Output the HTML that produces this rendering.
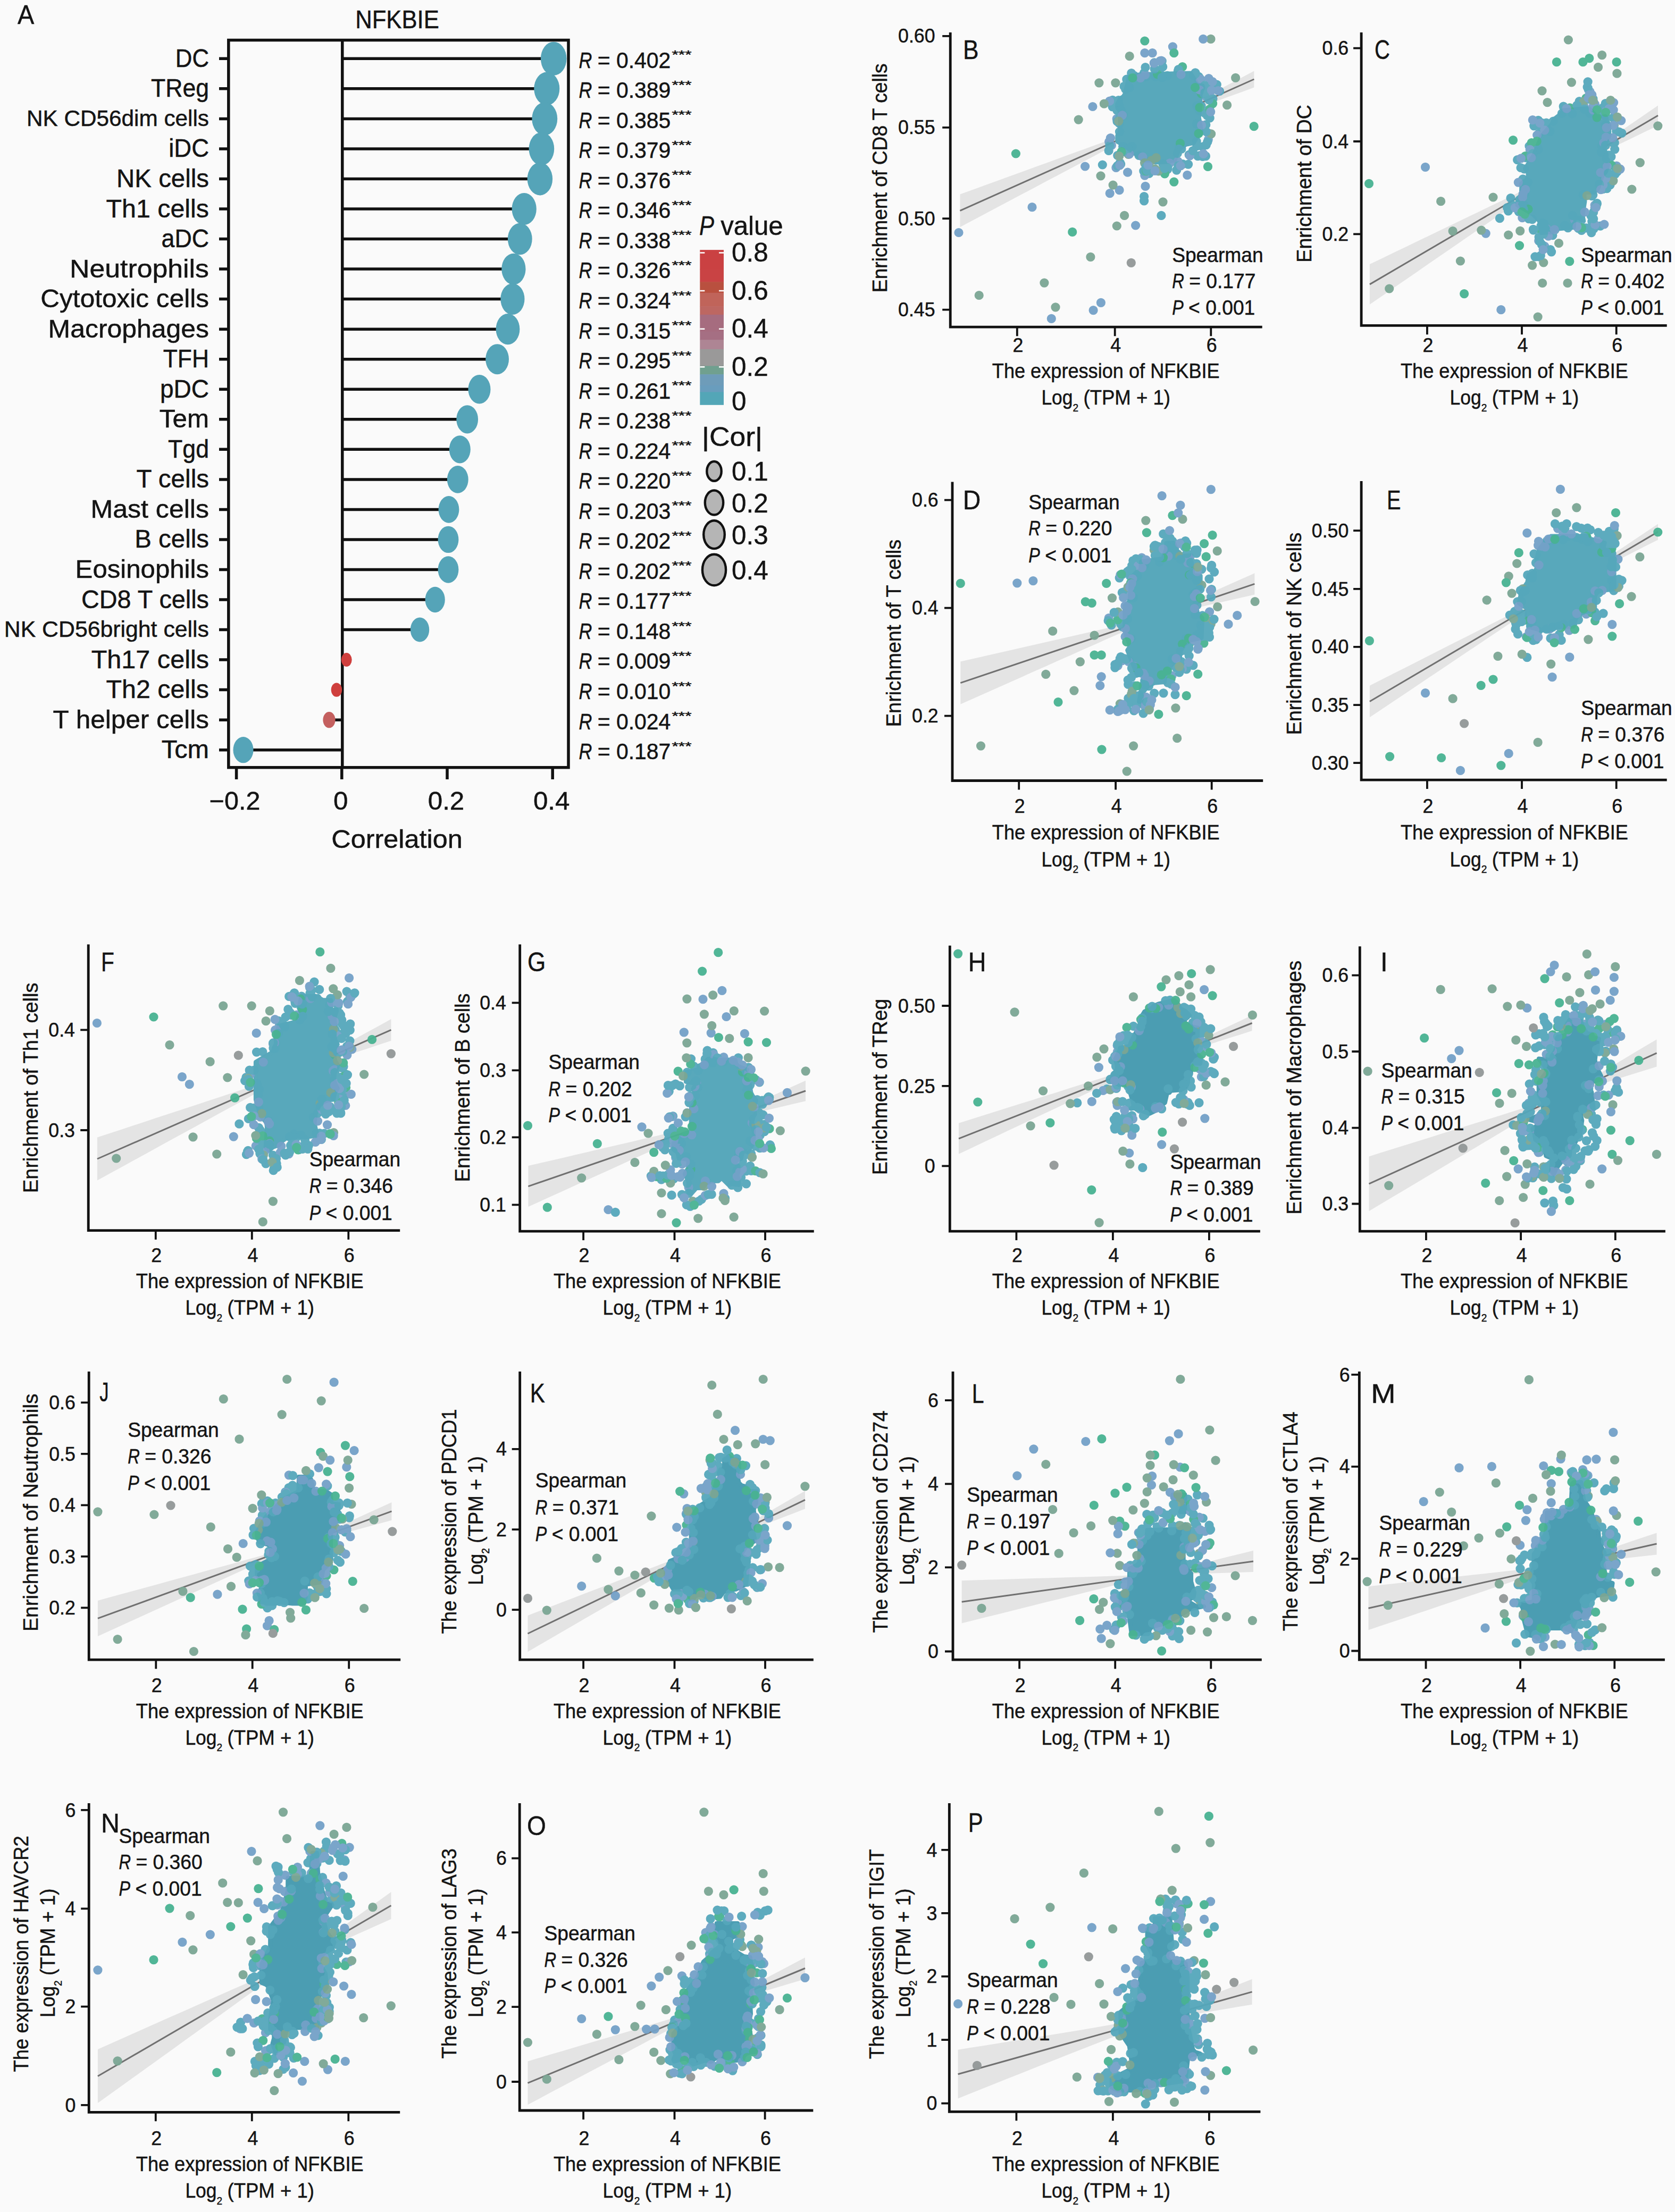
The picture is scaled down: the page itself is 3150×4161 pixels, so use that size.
<!DOCTYPE html>
<html lang="en"><head><meta charset="utf-8"><title>NFKBIE immune infiltration correlation</title>
<style>html,body{margin:0;padding:0;background:#fafafa}svg{display:block}text{font-family:"Liberation Sans",sans-serif;fill:#141414;stroke:#141414;stroke-width:0.5px}</style></head><body>
<svg width="3150" height="4161" viewBox="0 0 3150 4161" role="img" aria-label="NFKBIE correlation with immune infiltration and checkpoint genes">
<rect width="3150" height="4161" fill="#fafafa"/>
<g id="pA"><text x="668.2" y="52.5" font-size="47.6" textLength="157.6" lengthAdjust="spacingAndGlyphs">NFKBIE</text>
<text x="33" y="45" font-size="50.1" textLength="31.3" lengthAdjust="spacingAndGlyphs">A</text>
<g transform="translate(1088.5 127.6)"><text x="0" y="0" font-size="42.4" font-style="italic" textLength="24.9" lengthAdjust="spacingAndGlyphs">R</text><text x="35.2" y="0" font-size="42.4" textLength="137.7" lengthAdjust="spacingAndGlyphs">= 0.402</text><text x="175" y="-17.4" font-size="22.9" stroke="none" textLength="37" lengthAdjust="spacingAndGlyphs">***</text></g>
<g transform="translate(1088.5 184.1)"><text x="0" y="0" font-size="42.4" font-style="italic" textLength="24.9" lengthAdjust="spacingAndGlyphs">R</text><text x="35.2" y="0" font-size="42.4" textLength="137.7" lengthAdjust="spacingAndGlyphs">= 0.389</text><text x="175" y="-17.4" font-size="22.9" stroke="none" textLength="37" lengthAdjust="spacingAndGlyphs">***</text></g>
<g transform="translate(1088.5 240.7)"><text x="0" y="0" font-size="42.4" font-style="italic" textLength="24.9" lengthAdjust="spacingAndGlyphs">R</text><text x="35.2" y="0" font-size="42.4" textLength="137.7" lengthAdjust="spacingAndGlyphs">= 0.385</text><text x="175" y="-17.4" font-size="22.9" stroke="none" textLength="37" lengthAdjust="spacingAndGlyphs">***</text></g>
<g transform="translate(1088.5 297.2)"><text x="0" y="0" font-size="42.4" font-style="italic" textLength="24.9" lengthAdjust="spacingAndGlyphs">R</text><text x="35.2" y="0" font-size="42.4" textLength="137.7" lengthAdjust="spacingAndGlyphs">= 0.379</text><text x="175" y="-17.4" font-size="22.9" stroke="none" textLength="37" lengthAdjust="spacingAndGlyphs">***</text></g>
<g transform="translate(1088.5 353.8)"><text x="0" y="0" font-size="42.4" font-style="italic" textLength="24.9" lengthAdjust="spacingAndGlyphs">R</text><text x="35.2" y="0" font-size="42.4" textLength="137.7" lengthAdjust="spacingAndGlyphs">= 0.376</text><text x="175" y="-17.4" font-size="22.9" stroke="none" textLength="37" lengthAdjust="spacingAndGlyphs">***</text></g>
<g transform="translate(1088.5 410.3)"><text x="0" y="0" font-size="42.4" font-style="italic" textLength="24.9" lengthAdjust="spacingAndGlyphs">R</text><text x="35.2" y="0" font-size="42.4" textLength="137.7" lengthAdjust="spacingAndGlyphs">= 0.346</text><text x="175" y="-17.4" font-size="22.9" stroke="none" textLength="37" lengthAdjust="spacingAndGlyphs">***</text></g>
<g transform="translate(1088.5 466.8)"><text x="0" y="0" font-size="42.4" font-style="italic" textLength="24.9" lengthAdjust="spacingAndGlyphs">R</text><text x="35.2" y="0" font-size="42.4" textLength="137.7" lengthAdjust="spacingAndGlyphs">= 0.338</text><text x="175" y="-17.4" font-size="22.9" stroke="none" textLength="37" lengthAdjust="spacingAndGlyphs">***</text></g>
<g transform="translate(1088.5 523.4)"><text x="0" y="0" font-size="42.4" font-style="italic" textLength="24.9" lengthAdjust="spacingAndGlyphs">R</text><text x="35.2" y="0" font-size="42.4" textLength="137.7" lengthAdjust="spacingAndGlyphs">= 0.326</text><text x="175" y="-17.4" font-size="22.9" stroke="none" textLength="37" lengthAdjust="spacingAndGlyphs">***</text></g>
<g transform="translate(1088.5 579.9)"><text x="0" y="0" font-size="42.4" font-style="italic" textLength="24.9" lengthAdjust="spacingAndGlyphs">R</text><text x="35.2" y="0" font-size="42.4" textLength="137.7" lengthAdjust="spacingAndGlyphs">= 0.324</text><text x="175" y="-17.4" font-size="22.9" stroke="none" textLength="37" lengthAdjust="spacingAndGlyphs">***</text></g>
<g transform="translate(1088.5 636.5)"><text x="0" y="0" font-size="42.4" font-style="italic" textLength="24.9" lengthAdjust="spacingAndGlyphs">R</text><text x="35.2" y="0" font-size="42.4" textLength="137.7" lengthAdjust="spacingAndGlyphs">= 0.315</text><text x="175" y="-17.4" font-size="22.9" stroke="none" textLength="37" lengthAdjust="spacingAndGlyphs">***</text></g>
<g transform="translate(1088.5 693)"><text x="0" y="0" font-size="42.4" font-style="italic" textLength="24.9" lengthAdjust="spacingAndGlyphs">R</text><text x="35.2" y="0" font-size="42.4" textLength="137.7" lengthAdjust="spacingAndGlyphs">= 0.295</text><text x="175" y="-17.4" font-size="22.9" stroke="none" textLength="37" lengthAdjust="spacingAndGlyphs">***</text></g>
<g transform="translate(1088.5 749.5)"><text x="0" y="0" font-size="42.4" font-style="italic" textLength="24.9" lengthAdjust="spacingAndGlyphs">R</text><text x="35.2" y="0" font-size="42.4" textLength="137.7" lengthAdjust="spacingAndGlyphs">= 0.261</text><text x="175" y="-17.4" font-size="22.9" stroke="none" textLength="37" lengthAdjust="spacingAndGlyphs">***</text></g>
<g transform="translate(1088.5 806.1)"><text x="0" y="0" font-size="42.4" font-style="italic" textLength="24.9" lengthAdjust="spacingAndGlyphs">R</text><text x="35.2" y="0" font-size="42.4" textLength="137.7" lengthAdjust="spacingAndGlyphs">= 0.238</text><text x="175" y="-17.4" font-size="22.9" stroke="none" textLength="37" lengthAdjust="spacingAndGlyphs">***</text></g>
<g transform="translate(1088.5 862.6)"><text x="0" y="0" font-size="42.4" font-style="italic" textLength="24.9" lengthAdjust="spacingAndGlyphs">R</text><text x="35.2" y="0" font-size="42.4" textLength="137.7" lengthAdjust="spacingAndGlyphs">= 0.224</text><text x="175" y="-17.4" font-size="22.9" stroke="none" textLength="37" lengthAdjust="spacingAndGlyphs">***</text></g>
<g transform="translate(1088.5 919.2)"><text x="0" y="0" font-size="42.4" font-style="italic" textLength="24.9" lengthAdjust="spacingAndGlyphs">R</text><text x="35.2" y="0" font-size="42.4" textLength="137.7" lengthAdjust="spacingAndGlyphs">= 0.220</text><text x="175" y="-17.4" font-size="22.9" stroke="none" textLength="37" lengthAdjust="spacingAndGlyphs">***</text></g>
<g transform="translate(1088.5 975.7)"><text x="0" y="0" font-size="42.4" font-style="italic" textLength="24.9" lengthAdjust="spacingAndGlyphs">R</text><text x="35.2" y="0" font-size="42.4" textLength="137.7" lengthAdjust="spacingAndGlyphs">= 0.203</text><text x="175" y="-17.4" font-size="22.9" stroke="none" textLength="37" lengthAdjust="spacingAndGlyphs">***</text></g>
<g transform="translate(1088.5 1032.2)"><text x="0" y="0" font-size="42.4" font-style="italic" textLength="24.9" lengthAdjust="spacingAndGlyphs">R</text><text x="35.2" y="0" font-size="42.4" textLength="137.7" lengthAdjust="spacingAndGlyphs">= 0.202</text><text x="175" y="-17.4" font-size="22.9" stroke="none" textLength="37" lengthAdjust="spacingAndGlyphs">***</text></g>
<g transform="translate(1088.5 1088.8)"><text x="0" y="0" font-size="42.4" font-style="italic" textLength="24.9" lengthAdjust="spacingAndGlyphs">R</text><text x="35.2" y="0" font-size="42.4" textLength="137.7" lengthAdjust="spacingAndGlyphs">= 0.202</text><text x="175" y="-17.4" font-size="22.9" stroke="none" textLength="37" lengthAdjust="spacingAndGlyphs">***</text></g>
<g transform="translate(1088.5 1145.3)"><text x="0" y="0" font-size="42.4" font-style="italic" textLength="24.9" lengthAdjust="spacingAndGlyphs">R</text><text x="35.2" y="0" font-size="42.4" textLength="137.7" lengthAdjust="spacingAndGlyphs">= 0.177</text><text x="175" y="-17.4" font-size="22.9" stroke="none" textLength="37" lengthAdjust="spacingAndGlyphs">***</text></g>
<g transform="translate(1088.5 1201.9)"><text x="0" y="0" font-size="42.4" font-style="italic" textLength="24.9" lengthAdjust="spacingAndGlyphs">R</text><text x="35.2" y="0" font-size="42.4" textLength="137.7" lengthAdjust="spacingAndGlyphs">= 0.148</text><text x="175" y="-17.4" font-size="22.9" stroke="none" textLength="37" lengthAdjust="spacingAndGlyphs">***</text></g>
<g transform="translate(1088.5 1258.4)"><text x="0" y="0" font-size="42.4" font-style="italic" textLength="24.9" lengthAdjust="spacingAndGlyphs">R</text><text x="35.2" y="0" font-size="42.4" textLength="137.7" lengthAdjust="spacingAndGlyphs">= 0.009</text><text x="175" y="-17.4" font-size="22.9" stroke="none" textLength="37" lengthAdjust="spacingAndGlyphs">***</text></g>
<g transform="translate(1088.5 1314.9)"><text x="0" y="0" font-size="42.4" font-style="italic" textLength="24.9" lengthAdjust="spacingAndGlyphs">R</text><text x="35.2" y="0" font-size="42.4" textLength="137.7" lengthAdjust="spacingAndGlyphs">= 0.010</text><text x="175" y="-17.4" font-size="22.9" stroke="none" textLength="37" lengthAdjust="spacingAndGlyphs">***</text></g>
<g transform="translate(1088.5 1371.5)"><text x="0" y="0" font-size="42.4" font-style="italic" textLength="24.9" lengthAdjust="spacingAndGlyphs">R</text><text x="35.2" y="0" font-size="42.4" textLength="137.7" lengthAdjust="spacingAndGlyphs">= 0.024</text><text x="175" y="-17.4" font-size="22.9" stroke="none" textLength="37" lengthAdjust="spacingAndGlyphs">***</text></g>
<g transform="translate(1088.5 1428)"><text x="0" y="0" font-size="42.4" font-style="italic" textLength="24.9" lengthAdjust="spacingAndGlyphs">R</text><text x="35.2" y="0" font-size="42.4" textLength="137.7" lengthAdjust="spacingAndGlyphs">= 0.187</text><text x="175" y="-17.4" font-size="22.9" stroke="none" textLength="37" lengthAdjust="spacingAndGlyphs">***</text></g>
<text x="329.8" y="125.8" font-size="47.3" textLength="63.2" lengthAdjust="spacingAndGlyphs">DC</text>
<text x="284" y="182.3" font-size="47.3" textLength="109" lengthAdjust="spacingAndGlyphs">TReg</text>
<text x="49.9" y="236.9" font-size="41.6" textLength="343.1" lengthAdjust="spacingAndGlyphs">NK CD56dim cells</text>
<text x="317.2" y="295.4" font-size="47.3" textLength="75.8" lengthAdjust="spacingAndGlyphs">iDC</text>
<text x="219.1" y="352" font-size="47.3" textLength="173.9" lengthAdjust="spacingAndGlyphs">NK cells</text>
<text x="199.6" y="408.5" font-size="47.3" textLength="193.4" lengthAdjust="spacingAndGlyphs">Th1 cells</text>
<text x="303.5" y="465" font-size="47.3" textLength="89.5" lengthAdjust="spacingAndGlyphs">aDC</text>
<text x="131" y="521.6" font-size="47.3" textLength="262" lengthAdjust="spacingAndGlyphs">Neutrophils</text>
<text x="76.3" y="578.1" font-size="47.3" textLength="316.7" lengthAdjust="spacingAndGlyphs">Cytotoxic cells</text>
<text x="90.6" y="634.7" font-size="47.3" textLength="302.4" lengthAdjust="spacingAndGlyphs">Macrophages</text>
<text x="306.7" y="691.2" font-size="47.3" textLength="86.3" lengthAdjust="spacingAndGlyphs">TFH</text>
<text x="300.9" y="747.7" font-size="47.3" textLength="92.1" lengthAdjust="spacingAndGlyphs">pDC</text>
<text x="299.8" y="804.3" font-size="47.3" textLength="93.2" lengthAdjust="spacingAndGlyphs">Tem</text>
<text x="316" y="860.8" font-size="47.3" textLength="77" lengthAdjust="spacingAndGlyphs">Tgd</text>
<text x="256.4" y="917.4" font-size="47.3" textLength="136.6" lengthAdjust="spacingAndGlyphs">T cells</text>
<text x="170.5" y="973.9" font-size="47.3" textLength="222.5" lengthAdjust="spacingAndGlyphs">Mast cells</text>
<text x="253.3" y="1030.4" font-size="47.3" textLength="139.7" lengthAdjust="spacingAndGlyphs">B cells</text>
<text x="141.6" y="1087" font-size="47.3" textLength="251.4" lengthAdjust="spacingAndGlyphs">Eosinophils</text>
<text x="152.9" y="1143.5" font-size="47.3" textLength="240.1" lengthAdjust="spacingAndGlyphs">CD8 T cells</text>
<text x="7.8" y="1198.1" font-size="41.6" textLength="385.2" lengthAdjust="spacingAndGlyphs">NK CD56bright cells</text>
<text x="171.7" y="1256.6" font-size="47.3" textLength="221.3" lengthAdjust="spacingAndGlyphs">Th17 cells</text>
<text x="199.6" y="1313.1" font-size="47.3" textLength="193.4" lengthAdjust="spacingAndGlyphs">Th2 cells</text>
<text x="99.6" y="1369.7" font-size="47.3" textLength="293.4" lengthAdjust="spacingAndGlyphs">T helper cells</text>
<text x="303.8" y="1426.2" font-size="47.3" textLength="89.2" lengthAdjust="spacingAndGlyphs">Tcm</text>
<path d="M412 110.3H430M412 166.8H430M412 223.4H430M412 279.9H430M412 336.5H430M412 393H430M412 449.5H430M412 506.1H430M412 562.6H430M412 619.2H430M412 675.7H430M412 732.2H430M412 788.8H430M412 845.3H430M412 901.9H430M412 958.4H430M412 1014.9H430M412 1071.5H430M412 1128H430M412 1184.6H430M412 1241.1H430M412 1297.6H430M412 1354.2H430M412 1410.7H430M444.6 1443V1466M642.8 1443V1466M841 1443V1466M1039.2 1443V1466" stroke="#111" stroke-width="5.5" fill="none"/>
<path d="M642.8 110.3H1041.2M642.8 166.8H1028.3M642.8 223.4H1024.3M642.8 279.9H1018.4M642.8 336.5H1015.4M642.8 393H985.7M642.8 449.5H977.8M642.8 506.1H965.9M642.8 562.6H963.9M642.8 619.2H955M642.8 675.7H935.1M642.8 732.2H901.5M642.8 788.8H878.7M642.8 845.3H864.8M642.8 901.9H860.8M642.8 958.4H844M642.8 1014.9H843M642.8 1071.5H843M642.8 1128H818.2M642.8 1184.6H789.5M642.8 1241.1H651.7M642.8 1297.6H632.9M642.8 1354.2H619M642.8 1410.7H457.5" stroke="#111" stroke-width="5.5" fill="none"/>
<path d="M643.8 75.5V1443.7" stroke="#111" stroke-width="5.5" fill="none"/>
<ellipse cx="1041.2" cy="110.3" rx="24.3" ry="31.6" fill="#55a4b8"/><ellipse cx="1028.3" cy="166.8" rx="24" ry="31.2" fill="#55a4b8"/><ellipse cx="1024.3" cy="223.4" rx="23.9" ry="31.1" fill="#55a4b8"/><ellipse cx="1018.4" cy="279.9" rx="23.8" ry="31" fill="#55a4b8"/><ellipse cx="1015.4" cy="336.5" rx="23.7" ry="30.9" fill="#55a4b8"/><ellipse cx="985.7" cy="393" rx="23.1" ry="30" fill="#55a4b8"/><ellipse cx="977.8" cy="449.5" rx="22.9" ry="29.8" fill="#55a4b8"/><ellipse cx="965.9" cy="506.1" rx="22.6" ry="29.4" fill="#55a4b8"/><ellipse cx="963.9" cy="562.6" rx="22.6" ry="29.4" fill="#55a4b8"/><ellipse cx="955" cy="619.2" rx="22.4" ry="29.1" fill="#55a4b8"/><ellipse cx="935.1" cy="675.7" rx="21.9" ry="28.5" fill="#55a4b8"/><ellipse cx="901.5" cy="732.2" rx="21" ry="27.3" fill="#55a4b8"/><ellipse cx="878.7" cy="788.8" rx="20.4" ry="26.6" fill="#55a4b8"/><ellipse cx="864.8" cy="845.3" rx="20" ry="26.1" fill="#55a4b8"/><ellipse cx="860.8" cy="901.9" rx="19.9" ry="25.9" fill="#55a4b8"/><ellipse cx="844" cy="958.4" rx="19.4" ry="25.3" fill="#55a4b8"/><ellipse cx="843" cy="1014.9" rx="19.4" ry="25.2" fill="#55a4b8"/><ellipse cx="843" cy="1071.5" rx="19.4" ry="25.2" fill="#55a4b8"/><ellipse cx="818.2" cy="1128" rx="18.6" ry="24.2" fill="#55a4b8"/><ellipse cx="789.5" cy="1184.6" rx="17.7" ry="23" fill="#55a4b8"/><ellipse cx="651.7" cy="1241.1" rx="10" ry="13" fill="#cf3f3d"/><ellipse cx="632.9" cy="1297.6" rx="10.2" ry="13.2" fill="#cf3f3d"/><ellipse cx="619" cy="1354.2" rx="11.6" ry="15.1" fill="#c4605f"/><ellipse cx="457.5" cy="1410.7" rx="19" ry="24.6" fill="#55a4b8"/>
<rect x="429.8" y="75.5" width="639.2" height="1368.2" fill="none" stroke="#111" stroke-width="5.5"/>
<text x="393.8" y="1522.5" font-size="47.6" textLength="95.6" lengthAdjust="spacingAndGlyphs">−0.2</text>
<text x="627.1" y="1522.5" font-size="47.6" textLength="27.5" lengthAdjust="spacingAndGlyphs">0</text>
<text x="804.7" y="1522.5" font-size="47.6" textLength="68.6" lengthAdjust="spacingAndGlyphs">0.2</text>
<text x="1002.9" y="1522.5" font-size="47.6" textLength="68.6" lengthAdjust="spacingAndGlyphs">0.4</text>
<text x="623.3" y="1595" font-size="48.1" textLength="246.5" lengthAdjust="spacingAndGlyphs">Correlation</text>
<g transform="translate(1315 441.6)"><text x="0" y="0" font-size="50.1" font-style="italic" textLength="28" lengthAdjust="spacingAndGlyphs">P</text><text x="40.2" y="0" font-size="50.1" textLength="117.5" lengthAdjust="spacingAndGlyphs">value</text></g>
<rect x="1316.3" y="470.1" width="44.7" height="37" fill="#ca4142"/>
<rect x="1316.3" y="506.5" width="44.7" height="24.3" fill="#c94344"/>
<rect x="1316.3" y="530.2" width="44.7" height="21.2" fill="#b9503f"/>
<rect x="1316.3" y="550.8" width="44.7" height="25.9" fill="#c0645a"/>
<rect x="1316.3" y="576.1" width="44.7" height="16.4" fill="#bd6762"/>
<rect x="1316.3" y="591.9" width="44.7" height="32.2" fill="#a66c7f"/>
<rect x="1316.3" y="623.5" width="44.7" height="16.4" fill="#a56f83"/>
<rect x="1316.3" y="639.4" width="44.7" height="18" fill="#ae8594"/>
<rect x="1316.3" y="656.8" width="44.7" height="32.2" fill="#9a9999"/>
<rect x="1316.3" y="688.4" width="44.7" height="16.4" fill="#70a08f"/>
<rect x="1316.3" y="704.2" width="44.7" height="21.2" fill="#6e9cb9"/>
<rect x="1316.3" y="724.8" width="44.7" height="13.3" fill="#699dbd"/>
<rect x="1316.3" y="737.5" width="44.7" height="24.3" fill="#53a6b7"/>
<text x="1376" y="492" font-size="50.1" textLength="68.6" lengthAdjust="spacingAndGlyphs">0.8</text>
<text x="1376" y="563.6" font-size="50.1" textLength="68.6" lengthAdjust="spacingAndGlyphs">0.6</text>
<text x="1376" y="635.2" font-size="50.1" textLength="68.6" lengthAdjust="spacingAndGlyphs">0.4</text>
<text x="1376" y="706.8" font-size="50.1" textLength="68.6" lengthAdjust="spacingAndGlyphs">0.2</text>
<text x="1376" y="771.9" font-size="50.1" textLength="27.5" lengthAdjust="spacingAndGlyphs">0</text>
<path d="M1316.3 475.5h9M1361 475.5h-9M1316.3 547.1h9M1361 547.1h-9M1316.3 618.7h9M1361 618.7h-9M1316.3 690.3h9M1361 690.3h-9" stroke="#fff" stroke-width="2.5" fill="none"/>
<text x="1320" y="839" font-size="50.1" textLength="114" lengthAdjust="spacingAndGlyphs">|Cor|</text>
<ellipse cx="1343" cy="886.4" rx="13.7" ry="18.4" fill="#b5b5b5" stroke="#111" stroke-width="4.4"/>
<text x="1376" y="904.4" font-size="50.1" textLength="68.6" lengthAdjust="spacingAndGlyphs">0.1</text>
<ellipse cx="1343" cy="945.5" rx="17.2" ry="23" fill="#b5b5b5" stroke="#111" stroke-width="4.4"/>
<text x="1376" y="963.5" font-size="50.1" textLength="68.6" lengthAdjust="spacingAndGlyphs">0.2</text>
<ellipse cx="1343" cy="1005.7" rx="19.8" ry="26.4" fill="#b5b5b5" stroke="#111" stroke-width="4.4"/>
<text x="1376" y="1023.7" font-size="50.1" textLength="68.6" lengthAdjust="spacingAndGlyphs">0.3</text>
<ellipse cx="1343" cy="1072" rx="22.1" ry="29.3" fill="#b5b5b5" stroke="#111" stroke-width="4.4"/>
<text x="1376" y="1090" font-size="50.1" textLength="68.6" lengthAdjust="spacingAndGlyphs">0.4</text></g>
<g id="pB">
<path d="M1805.4 365.6L1828.4 357.2L1851.5 348.8L1874.5 340.4L1897.6 332.1L1920.6 323.7L1943.6 315.3L1966.7 306.9L1989.7 298.5L2012.8 290.1L2035.8 281.7L2058.9 273.3L2081.9 264.9L2105 256.5L2128 248L2151 239.4L2174.1 230L2197.1 218.8L2220.2 206.8L2243.2 194.6L2266.3 182.4L2289.3 170.2L2312.4 158L2335.4 145.8L2358.4 133.6L2358.4 164.5L2335.4 172.9L2312.4 181.3L2289.3 189.7L2266.3 198.1L2243.2 206.5L2220.2 215L2197.1 223.6L2174.1 232.9L2151 244.2L2128 256.2L2105 268.4L2081.9 280.5L2058.9 292.8L2035.8 305L2012.8 317.2L1989.7 329.4L1966.7 341.6L1943.6 353.9L1920.6 366.1L1897.6 378.3L1874.5 390.5L1851.5 402.8L1828.4 415L1805.4 427.2" fill="#e4e4e4"/>
<path d="M1805.4 396.4L2358.4 149" stroke="#707070" stroke-width="3" fill="none"/>
<path d="M2101.3 195.5L2101.3 202.6L2105.2 207.3L2106.6 213.4L2106.6 245.5L2104.9 250.8L2101.3 255.1L2101.3 266.3L2107.8 270.4L2109 273.8L2112.9 273.7L2119.8 277.8L2150.6 301.7L2169.2 301.8L2172.4 305.5L2199.5 304.2L2202.8 301.9L2209.3 301.7L2214.5 287L2220.1 278.9L2230.5 271.7L2244.7 269.1L2249.8 260L2258.4 251.9L2259.1 244.8L2254.7 220.8L2257.1 200.6L2257.3 179L2262.5 164.7L2261.3 161.2L2250.6 158.7L2249.7 154.9L2238.9 137.5L2143.5 140.1L2123.3 144.4L2115.4 177L2112.4 181.6L2107.2 184.8Z" fill="#58a8bb" stroke="#58a8bb" stroke-width="8" stroke-linejoin="round"/>
<g stroke-width="17.2" stroke-linecap="round" fill="none" opacity="0.95">
<path d="M2153.7 309h0M2254.2 144.2h0M2254.4 151.9h0M2250.4 233.1h0M2250.2 266h0M2103.5 188.7h0M2279.5 163.2h0M2224.4 308.7h0M2275.2 222h0M2100.8 207.6h0M2247.9 136.9h0M2254.9 145.1h0M2151.6 369.6h0M2073.3 310h0M2281 185.5h0M2273.4 219.6h0M2161 326.3h0M2126.6 146.3h0M2124 164.6h0M2261.4 276h0M2267.8 234.7h0M2183.9 405.4h0M2255.1 153.2h0M2105.5 247.9h0M2278.3 159.2h0M2257.9 149h0M2159.7 303.5h0M2185.2 114.9h0M2108.2 207.8h0M2221.9 280.2h0M2151.6 137h0M2268.3 272.6h0M2274.2 176.9h0M2172.9 144.2h0M2128.9 275.6h0M2195.1 142.4h0M2154.7 144.6h0M2251 199.2h0M2265.5 212.6h0M2250.8 274.7h0M2270.2 217.3h0" stroke="#55a7bb"/>
<path d="M2070.4 569.3h0M2272.3 262.5h0M2273.2 147.5h0M2135.6 424h0M2199.8 306.9h0M2167.2 99.7h0M2256.9 148.7h0M1941 389.7h0M2100.2 223.4h0M2268.4 182.1h0M2152.8 330.1h0M2098.9 315.4h0M2153.7 140.6h0M2152.8 99.7h0M2183.9 114h0M2154 350.4h0M2215.1 303.4h0" stroke="#74a1c8"/>
<path d="M2219.5 269.7h0M2160.2 309.3h0M2016.7 436.4h0M2280.6 194.9h0M2274.8 205.4h0M2223.7 125.6h0M2152.8 77h0M2358.2 237.7h0M2259.2 176h0" stroke="#49b392"/>
<path d="M2070 330.9h0M2122 290.4h0M2100.3 425h0" stroke="#7ba694"/>
<path d="M2132.7 142h0M2255.7 207.9h0M2236.2 291.2h0M2116.7 167.7h0M2216.2 130.7h0M2252.5 293.7h0M2085.1 283.3h0M2265.5 160.8h0M2267.5 293.6h0M2217.2 280.3h0M2150.8 321.8h0M2114 162.4h0M2116.2 277.7h0M2154 126.5h0M2293.6 171.5h0M2112.3 216.8h0M2092.3 188.3h0M2094.7 199.9h0M2107.6 308.9h0M2196 315.5h0M2101 228.5h0M2188.9 315.2h0M2215.7 311.8h0M2195.6 318.6h0M2118.8 149.2h0M2104.8 199.5h0M2180.5 132.5h0M2186.7 125.7h0M2170.8 117.8h0M2092.1 200.8h0M2121.4 163.2h0M2272.9 216.8h0M2212.7 320.1h0M2111.6 275.7h0M2234.6 309.1h0M2261.8 294.3h0M2141.9 292.3h0M2264.5 176.9h0M2127.7 137.6h0M2244.3 142h0M2288.3 159h0M2284.1 159.7h0" stroke="#55a7bb"/>
<path d="M2280.2 153.7h0M2205.4 87.8h0M2237.6 292.9h0M2123.9 289.8h0M2272.1 250.4h0M2090.4 273.5h0M2255.9 169h0M2148.9 295h0M2085.6 266.5h0" stroke="#74a1c8"/>
<path d="M2176.6 139.6h0M2155.7 321.9h0M2207.8 342.1h0M2207.8 99.7h0M2190.4 326.8h0" stroke="#49b392"/>
<path d="M2066.9 155.8h0M2124.2 105.7h0M2307.6 197.6h0M2152.5 306.3h0M2323.6 146.3h0M2277.6 251.8h0M2165.4 301.9h0M2050.9 483.3h0M2172.3 317.8h0M2187 379.8h0M2097.9 155.8h0M2174.3 296.6h0M2277 73.4h0M2178.6 322h0" stroke="#7ba694"/>
<path d="M2268.1 247.5h0M2101.4 311.9h0M2156.7 320.8h0M2101.7 292.3h0M2106.4 306.2h0M2270.9 266.9h0M2214.3 288.3h0M2112 285.6h0M2104.9 232h0M2151.6 377.9h0M2190.1 317h0M2273.5 187.6h0M2248 138.9h0M2185.1 145.6h0M2265.8 174.4h0M2259.2 199.4h0M2106.1 220.3h0M2086.8 274.2h0M2215.4 133.7h0M2121.7 279.3h0M2187 308.7h0M2101.8 192.3h0M2155.6 313.9h0M2256.3 292.7h0M2243.3 283.6h0M2171.2 129.6h0" stroke="#55a7bb"/>
<path d="M2120.6 324.2h0M2054.9 200.5h0M2086.7 190.2h0M2181.7 114.6h0M2220.2 311.8h0M2088.4 259.5h0M2144.6 146.7h0M1977.3 599.4h0M2262.7 73.4h0M1803 437.5h0M2232.8 329.4h0M2040.6 313h0M2263.2 289.3h0M2278.4 169.8h0M2276.7 210.3h0M2110.6 216.9h0M2259.5 235.4h0M2291 170.5h0M2105.1 357.6h0M2056.1 583.6h0M2087.2 363.6h0M2159 310.6h0M2170.3 118.9h0M2172 321.4h0M2221 140.2h0M2105.9 310.8h0" stroke="#74a1c8"/>
<path d="M2254.1 251.1h0M2247.5 164.5h0M1910.4 289h0M2271.5 313.4h0M2109 285.4h0M2256 202.2h0M2130 146.4h0" stroke="#49b392"/>
<path d="M1841.2 555.5h0M1985 577.9h0M2028.2 225.1h0M2104.8 293.7h0M1963.9 532.1h0M2076.4 195.2h0M2103.8 227.9h0M2114.6 405.4h0M2093.1 348.1h0" stroke="#7ba694"/>
<path d="M2127.3 494.3h0" stroke="#929898"/>
</g>
<path d="M1787.2 61.1V615.2H2373.7" stroke="#111" stroke-width="4.8" fill="none"/>
<path d="M1787.2 67.8h-15M1787.2 239.8h-15M1787.2 411.2h-15M1787.2 582.7h-15M1912.8 615.2v17M2096.7 615.2v17M2277.3 615.2v17" stroke="#111" stroke-width="3.8" fill="none"/>
<text x="1689.1" y="80.4" font-size="36.3" textLength="69.5" lengthAdjust="spacingAndGlyphs">0.60</text>
<text x="1689.1" y="252.4" font-size="36.3" textLength="69.5" lengthAdjust="spacingAndGlyphs">0.55</text>
<text x="1689.1" y="423.8" font-size="36.3" textLength="69.5" lengthAdjust="spacingAndGlyphs">0.50</text>
<text x="1689.1" y="595.3" font-size="36.3" textLength="69.5" lengthAdjust="spacingAndGlyphs">0.45</text>
<text x="1904.4" y="661.5" font-size="36.3" textLength="19.9" lengthAdjust="spacingAndGlyphs">2</text>
<text x="2088.3" y="661.5" font-size="36.3" textLength="19.9" lengthAdjust="spacingAndGlyphs">4</text>
<text x="2268.8" y="661.5" font-size="36.3" textLength="19.9" lengthAdjust="spacingAndGlyphs">6</text>
<text x="1865.8" y="711.3" font-size="38.5" textLength="427.9" lengthAdjust="spacingAndGlyphs">The expression of NFKBIE</text>
<g transform="translate(2079.7 761.4)"><text x="-121.3" y="0" font-size="38.5" textLength="59.1" lengthAdjust="spacingAndGlyphs">Log</text><text x="-62.2" y="12.5" font-size="19.3" stroke="none" textLength="10.6" lengthAdjust="spacingAndGlyphs">2</text><text x="-42.2" y="0" font-size="38.5" textLength="163.4" lengthAdjust="spacingAndGlyphs">(TPM + 1)</text></g>
<text x="-215.4" y="0" font-size="38.5" transform="translate(1667.7 334.8) rotate(-90)" textLength="430.8" lengthAdjust="spacingAndGlyphs">Enrichment of CD8 T cells</text>
<text x="1811.1" y="110.8" font-size="50.1" textLength="29.5" lengthAdjust="spacingAndGlyphs">B</text>
<text x="2204.2" y="492.9" font-size="38.5" textLength="171.4" lengthAdjust="spacingAndGlyphs">Spearman</text>
<g transform="translate(2204.2 542.1)"><text x="0" y="0" font-size="38.5" font-style="italic" textLength="22.6" lengthAdjust="spacingAndGlyphs">R</text><text x="32" y="0" font-size="38.5" textLength="125.2" lengthAdjust="spacingAndGlyphs">= 0.177</text></g>
<g transform="translate(2204.2 592.2)"><text x="0" y="0" font-size="38.5" font-style="italic" textLength="21.5" lengthAdjust="spacingAndGlyphs">P</text><text x="30.9" y="0" font-size="38.5" textLength="125.2" lengthAdjust="spacingAndGlyphs">&lt; 0.001</text></g>
</g>
<g id="pC">
<path d="M2575.9 497L2598.5 486.2L2621.1 475.3L2643.7 464.4L2666.3 453.5L2688.8 442.7L2711.4 431.8L2734 420.9L2756.6 410L2779.2 399.2L2801.8 388.3L2824.4 377.4L2847 366.5L2869.5 355.6L2892.1 344.7L2914.7 333.6L2937.3 321.8L2959.9 307.2L2982.5 291.8L3005.1 276.3L3027.7 260.7L3050.2 245.1L3072.8 229.5L3095.4 214L3118 198.4L3118 236.3L3095.4 247.1L3072.8 258L3050.2 268.9L3027.7 279.8L3005.1 290.7L2982.5 301.6L2959.9 312.7L2937.3 324.6L2914.7 339.2L2892.1 354.6L2869.5 370.2L2847 385.7L2824.4 401.3L2801.8 416.9L2779.2 432.5L2756.6 448.1L2734 463.7L2711.4 479.3L2688.8 494.8L2666.3 510.4L2643.7 526L2621.1 541.6L2598.5 557.2L2575.9 572.8" fill="#e4e4e4"/>
<path d="M2575.9 534.9L3118 217.3" stroke="#707070" stroke-width="3" fill="none"/>
<path d="M2853.7 373.3L2853.7 386L2883.9 403.8L2894.9 416.1L2898.9 438L2920.3 436.4L2930.2 430.5L2959.6 428.1L2960.6 413.5L2963.2 410.4L2970 411.5L2978.3 415.8L2976.2 404.8L2980.4 379.2L2979.1 364.2L2982.5 361.7L2998.3 361.7L3005.2 354.7L3013.5 330.2L3020 323.2L3023.8 310.6L3023.8 300.9L3020.7 295.9L3021.2 291.1L3017.1 279.5L3019.1 270.1L3026.2 255.4L3026.2 235.9L3019.5 219L3011.8 219.9L3001.6 218.1L2988.4 203.7L2939.7 207.6L2936 213.7L2922.6 224.2L2917.9 234.4L2898.9 255.8L2884.6 291.5L2868.1 317L2873.3 323.8L2873.8 332.6L2870.2 338.6L2861.4 344.7L2860.9 364.8L2858.2 369.7Z" fill="#58a8bb" stroke="#58a8bb" stroke-width="8" stroke-linejoin="round"/>
<g stroke-width="17.2" stroke-linecap="round" fill="none" opacity="0.95">
<path d="M3015.2 202.1h0M2866.6 317.8h0M3028 348h0M3002.2 202.6h0M2993.9 416.8h0M3034.4 328.2h0M2892.9 226.3h0M2886.9 482.8h0M2977.5 366.2h0M3012.3 352.6h0M3036.3 268.4h0M2948.7 428.6h0M2867.6 342.3h0M2895.7 483.1h0M3029.9 294.9h0M2834.5 390.5h0M3014.3 355.6h0M2989.9 213.1h0M3021.9 354.7h0M2857.3 387.9h0M2884.8 236.8h0M2886.6 229.9h0M2892.8 281.4h0M3012.6 327.5h0M2871.6 342.6h0M2881.5 412.6h0M2940.2 200.2h0M3017.6 354.7h0M3049.9 250.3h0M3011.5 286.1h0M3003.1 383.7h0M3014.3 327.1h0M2856.1 398.1h0M3012.4 273.7h0M2866.5 365h0M2942.6 424.1h0M2876 274.9h0M2924 432.5h0M2891.1 278.3h0M2974.2 433.3h0M2887.9 271.5h0M2905.8 232h0M2841 372.6h0M3037.3 327.6h0" stroke="#55a7bb"/>
<path d="M2987.2 168.6h0M2904.7 463h0M2893.7 453h0M2999.2 390.5h0M2909 430.5h0M2999.4 196.1h0M3040.2 312h0M2899.4 459.6h0M2862.8 409.7h0M2993.6 179h0M2996.1 207h0M2999.2 385.9h0M2961.2 413.3h0M3014.1 216.5h0M2878.7 292.3h0M2822.8 582.7h0M3014.8 347.6h0M2989.9 172h0" stroke="#74a1c8"/>
<path d="M2988.8 109.6h0M2927.4 116.7h0M2880.2 268.6h0M2898.4 433.8h0M2857.5 461.8h0M2952.2 202.8h0M2574.5 345.3h0M3030.5 310.6h0M3001.7 388.8h0" stroke="#49b392"/>
<path d="M2612.7 543h0M2732.1 434.6h0M2996.6 191.2h0M2955.4 154.9h0M3005.5 126.3h0M3033.9 340.1h0M3084.3 305.9h0M3035.5 235.6h0M2858.7 434.3h0M2988.8 184.3h0M2900.7 532.5h0M2949.4 75h0M2836.7 442h0M2892.1 596.1h0" stroke="#7ba694"/>
<path d="M3041 323.2h0M2986.1 165.2h0M2997.4 430.1h0M2866.7 386.5h0M2836.5 396.9h0M2957.3 405.4h0M3033.4 221.5h0M2899.2 231h0M3003.3 382.4h0M2862.4 392h0M2906.3 430.2h0M2898.1 424.8h0M2915.7 469.5h0M2875.1 411.6h0M3037.4 325h0M3024.6 197.8h0M2982.9 428.9h0M2899.5 427.4h0M2968.2 429.4h0M2853.6 300.7h0M3039.8 246.9h0M2903.4 420.7h0M2985.1 163.6h0M2895.8 236.6h0M2993.5 368.7h0M2883.4 431.4h0M3018.7 218h0M3008.8 207.5h0M2941.4 204.2h0M3009.5 425.1h0M2894.3 250.8h0M2977.7 428.3h0M2970.1 190.5h0M2820.4 410.7h0M2864 336.8h0M2883.7 433h0M2900.5 419.8h0M2860.2 380.1h0M2970.9 425.5h0M2919.8 442.7h0M3019.4 235.4h0M2869.8 296.7h0M3040.5 316.8h0M2956.8 213.7h0M2873.5 343h0M2998.8 203.4h0M3044.5 248h0M2884.5 284.7h0M2913.7 441.2h0" stroke="#55a7bb"/>
<path d="M3019.7 335.6h0M2863.5 370.6h0M2852.8 388.3h0M2978.8 199.8h0M3048.7 226.9h0M3034.1 235.8h0M2911.8 444.2h0M3010 324.5h0M2794.2 439.1h0M3021.4 206.6h0M3022.4 313.2h0M3020.2 258.2h0M3015.9 268.7h0M2868.8 356.4h0M2999.8 422.9h0M3034.6 193h0M2877.2 281.4h0" stroke="#74a1c8"/>
<path d="M2873.9 393.4h0M2966.9 422.8h0M2974.4 428.4h0M2868.4 293.7h0M2976.9 116.7h0M2982.8 184.6h0M3040.1 116.7h0M2753.6 552.6h0" stroke="#49b392"/>
<path d="M2978.5 191h0M2902.8 494h0M2948 532.5h0M2900 170.9h0M2746.4 491h0M2709.6 378.7h0M2910 192.7h0M2808 371h0M2881.6 499.1h0M3117.8 236.8h0" stroke="#7ba694"/>
<path d="M2899.6 460.5h0M2908 231.1h0M2967.2 414.3h0M3021.5 298.3h0M2882.6 288.8h0M2865.3 393.7h0M2965.7 198.1h0M2843.6 385.6h0M2995.8 366.6h0M2917.6 473.8h0M2937.4 213.4h0M3025.4 291.8h0M2894.1 446.1h0M2860 315.5h0M2992.1 406h0M3024.7 325.9h0M2902.4 440.5h0M2902.9 436.7h0M2990.3 186.8h0M3019.2 194.5h0M2992.8 437.7h0M2907.8 235.4h0M3036.7 281h0M2986.1 153.8h0M3019.3 273.4h0M3031.3 266.9h0M2996.7 399.2h0M2863 386.3h0M2895.8 454.5h0M3032.4 267.8h0M2878.9 292.7h0M2921.1 228h0M2897.3 480.9h0M3007.8 346.5h0M2914.8 247.2h0M2996.7 411.5h0M2979.4 205.1h0M2963.8 423.4h0M2995.9 185.9h0" stroke="#55a7bb"/>
<path d="M2864.1 365.1h0M2946.2 204.2h0M3010.5 356.6h0M2993.8 178.3h0M2989 178.4h0M3047 318.1h0M2995.7 200.5h0M2902.1 469.5h0M2923.3 431.9h0M2904.8 244.9h0M2855.3 343.1h0M3032.7 259.1h0M2879.9 296.6h0M3026 204.4h0M2895.9 231.5h0M2882.3 225.6h0M2860.4 297.9h0M2987.1 184.4h0M2965.7 426.3h0M2890.7 254h0M3016.9 422h0M2980.3 398.9h0M3001.1 390.4h0M3034.2 206.8h0M2849.2 390.8h0M2680.5 314.3h0M3021.1 240.1h0" stroke="#74a1c8"/>
<path d="M3019.7 211.4h0M2867.5 402.8h0M2845.5 263.6h0M3003.2 220.8h0M2890.2 265.7h0M3003.2 206.6h0M2951.8 491.6h0M2862.2 398.6h0" stroke="#49b392"/>
<path d="M2984.4 368h0M3041.5 220.1h0M3028.8 188.5h0M3041.9 317h0M2931.5 457.5h0M3040.9 138.2h0M2785.8 433.1h0M3012.7 103.6h0M3068.8 356h0M2995.3 188.6h0" stroke="#7ba694"/>
</g>
<path d="M2560.1 61.1V612.3H3134.7" stroke="#111" stroke-width="4.8" fill="none"/>
<path d="M2560.1 90.7h-15M2560.1 266h-15M2560.1 440.4h-15M2683.9 612.3v17M2862 612.3v17M3039.7 612.3v17" stroke="#111" stroke-width="3.8" fill="none"/>
<text x="2486.6" y="103.3" font-size="36.3" textLength="49.6" lengthAdjust="spacingAndGlyphs">0.6</text>
<text x="2486.6" y="278.6" font-size="36.3" textLength="49.6" lengthAdjust="spacingAndGlyphs">0.4</text>
<text x="2486.6" y="453" font-size="36.3" textLength="49.6" lengthAdjust="spacingAndGlyphs">0.2</text>
<text x="2675.4" y="661.5" font-size="36.3" textLength="19.9" lengthAdjust="spacingAndGlyphs">2</text>
<text x="2853.6" y="661.5" font-size="36.3" textLength="19.9" lengthAdjust="spacingAndGlyphs">4</text>
<text x="3031.2" y="661.5" font-size="36.3" textLength="19.9" lengthAdjust="spacingAndGlyphs">6</text>
<text x="2634" y="711.3" font-size="38.5" textLength="427.9" lengthAdjust="spacingAndGlyphs">The expression of NFKBIE</text>
<g transform="translate(2847.9 761.4)"><text x="-121.3" y="0" font-size="38.5" textLength="59.1" lengthAdjust="spacingAndGlyphs">Log</text><text x="-62.2" y="12.5" font-size="19.3" stroke="none" textLength="10.6" lengthAdjust="spacingAndGlyphs">2</text><text x="-42.2" y="0" font-size="38.5" textLength="163.4" lengthAdjust="spacingAndGlyphs">(TPM + 1)</text></g>
<text x="-148.4" y="0" font-size="38.5" transform="translate(2465.5 345.3) rotate(-90)" textLength="296.7" lengthAdjust="spacingAndGlyphs">Enrichment of DC</text>
<text x="2585" y="110.8" font-size="50.1" textLength="28.9" lengthAdjust="spacingAndGlyphs">C</text>
<text x="2973.3" y="492.9" font-size="38.5" textLength="171.4" lengthAdjust="spacingAndGlyphs">Spearman</text>
<g transform="translate(2973.3 542.1)"><text x="0" y="0" font-size="38.5" font-style="italic" textLength="22.6" lengthAdjust="spacingAndGlyphs">R</text><text x="32" y="0" font-size="38.5" textLength="125.2" lengthAdjust="spacingAndGlyphs">= 0.402</text></g>
<g transform="translate(2973.3 592.2)"><text x="0" y="0" font-size="38.5" font-style="italic" textLength="21.5" lengthAdjust="spacingAndGlyphs">P</text><text x="30.9" y="0" font-size="38.5" textLength="125.2" lengthAdjust="spacingAndGlyphs">&lt; 0.001</text></g>
</g>
<g id="pD">
<path d="M1806.3 1244.5L1829.4 1239.3L1852.4 1234L1875.5 1228.8L1898.5 1223.5L1921.6 1218.2L1944.6 1213L1967.6 1207.7L1990.7 1202.4L2013.7 1197.2L2036.8 1191.9L2059.8 1186.6L2082.9 1181.4L2105.9 1176.1L2129 1170.7L2152 1165.3L2175 1159L2198.1 1149.8L2221.1 1139.7L2244.2 1129.5L2267.2 1119.3L2290.3 1109.1L2313.3 1098.8L2336.4 1088.6L2359.4 1078.3L2359.4 1118.4L2336.4 1123.7L2313.3 1129L2290.3 1134.2L2267.2 1139.5L2244.2 1144.8L2221.1 1150.1L2198.1 1155.6L2175 1161.9L2152 1171.1L2129 1181.2L2105.9 1191.4L2082.9 1201.6L2059.8 1211.9L2036.8 1222.1L2013.7 1232.4L1990.7 1242.6L1967.6 1252.9L1944.6 1263.1L1921.6 1273.4L1898.5 1283.7L1875.5 1293.9L1852.4 1304.2L1829.4 1314.4L1806.3 1324.7" fill="#e4e4e4"/>
<path d="M1806.3 1284.6L2359.4 1098.4" stroke="#707070" stroke-width="3" fill="none"/>
<path d="M2115.2 1139.6L2115.2 1187.2L2124.3 1212.8L2123.5 1218.1L2120.2 1223.2L2138.7 1269.4L2148.4 1268.8L2151.4 1271.9L2150 1280.8L2145.5 1289.3L2145.7 1298.9L2142.1 1320.1L2145.7 1320.2L2149.2 1302.9L2158.9 1290.5L2170.6 1284.8L2189.8 1283.1L2192 1267L2194.4 1265.2L2199.2 1264.7L2200.9 1253.3L2209.4 1243.6L2218.8 1238.1L2220.1 1224.4L2228 1211.6L2238.6 1204.6L2259.6 1199.8L2261 1162.8L2252.1 1153.3L2246.6 1122.8L2250.3 1115L2257.5 1107.5L2257.7 1083.3L2245.9 1082.2L2243.2 1080.1L2241 1058.3L2238.9 1052.2L2239.8 1044.7L2222.4 1046.2L2213.4 1036.9L2208.6 1023L2206.3 1021L2193.4 1021.6L2193 1033.8L2186.7 1050.8L2146.2 1056.4L2144.9 1073.1L2138.3 1075.5L2126.1 1087.1L2126.9 1094.6L2124.5 1130.6Z" fill="#58a8bb" stroke="#58a8bb" stroke-width="8" stroke-linejoin="round"/>
<g stroke-width="17.2" stroke-linecap="round" fill="none" opacity="0.95">
<path d="M2125.4 1123h0M2135.9 1266.6h0M2120.1 1075.4h0M2172.6 1037.3h0M2248 1156.5h0M2107.1 1160h0M2109.6 1333.9h0M2134.4 1290.1h0M2243.9 1251.6h0M2096.9 1250.1h0M2259.9 1188.1h0M2126.7 1201.3h0M2273.4 1190.5h0M2214.5 1042.1h0M2231.7 1021.9h0M2129.3 1320.4h0M2089 1172.9h0M2129.3 1315.1h0M2271.8 1192.5h0M2175.6 1031.6h0M2204.8 1017.8h0M2173.1 1026h0M2111 1179.1h0M2190.7 1268h0M2251 1194.6h0M2160.5 1290.6h0M2152.2 1327.5h0M2209.9 1240.3h0M2125.7 1084.2h0M2227.7 1028.6h0M2172.2 1036.4h0M2110.3 1114.7h0M2118.8 1164.9h0M2133.7 1086h0M2277.6 1123h0M2233.1 1055.7h0M2243.9 1076.9h0M2211 1044.4h0M2121.7 1287.4h0M2231.2 1259h0M2188 1303.8h0M2234.9 1221h0M2120.5 1164.2h0M2244.3 1117.7h0M2156.9 1317.9h0M2138.9 1083.4h0M2152.7 1280.3h0M2258.4 1197.6h0M2212.4 1244h0M2180.6 1056.8h0" stroke="#55a7bb"/>
<path d="M2116.5 1182.5h0M2248.3 1084.6h0M2155.3 1311.4h0M2109.9 1243h0M2196.9 1046.2h0M2129.9 1088.8h0M2147.1 1049.1h0M2233.9 1058.5h0M2085.2 1162.6h0M2234.6 1043.1h0M1912.8 1096.9h0M2124.2 1201.3h0M2116.1 1197.7h0M2204.1 1271h0M2068.8 1289.6h0M2252.8 1221.2h0M2274.6 1150.8h0M1942.9 1092.6h0M2153.1 1327.4h0M2102.3 1252.1h0M2220.7 1021.5h0M2192.2 1006.4h0M2121.3 1142.7h0M2191.2 1032.5h0M2138.3 1309.3h0M2161.2 1280.8h0M2102.2 1338.5h0M2238 1047.6h0M2229.9 1044.3h0" stroke="#74a1c8"/>
<path d="M2238.2 1208.7h0M2236.6 1081.5h0M2041.3 1131.9h0M1990 1320.6h0M2071.9 1409.8h0M1806.3 1097.4h0M2244.7 1060.1h0M2053.3 1134.3h0M2058.1 1232.2h0M2156.4 1001.9h0M2202.2 1277h0" stroke="#49b392"/>
<path d="M2277.3 1173.7h0M2091.5 1124.8h0M2019.9 1299.1h0M2129.1 1300.4h0M2131.6 1403.1h0M2106.4 1323.9h0M2170.3 1034.5h0M2031.3 1244.9h0M2154.8 979.1h0M2213.7 1388.7h0M2260 1100.7h0" stroke="#7ba694"/>
<path d="M2121.8 1313.5h0M2260.9 1202.5h0M2132 1322.5h0M2277.7 1068.5h0M2156.6 1320.2h0M2258.3 1176.2h0M2248.3 1114.7h0M2102.3 1334.1h0M2283.6 1076h0M2229.8 1217h0M2243.2 1204.9h0M2191.7 1020.6h0M2084.1 1167.5h0M2229.3 1017.7h0M2152.6 1062.4h0M2261.3 1157.9h0M2267.4 1170.6h0M2123.3 1108.4h0M2238.8 1081.8h0M2221.8 1244.5h0M2180.2 1042.7h0M2128.7 1063.8h0M2114.5 1238.9h0M2132.5 1337h0M2161.5 1334.1h0M2202.5 1286.9h0M2170.7 1304.1h0M2230.3 1201.1h0M2128.4 1257.1h0M2113.4 1113.5h0M2274.8 1180h0M2136.2 1051h0M2123.4 1072.8h0M2187.7 1004.3h0M2124.2 1101.7h0M2217.9 1265h0M2246.1 1203h0M2189.4 1034.9h0M2236.2 1233.8h0M2278.4 1108.7h0M2178.3 1028.2h0M2200.3 1012.1h0M2117.7 1326.3h0M2274 1089h0M2142.5 1308.4h0M2170.4 1028.1h0M2118.8 1327.6h0M2124.6 1314.8h0M2210 1306.6h0M2227.2 1223.1h0M2211.9 1256.1h0M2130.8 1054.5h0M2113.9 1116.6h0M2249.5 1089.1h0M2105.2 1087.1h0M2129.8 1259.1h0M2107.5 1173.7h0M2123.3 1242.8h0" stroke="#55a7bb"/>
<path d="M2106.7 1335.8h0M2326.7 1157.7h0M2219.9 950.3h0M2147.7 1067.8h0M2152.1 1270.6h0M2223.4 1257.7h0M2071.2 1272.8h0M2106.9 1081.3h0M2163.3 1325.9h0M2140.6 1063.9h0M2149.9 1266.3h0M2111.4 1325.2h0M2185.1 932.6h0M2132.9 1253.4h0M2122 1244.3h0" stroke="#74a1c8"/>
<path d="M2178.9 1343.6h0M2231.2 1308.7h0M2204.9 969.6h0M2264.6 1022.6h0M2187.5 1048.8h0M2280.1 1006.6h0M2263.9 1210h0M2184.2 1269.4h0M2223.5 1211.6h0M2126.3 1096.6h0M2102.1 1165.9h0M2135.9 1255.8h0M2235.3 1200.5h0M2252.7 1268.1h0M2195.1 1262.4h0" stroke="#49b392"/>
<path d="M2280.7 1166.5h0M2121.2 1104.4h0M2119.2 1450.8h0M2224 976.7h0M1979.7 1187.2h0M2102.4 1151.2h0M1966.8 1268.4h0M2218.9 1046h0M2289.7 1141.5h0M2127.7 1305.8h0M2360.1 1131.5h0M2058.1 1195.2h0M2266.8 1161.7h0" stroke="#7ba694"/>
<path d="M2204.6 1239.7h0M2250.3 1060.4h0M2274.5 1198.3h0M2127.4 1274.4h0M2215.1 1238.7h0M2172.3 1045.1h0M2247.5 1083.8h0M2232.2 1041.2h0M2251.2 1034.5h0M2196.1 1284.1h0M2111.2 1080.2h0M2096.9 1256h0M2250.1 1040.8h0M2219.5 1260.5h0M2265.4 1196h0M2150.1 1342h0M2256.7 1108.5h0M2250.9 1138.4h0M2144.8 1052.6h0M2220.4 1052.2h0M2107.7 1235.5h0M2220.6 1224.8h0M2118.4 1240.1h0M2278.6 1063.4h0M2132.6 1313.8h0M2106.3 1238.9h0M2239.4 1058.2h0M2250.5 1091.6h0M2260.6 1197h0M2196.7 1029.3h0M2208.8 1032.6h0M2219.4 1260h0M2152.7 1288h0M2090.1 1176h0M2141.7 1265.4h0M2246.8 1118.5h0M2130.4 1253.9h0M2283 1164.8h0M2095.2 1152.2h0M2247.2 1034.8h0M2102 1247.7h0M2121.2 1279.1h0M2260.2 1182.5h0M2137.8 1326.5h0M2131.2 1124.3h0M2128.4 1071.2h0M2219.8 1246.4h0M2137.1 1320.2h0M2244.9 1075.5h0M2180.7 1048.1h0M2172 1025.8h0M2235.8 1219.2h0M2259.8 1070.9h0" stroke="#55a7bb"/>
<path d="M2135.9 1334.3h0M2249.8 1117h0M2310 1174.2h0M2124.8 1105h0M2112.1 1157.2h0M2115.9 1139.7h0M2119 1149.5h0M2211.9 1238.7h0M2253.2 1219.4h0M2218.5 1022.4h0M2250 1206.8h0M2128.1 1097.8h0M2199.5 998h0M2155.4 1053.2h0M2276.5 1110.6h0M2116.1 1334.8h0M2160.5 1333.9h0M2277.3 920.7h0M2243.8 1202.9h0M2246.3 1144.6h0M2112.7 1124.2h0M2235.3 1245.8h0M2251.5 1075.2h0M2087.2 1335.7h0M2187.2 1032.9h0M2165.9 1316.6h0M2126.6 1119.9h0M2210.1 1292.7h0M2246.1 1122h0M2104.3 1337.4h0M2215.7 964.8h0" stroke="#74a1c8"/>
<path d="M2264.9 1160.9h0M2268.2 1047.2h0M2118.8 1207.4h0M2071.2 1232.2h0M2138.5 1290.1h0M2109 1080h0M2080.7 1097.3h0M2088 1172.1h0M2257.3 1124.8h0M2231.1 1029h0" stroke="#49b392"/>
<path d="M1844.5 1403.1h0M2161 1335.3h0M2210.9 1331.8h0M2217.8 1253.8h0M2289.2 1036.4h0M2252.5 1066.6h0" stroke="#7ba694"/>
</g>
<path d="M1791 906.4V1468.5H2375.2" stroke="#111" stroke-width="4.8" fill="none"/>
<path d="M1791 940.7h-15M1791 1143.7h-15M1791 1346.7h-15M1916.2 1468.5v17M2098.1 1468.5v17M2278.7 1468.5v17" stroke="#111" stroke-width="3.8" fill="none"/>
<text x="1715.1" y="953.3" font-size="36.3" textLength="49.6" lengthAdjust="spacingAndGlyphs">0.6</text>
<text x="1715.1" y="1156.3" font-size="36.3" textLength="49.6" lengthAdjust="spacingAndGlyphs">0.4</text>
<text x="1715.1" y="1359.3" font-size="36.3" textLength="49.6" lengthAdjust="spacingAndGlyphs">0.2</text>
<text x="1907.7" y="1529.2" font-size="36.3" textLength="19.9" lengthAdjust="spacingAndGlyphs">2</text>
<text x="2089.7" y="1529.2" font-size="36.3" textLength="19.9" lengthAdjust="spacingAndGlyphs">4</text>
<text x="2270.3" y="1529.2" font-size="36.3" textLength="19.9" lengthAdjust="spacingAndGlyphs">6</text>
<text x="1865.8" y="1578.9" font-size="38.5" textLength="427.9" lengthAdjust="spacingAndGlyphs">The expression of NFKBIE</text>
<g transform="translate(2079.7 1629.6)"><text x="-121.3" y="0" font-size="38.5" textLength="59.1" lengthAdjust="spacingAndGlyphs">Log</text><text x="-62.2" y="12.5" font-size="19.3" stroke="none" textLength="10.6" lengthAdjust="spacingAndGlyphs">2</text><text x="-42.2" y="0" font-size="38.5" textLength="163.4" lengthAdjust="spacingAndGlyphs">(TPM + 1)</text></g>
<text x="-176.2" y="0" font-size="38.5" transform="translate(1693.5 1191) rotate(-90)" textLength="352.4" lengthAdjust="spacingAndGlyphs">Enrichment of T cells</text>
<text x="1811.1" y="957.5" font-size="50.1" textLength="33.3" lengthAdjust="spacingAndGlyphs">D</text>
<text x="1934.3" y="957.5" font-size="38.5" textLength="171.4" lengthAdjust="spacingAndGlyphs">Spearman</text>
<g transform="translate(1934.3 1006.7)"><text x="0" y="0" font-size="38.5" font-style="italic" textLength="22.6" lengthAdjust="spacingAndGlyphs">R</text><text x="32" y="0" font-size="38.5" textLength="125.2" lengthAdjust="spacingAndGlyphs">= 0.220</text></g>
<g transform="translate(1934.3 1057.8)"><text x="0" y="0" font-size="38.5" font-style="italic" textLength="21.5" lengthAdjust="spacingAndGlyphs">P</text><text x="30.9" y="0" font-size="38.5" textLength="125.2" lengthAdjust="spacingAndGlyphs">&lt; 0.001</text></g>
</g>
<g id="pE">
<path d="M2575.9 1289.7L2598.5 1278.2L2621.1 1266.8L2643.7 1255.4L2666.3 1243.9L2688.8 1232.5L2711.4 1221L2734 1209.6L2756.6 1198.2L2779.2 1186.7L2801.8 1175.3L2824.4 1163.8L2847 1152.4L2869.5 1140.9L2892.1 1129.4L2914.7 1117.7L2937.3 1105.4L2959.9 1091.2L2982.5 1076.2L3005.1 1061.2L3027.7 1046.1L3050.2 1030.9L3072.8 1015.8L3095.4 1000.7L3118 985.5L3118 1015.4L3095.4 1026.8L3072.8 1038.3L3050.2 1049.7L3027.7 1061.2L3005.1 1072.7L2982.5 1084.2L2959.9 1095.8L2937.3 1108.2L2914.7 1122.5L2892.1 1137.4L2869.5 1152.5L2847 1167.6L2824.4 1182.7L2801.8 1197.8L2779.2 1213L2756.6 1228.1L2734 1243.3L2711.4 1258.4L2688.8 1273.6L2666.3 1288.7L2643.7 1303.9L2621.1 1319L2598.5 1334.2L2575.9 1349.3" fill="#e4e4e4"/>
<path d="M2575.9 1319.5L3118 1000.4" stroke="#707070" stroke-width="3" fill="none"/>
<path d="M2871.1 1156.9L2874.4 1167.2L2874 1178.8L2897.6 1185.7L2918.6 1185.7L2923.9 1179.8L2959.4 1178.4L2963.8 1163.2L2970.4 1154.1L2986.1 1149.5L2997.5 1150L2999.2 1144.6L2999.4 1121.9L3003.1 1114.9L3010 1111.1L3035.6 1108.6L3035.6 1041L3033.6 1034.7L3017.4 1034.2L3015.3 1030.6L3017.6 1021.4L2990.6 1013.5L2988 1008.5L2916.6 1008.5L2909.4 1013.2L2894.2 1034.2L2890.1 1050.8L2890 1066.8L2888.5 1072L2884.7 1076.4L2874.8 1081.7L2872.1 1095.9L2860.8 1112.1L2856.8 1135.2L2870.5 1143.6L2872.9 1149.2Z" fill="#58a8bb" stroke="#58a8bb" stroke-width="8" stroke-linejoin="round"/>
<g stroke-width="17.2" stroke-linecap="round" fill="none" opacity="0.95">
<path d="M3022.1 1017.8h0M2964.7 990.7h0M2861.2 1131.5h0M2883.3 1204.6h0M2889 1043.5h0M3050 1091.9h0M3015.1 1153.8h0M2858.1 1153.7h0M2979.8 1008.3h0M3034.7 1110.9h0M2941.5 998h0M2979.9 1011.4h0M2936.2 1204.4h0M2888.6 1203.1h0M2865 1165h0M2851.7 1164.7h0M3011.6 1008.2h0M3031.3 1093h0M2857.1 1136.9h0M3035.8 1105.1h0M2990.6 996.6h0M2975 1014.5h0M2872.9 1198.2h0M2862.4 1113.8h0M2948.1 1008.7h0M3029.6 1023.2h0M3037.2 1010.6h0M2985.5 993.3h0M3026 1013.5h0M2850 1183.4h0M2885 1041.8h0M2881.6 1078.7h0M2973.7 993.5h0M2999.4 1151.3h0M3028.4 1032.8h0M3035.9 1003.6h0M2916 1200.7h0" stroke="#55a7bb"/>
<path d="M2983 1155.2h0M2870.3 1197.9h0M3013.1 1110.7h0M2913.7 1183.3h0M2939.5 1004.7h0M2951.8 1236.2h0M2951.2 1185.8h0M2871.8 1002.7h0M3005.6 1013.6h0M3030.7 1075.3h0M3031.8 1174.6h0" stroke="#74a1c8"/>
<path d="M3031.1 1031.5h0M2866.4 1166.6h0M3117.8 1001h0M2993.7 1152.7h0M2822.8 1439.9h0M2983.5 1008.8h0M2999.6 1167.6h0M3045.6 1135.7h0M3031.8 1196.8h0M2808 1278h0" stroke="#49b392"/>
<path d="M2916.7 1249.1h0M2852.7 1060h0M3083.9 1047.6h0M2986.9 1202.8h0M2863.7 1107.5h0" stroke="#7ba694"/>
<path d="M3026.3 999.7h0M2853.8 1131.9h0M2940.4 1174.5h0M2927.2 1200.2h0M2932.3 1193.6h0M3033.9 1105h0M2888.4 1058.6h0M2909.3 1017.4h0M2939.3 1015.2h0M2871.8 1236.7h0M3044.2 1089.5h0M3044.4 1102.7h0M2998.4 1117.5h0M2850.3 1171.6h0M2942.9 994.1h0M2859.3 1110.7h0M3037.2 1022.3h0M2854.5 1192.7h0M2845.8 1162.4h0M2851.3 1175.1h0M3040.5 1092.4h0M2891.9 1187.1h0M2880.8 1170.4h0M2857.2 1158.5h0M2938.8 991.8h0M2847.6 1161.6h0M3035.4 994.7h0M3002.9 1160h0M2979.3 1010.6h0M3032.3 1023h0M3035 1065.5h0M2946.2 985.4h0M2920.2 1179.4h0M2966.8 1159h0M2921.6 1015.9h0M2848.6 1150.2h0M2964.4 1010.9h0" stroke="#55a7bb"/>
<path d="M2880.1 1165.3h0M2837.2 1417.4h0M3042.9 1051.9h0M2905.7 1029h0M2898.7 1027.2h0M2992.3 1132.7h0M2999.6 1111.5h0M2934.4 920.3h0M2893.5 1018.4h0M2892.6 1025.8h0M2929.5 994.1h0" stroke="#74a1c8"/>
<path d="M2710.6 1425.5h0M2785.1 1289.3h0M2871.7 1199.2h0M2575.4 1205.3h0M3012.3 1038.6h0M2936 1180.7h0" stroke="#49b392"/>
<path d="M2843.1 1116.1h0M2892.1 1396.4h0M2862.2 1230.7h0M2732.1 1314.2h0M3042.9 1105.1h0M2796.1 1128.8h0M2837.2 1083.9h0M3041.1 1007.7h0" stroke="#7ba694"/>
<path d="M2753.6 1361h0" stroke="#929898"/>
<path d="M3006.7 1115.2h0M2839.3 1157.2h0M2968.4 1166h0M3016.5 1027.2h0M2863.1 1155.2h0M2882.4 1192.3h0M2861.4 1169.5h0M2931.8 1178h0M3005.7 1001.7h0M3035.2 1099.9h0M2987 1147.1h0M2855.6 1132.5h0M2976 1148.5h0M2918.5 1200.4h0M2881.6 1087h0M2924.4 985.3h0M2872.7 1081.7h0M3021.3 1039.2h0M3038.6 1066.5h0M3032.6 1053.1h0M3027.8 1022.8h0M3027.7 1016.8h0M3030.2 1066h0M2986.2 1019h0M3002.1 1129.4h0M3030.6 1008.9h0M2908.5 1183.4h0M2958.1 1172.4h0M3032.6 1058.5h0M2868.4 1111h0M3016.2 1006.8h0M2937.7 989.9h0M3033.9 1017h0M2892.6 1187h0M2986.2 1146.1h0" stroke="#55a7bb"/>
<path d="M2876.2 1188.2h0M2965.1 1154.1h0M2856.2 1140.5h0M2680.5 1303.7h0M2919.1 1273.7h0M2892.8 1198.3h0M2923.5 1199.5h0M3036.3 988.6h0M2955.1 1004.4h0M2746.4 1449.4h0M2894.1 1062.8h0M2912 1014h0M2886.5 1185.3h0" stroke="#74a1c8"/>
<path d="M2832.4 1095.8h0M2613.6 1423.1h0M2856.3 1039.7h0M3038.5 964.5h0M2961.5 1184h0M2978.3 1145.2h0M2924 1014.4h0M2923.1 1209h0" stroke="#49b392"/>
<path d="M2964.9 954.9h0M2926.7 964.5h0M2816.9 1234.3h0M2846.2 1164h0M2992.9 1142.5h0M3068.1 1122.1h0" stroke="#7ba694"/>
</g>
<path d="M2560.1 904.9V1467.1H3134.7" stroke="#111" stroke-width="4.8" fill="none"/>
<path d="M2560.1 998.1h-15M2560.1 1107.9h-15M2560.1 1216.8h-15M2560.1 1326.2h-15M2560.1 1435.1h-15M2683.9 1467.1v17M2862 1467.1v17M3039.7 1467.1v17" stroke="#111" stroke-width="3.8" fill="none"/>
<text x="2466.8" y="1010.7" font-size="36.3" textLength="69.5" lengthAdjust="spacingAndGlyphs">0.50</text>
<text x="2466.8" y="1120.5" font-size="36.3" textLength="69.5" lengthAdjust="spacingAndGlyphs">0.45</text>
<text x="2466.8" y="1229.4" font-size="36.3" textLength="69.5" lengthAdjust="spacingAndGlyphs">0.40</text>
<text x="2466.8" y="1338.8" font-size="36.3" textLength="69.5" lengthAdjust="spacingAndGlyphs">0.35</text>
<text x="2466.8" y="1447.7" font-size="36.3" textLength="69.5" lengthAdjust="spacingAndGlyphs">0.30</text>
<text x="2675.4" y="1529.2" font-size="36.3" textLength="19.9" lengthAdjust="spacingAndGlyphs">2</text>
<text x="2853.6" y="1529.2" font-size="36.3" textLength="19.9" lengthAdjust="spacingAndGlyphs">4</text>
<text x="3031.2" y="1529.2" font-size="36.3" textLength="19.9" lengthAdjust="spacingAndGlyphs">6</text>
<text x="2634" y="1578.9" font-size="38.5" textLength="427.9" lengthAdjust="spacingAndGlyphs">The expression of NFKBIE</text>
<g transform="translate(2847.9 1629.6)"><text x="-121.3" y="0" font-size="38.5" textLength="59.1" lengthAdjust="spacingAndGlyphs">Log</text><text x="-62.2" y="12.5" font-size="19.3" stroke="none" textLength="10.6" lengthAdjust="spacingAndGlyphs">2</text><text x="-42.2" y="0" font-size="38.5" textLength="163.4" lengthAdjust="spacingAndGlyphs">(TPM + 1)</text></g>
<text x="-190.3" y="0" font-size="38.5" transform="translate(2447.3 1192) rotate(-90)" textLength="380.6" lengthAdjust="spacingAndGlyphs">Enrichment of NK cells</text>
<text x="2607.9" y="957.5" font-size="50.1" textLength="26.5" lengthAdjust="spacingAndGlyphs">E</text>
<text x="2973.3" y="1345.3" font-size="38.5" textLength="171.4" lengthAdjust="spacingAndGlyphs">Spearman</text>
<g transform="translate(2973.3 1394.5)"><text x="0" y="0" font-size="38.5" font-style="italic" textLength="22.6" lengthAdjust="spacingAndGlyphs">R</text><text x="32" y="0" font-size="38.5" textLength="125.2" lengthAdjust="spacingAndGlyphs">= 0.376</text></g>
<g transform="translate(2973.3 1444.6)"><text x="0" y="0" font-size="38.5" font-style="italic" textLength="21.5" lengthAdjust="spacingAndGlyphs">P</text><text x="30.9" y="0" font-size="38.5" textLength="125.2" lengthAdjust="spacingAndGlyphs">&lt; 0.001</text></g>
</g>
<g id="pF">
<path d="M182.9 2139.6L206 2132L229 2124.4L252 2116.8L275 2109.2L298 2101.6L321.1 2094.1L344.1 2086.5L367.1 2078.9L390.1 2071.3L413.2 2063.7L436.2 2056.1L459.2 2048.5L482.2 2040.9L505.3 2033.3L528.3 2025.5L551.3 2016.8L574.3 2005.2L597.4 1992.7L620.4 1980.1L643.4 1967.5L666.4 1954.9L689.5 1942.3L712.5 1929.7L735.5 1917L735.5 1957.7L712.5 1965.3L689.5 1972.9L666.4 1980.5L643.4 1988.1L620.4 1995.7L597.4 2003.3L574.3 2011.1L551.3 2019.7L528.3 2031.2L505.3 2043.7L482.2 2056.2L459.2 2068.9L436.2 2081.5L413.2 2094.1L390.1 2106.7L367.1 2119.4L344.1 2132L321.1 2144.6L298 2157.3L275 2169.9L252 2182.5L229 2195.2L206 2207.8L182.9 2220.4" fill="#e4e4e4"/>
<path d="M182.9 2180L735.5 1937.4" stroke="#707070" stroke-width="3" fill="none"/>
<path d="M480.9 1997.7L480.9 2068.7L490.3 2099.3L501.2 2112.2L502 2121.1L499.7 2158.8L505.9 2164.3L513.5 2158L525.3 2153.6L530.5 2146.8L537.3 2141.8L555.7 2139.5L558.6 2137.9L574.6 2139.4L595.2 2136.2L595.9 2134.4L591.3 2112.1L593.7 2094.8L596.4 2086.4L601.8 2078.4L609 2072.7L617.6 2069.2L627.1 2068.4L629.3 2056.4L634.9 2047.3L629.8 2037.6L628.2 2028.2L629.3 2019.2L635.6 2004.6L630.5 1995.7L628.2 1983.7L629.8 1973.9L634.8 1964.4L630.2 1955.8L628.4 1946.3L631.7 1931.1L629.5 1924.2L628.9 1914.6L633.3 1901.3L632.8 1899.1L625.5 1900L622.6 1898L622.1 1881.7L606.9 1881L602.3 1878.4L598.9 1874L566.6 1874L562.1 1896.5L565 1901.9L558.7 1921.3L524.3 1929.9L522.8 1935.8L517.8 1942.8L519.3 1963.2L514.9 1971.9L513.8 1978.4Z" fill="#58a8bb" stroke="#58a8bb" stroke-width="8" stroke-linejoin="round"/>
<g stroke-width="17.2" stroke-linecap="round" fill="none" opacity="0.95">
<path d="M537.1 1913h0M630.8 1938h0M462.9 2026.6h0M609.7 2132.1h0M658.3 1937.6h0M628.4 2032h0M490.1 2096.6h0M466.5 2164.3h0M517 1972h0M486.3 2083h0M589.3 2101.6h0M482.5 1979.1h0M616 2088.3h0M518.5 1963h0M548.6 1909.7h0M545.5 1904.9h0M560.5 1881.8h0M513.4 2173h0M493.9 1978.5h0M494.4 2141.5h0M561.9 2162.7h0M566 2135.7h0M658.7 1926.2h0M634.9 1889.8h0M636.6 1980.6h0M483.4 2038.7h0M487.5 2049.4h0M620.5 2081.7h0M656.6 1975.4h0M664.6 1870h0M505 2158h0M563.6 1918.5h0M597.7 2132.8h0M486.6 2121.4h0M465.6 2165.9h0M591 1847.1h0M650.4 1943.7h0M463.4 2171.6h0M485 2050.8h0M619.6 1890h0M640.8 2094.2h0M626.7 2057h0M640.9 2054.8h0M604.4 2143.3h0M582.7 1858.1h0M639.2 2092.9h0M567 1874.1h0M640.7 2026.4h0" stroke="#55a7bb"/>
<path d="M543.3 2170.6h0M608.8 2079.4h0M342.4 2025.7h0M661.8 1974h0M593.2 2148.3h0M516.6 1961.3h0M583.8 1878.3h0M481.2 2155.5h0M557.6 1873.8h0M517.5 1937.7h0M658.2 1876.2h0M624.7 1911.9h0M471.2 2020.4h0M629 2012h0M527.3 2167.8h0M498.4 2164.5h0M647.2 2054h0M489.7 2101.1h0M482.2 1943.4h0M528.8 2156.1h0M644.2 2048.6h0M649.8 2079.5h0M626.4 2014.4h0M634.4 2038h0M513.5 1963.5h0M632.9 1918.1h0M597.5 2108.8h0M525 1930.4h0" stroke="#74a1c8"/>
<path d="M650.6 2045.7h0M506.6 2146.1h0M649.8 2020.6h0M699.6 1955.4h0M564.7 1878.9h0M560.5 2162.8h0" stroke="#49b392"/>
<path d="M621.9 2055.3h0M500.1 1920.7h0M513.4 2259.8h0M407.7 2171h0M495.5 2172.8h0M627.6 2130.6h0M492.3 2094.6h0M658.4 1970.1h0M563.4 1844.3h0M515.5 2197h0M626.7 1859.9h0M218.7 2179h0" stroke="#7ba694"/>
<path d="M448.3 1985.2h0" stroke="#929898"/>
<path d="M467.3 2104.5h0M523.7 1920.3h0M504.9 2108.5h0M642.6 2030.3h0M537 2172.8h0M552.8 2151.8h0M597.5 2093.9h0M649.8 2037.7h0M600.7 1861.3h0M643.7 2049.5h0M635.8 1892h0M617.4 1902.6h0M652.1 1865.1h0M641.5 2065.1h0M541.8 1898.7h0M568.6 2156.7h0M646 2006.3h0M535 2169.3h0M582.9 1868.6h0M640.6 1909.2h0M580.4 2154.7h0M469.2 2013.2h0M647.1 2064.7h0M517.8 2192.8h0M649.2 1979.1h0M493 2132.7h0M552.9 2133.5h0M449.9 2114.2h0M644.9 1944.4h0M586.1 1862.8h0M653.5 2021.8h0M488.9 2170.1h0M520.1 2188.6h0M657.9 1957.9h0M653.5 1883.9h0M637.1 1919.6h0M514 1971.9h0M485.6 2059.1h0M548.8 2151.9h0M477.1 2096.4h0M555.3 1887.5h0M500 2189h0M612.5 2095.6h0M519.6 2179.7h0M652.5 1968h0M568.8 2161.4h0M642.8 1918.5h0M477.2 2084.4h0M587.1 1875.1h0M460.6 2033h0M553.5 1867.8h0" stroke="#55a7bb"/>
<path d="M477.7 2099.4h0M477.2 2115.7h0M495.2 1998h0M634.4 1948.2h0M623.6 1885.7h0M637.1 1886.6h0M506.7 2151.3h0M659.8 1876h0M660.3 2058.3h0M615.5 2115.8h0M638.5 2047.6h0M605.2 2087.2h0M627.9 1878h0M468.3 2030.6h0M642.6 1974.8h0M517.1 1917.6h0M652.8 1984.7h0M492.7 2180.2h0M492.4 2134.7h0M493.1 2137.7h0M638.8 2067.8h0M654.6 1888.7h0M182.4 1924.5h0M439.3 2138.1h0M582.1 1855.4h0M557.9 1909.2h0M627.2 2136.3h0" stroke="#74a1c8"/>
<path d="M629.2 1983.6h0M472.8 2100.4h0M643.7 1977.2h0M601.8 1790.7h0M621.2 2133.3h0M568.8 1899.1h0M441.6 2065.2h0M636.7 2073.7h0" stroke="#49b392"/>
<path d="M684.7 2021h0M627.1 1936.3h0M602.1 2075.8h0M511.7 2185.9h0M466.7 2028.4h0M473.2 1892.1h0M634.6 1871.3h0M627 1980.5h0" stroke="#7ba694"/>
<path d="M578.9 2161.3h0M605.5 2067.8h0M623.9 1969.2h0M647.2 2070.2h0M618.4 2091.1h0M488.4 2127.3h0M554.7 1884h0M651.1 2037.9h0M483.8 2142.2h0M629.5 1972.5h0M643.5 1926.5h0M594.9 2131.8h0M544.7 2138.4h0M621.6 1878.1h0M629.8 2062.8h0M535.3 1931.7h0M466.4 2030.6h0M610.7 2090h0M601.1 2131.5h0M514.2 2201.7h0M666.9 1867.8h0M642.3 1953.3h0M623.6 2085.7h0M641.4 2081.5h0M644.6 1977.3h0M634.5 1979h0M642.3 2008.5h0M641.8 2082.3h0M556.7 2140.5h0M573.5 2144.1h0M486.6 2161.8h0M569.1 1911.8h0M506.8 2152.5h0M494.5 2181.2h0M546.6 2154.9h0M629.9 1957.6h0M629.7 2017.5h0M477.9 2013.1h0M638.3 1905.7h0M602.5 2081h0M646.8 1930.6h0M494.2 2151.1h0M513.8 1961.9h0M568.3 1888.8h0M523.5 1944.1h0M470.6 2083.3h0M468.4 2043.5h0M625 1945.4h0M633.5 2094.1h0M640.6 2092.5h0M544.7 2166.8h0M489.7 2126.4h0M543.7 1874.4h0M521.2 2195.7h0M630.5 1904.4h0M532.5 1926.9h0" stroke="#55a7bb"/>
<path d="M549.4 1875.7h0M636.8 2078.4h0M629.5 2041.5h0M656.6 1968.1h0M604.2 2137.4h0M557.1 2153.2h0M656.6 1839.6h0M616.5 2079.2h0M641.5 1975.7h0M548.8 1875h0M468.6 2169.1h0M560.3 1882.8h0M486.4 2073.1h0M628.7 1921.6h0M504.5 2110.6h0M506.7 2114.1h0M603.3 2143.3h0M356.3 2039.6h0" stroke="#74a1c8"/>
<path d="M494.1 2136.7h0M645.7 1999.4h0M289 1913h0M557.6 2158.4h0M620.5 2132.6h0M519.4 1945.8h0M482.4 2141.2h0M553.8 1911.1h0M470.9 2036.1h0" stroke="#49b392"/>
<path d="M395.1 1997.2h0M427.8 2027h0M419.7 1892.1h0M507.3 1901.6h0M480.8 2136h0M363 2138.9h0M621.9 1821.3h0M494.3 2298.4h0M319 1965.6h0M634.7 1995.2h0" stroke="#7ba694"/>
<path d="M735.4 1982.1h0" stroke="#929898"/>
</g>
<path d="M166.2 1776.4V2314.7H752.2" stroke="#111" stroke-width="4.8" fill="none"/>
<path d="M166.2 1937.4h-15M166.2 2126h-15M292.8 2314.7v17M473.8 2314.7v17M655.3 2314.7v17" stroke="#111" stroke-width="3.8" fill="none"/>
<text x="91.3" y="1950" font-size="36.3" textLength="49.6" lengthAdjust="spacingAndGlyphs">0.4</text>
<text x="91.3" y="2138.6" font-size="36.3" textLength="49.6" lengthAdjust="spacingAndGlyphs">0.3</text>
<text x="284.3" y="2374.4" font-size="36.3" textLength="19.9" lengthAdjust="spacingAndGlyphs">2</text>
<text x="465.4" y="2374.4" font-size="36.3" textLength="19.9" lengthAdjust="spacingAndGlyphs">4</text>
<text x="646.8" y="2374.4" font-size="36.3" textLength="19.9" lengthAdjust="spacingAndGlyphs">6</text>
<text x="255.8" y="2423.2" font-size="38.5" textLength="427.9" lengthAdjust="spacingAndGlyphs">The expression of NFKBIE</text>
<g transform="translate(469.7 2473.3)"><text x="-121.3" y="0" font-size="38.5" textLength="59.1" lengthAdjust="spacingAndGlyphs">Log</text><text x="-62.2" y="12.5" font-size="19.3" stroke="none" textLength="10.6" lengthAdjust="spacingAndGlyphs">2</text><text x="-42.2" y="0" font-size="38.5" textLength="163.4" lengthAdjust="spacingAndGlyphs">(TPM + 1)</text></g>
<text x="-197.7" y="0" font-size="38.5" transform="translate(71.1 2046.3) rotate(-90)" textLength="395.4" lengthAdjust="spacingAndGlyphs">Enrichment of Th1 cells</text>
<text x="190.1" y="1826.6" font-size="50.1" textLength="24.9" lengthAdjust="spacingAndGlyphs">F</text>
<text x="581.7" y="2194.3" font-size="38.5" textLength="171.4" lengthAdjust="spacingAndGlyphs">Spearman</text>
<g transform="translate(581.7 2243.5)"><text x="0" y="0" font-size="38.5" font-style="italic" textLength="22.6" lengthAdjust="spacingAndGlyphs">R</text><text x="32" y="0" font-size="38.5" textLength="125.2" lengthAdjust="spacingAndGlyphs">= 0.346</text></g>
<g transform="translate(581.7 2294.6)"><text x="0" y="0" font-size="38.5" font-style="italic" textLength="21.5" lengthAdjust="spacingAndGlyphs">P</text><text x="30.9" y="0" font-size="38.5" textLength="125.2" lengthAdjust="spacingAndGlyphs">&lt; 0.001</text></g>
</g>
<g id="pG">
<path d="M993.4 2193.1L1015.2 2188L1036.9 2183L1058.6 2177.9L1080.4 2172.8L1102.1 2167.7L1123.8 2162.6L1145.6 2157.5L1167.3 2152.4L1189 2147.4L1210.7 2142.3L1232.5 2137.2L1254.2 2132.1L1275.9 2127L1297.7 2121.8L1319.4 2116.5L1341.1 2110.4L1362.9 2101.6L1384.6 2091.9L1406.3 2082.1L1428.1 2072.2L1449.8 2062.4L1471.5 2052.5L1493.3 2042.6L1515 2032.7L1515 2071.3L1493.3 2076.3L1471.5 2081.4L1449.8 2086.5L1428.1 2091.6L1406.3 2096.8L1384.6 2101.9L1362.9 2107.2L1341.1 2113.3L1319.4 2122.1L1297.7 2131.8L1275.9 2141.7L1254.2 2151.5L1232.5 2161.4L1210.7 2171.2L1189 2181.1L1167.3 2191L1145.6 2200.9L1123.8 2210.8L1102.1 2220.6L1080.4 2230.5L1058.6 2240.4L1036.9 2250.3L1015.2 2260.2L993.4 2270" fill="#e4e4e4"/>
<path d="M993.4 2231.6L1515 2052" stroke="#707070" stroke-width="3" fill="none"/>
<path d="M1266.5 2150.5L1266.5 2162.2L1274.5 2168.1L1276.6 2178.9L1292 2181.1L1294.9 2183.9L1293.8 2197L1287.9 2208.2L1294.4 2222.3L1294.4 2243.1L1300.3 2245.3L1309.4 2235.1L1322.2 2234.7L1327.1 2226.5L1338.7 2222.1L1350.9 2221.8L1355.9 2217.3L1359.2 2218.2L1370.1 2229L1376.1 2227.3L1388.7 2228.9L1388.7 2218.3L1386.6 2210.8L1388.7 2203.7L1388.7 2193.3L1382.4 2189.8L1381.7 2185.7L1385.8 2182.4L1393.7 2179.7L1395.1 2171.4L1398 2165.6L1401.3 2164.9L1406.1 2167.5L1417.4 2149.4L1417.4 2121.2L1414.1 2111.4L1416.3 2102.1L1419.8 2095.8L1418.1 2083.1L1422 2070.1L1412.8 2057.7L1410.4 2042L1405.4 2030.9L1399.5 2029.5L1397.4 2026.9L1404.8 2012L1387.9 2005.4L1384.4 2000.8L1382.7 1993.6L1347.7 1993.6L1341.3 1991.3L1331.5 1992L1321.4 2001.9L1314.3 2004.8L1314.1 2009.8L1312.1 2012.2L1290.9 2016.8L1289.9 2034.9L1303.9 2037.3L1306.3 2039.1L1306.7 2042.5L1303.4 2048.2L1311 2067.6L1300 2083.2L1299.5 2128L1294.9 2131.1L1287.2 2133.3L1278.4 2142.8L1276.2 2147.5Z" fill="#58a8bb" stroke="#58a8bb" stroke-width="8" stroke-linejoin="round"/>
<g stroke-width="17.2" stroke-linecap="round" fill="none" opacity="0.95">
<path d="M1271.8 2177.3h0M1326.2 1992.4h0M1410.7 2193.3h0M1265.6 2122.4h0M1290.4 2176h0M1404.9 2050.3h0M1246.7 2159h0M1247.5 2152.5h0M1338.2 2246.7h0M1427 2092.7h0M1265.7 2218h0M1330.1 1976.1h0M1428.9 2159.6h0M1262 2150.4h0M1267 2217.5h0M1393.6 2215.1h0M1295 2209.9h0M1435.6 2125.9h0M1422.6 2131.7h0M1307.7 2061.4h0M1363.6 2254.1h0M1422 2106.5h0M1282.5 2247.1h0M1417 2148.6h0M1258.2 2053.1h0M1429.1 2076.8h0M1412 2012.7h0M1313.1 2013.4h0M1267.1 2137h0M1224.4 2212h0M1296.7 2045.3h0M1448.8 2155.1h0M1297.5 2069.3h0M1412.9 2202.3h0M1281.5 2150.9h0M1265.6 2099.7h0M1243.7 2218.8h0M1413.5 2176.2h0M1331.5 1994.5h0M1408.6 2016.8h0M1360.8 1996.8h0M1399.3 2199.4h0M1293.6 2206.8h0M1406.5 2020h0M1429.3 2135.4h0M1270.4 2039.2h0M1385.9 2201.8h0M1421 2155.8h0M1387.6 2234h0M1250.4 2163h0M1412.7 2170.6h0M1304.7 2005.7h0M1280.4 2152.6h0" stroke="#55a7bb"/>
<path d="M1418.3 2082.1h0M1271.1 2150h0M1414.2 2112h0M1326.4 2221.5h0M1309.9 2036.9h0M1300.8 2134.8h0M1277.3 2163.8h0M1264.2 2100.3h0M1305 2085.6h0M1296.2 2189.9h0M1366 1912.5h0M1292.1 2093.3h0M1425.9 2143.1h0M1306 2038.5h0M1270.7 2177.9h0M1390 2175.9h0M1143.9 2275.5h0M1260.1 2149.9h0" stroke="#74a1c8"/>
<path d="M1299 2199.8h0M1389 2176.6h0M1234.8 2213.3h0M1420.8 2202.6h0M1229.7 2167.6h0M1447 2123.2h0M1350.7 1791.7h0M1441.5 1961h0M1123.3 2151.3h0M1396.4 2016.3h0M1301.5 2074.3h0" stroke="#49b392"/>
<path d="M1260.9 2225.4h0M1515.1 2014.8h0M1302.8 2259.6h0M1229.7 2203.4h0M1340.7 1871.9h0M1407.1 1989.7h0M1371.8 1953.4h0M1390.4 2170.6h0M1380.1 2289.4h0M1437.6 1902h0" stroke="#7ba694"/>
<path d="M1421.2 2121.3h0M1312.5 2045.6h0M1420 2150.4h0M1307 2035.3h0M1437.4 2115.1h0M1403.7 2016h0M1278.3 2143.1h0M1283.3 2208.2h0M1417.3 2114.2h0M1296.9 2211.9h0M1280.8 2186.8h0M1395.3 2193.2h0M1427.7 2117.1h0M1428.2 2035.8h0M1435 2097.2h0M1263.1 2248.2h0M1319.5 2255.8h0M1289.2 2100.8h0M1398.6 2174.3h0M1297.9 2269.3h0M1265.4 2125.9h0M1278.4 2042.7h0M1424 2068.6h0M1299.5 1991.8h0M1376.3 2229.3h0M1387.5 2227.3h0M1435.1 2116.9h0M1415.2 2149h0M1421.5 2031.2h0M1341.1 1980.4h0M1425.9 2108h0M1259.2 2100.8h0M1250.9 2154h0M1399.2 2008.8h0M1389.4 2170.2h0M1270.8 2174.2h0M1246.9 2212.1h0M1256.3 2131.8h0M1397.8 2168.7h0M1437.6 2128.6h0M1157.3 2280.3h0M1403.4 2226.9h0M1266 2166.7h0M1403.2 2202.9h0M1448.1 2153.7h0M1388.4 1989.8h0M1297.3 2205.7h0" stroke="#55a7bb"/>
<path d="M1342.2 1983.6h0M1286.6 2132.4h0M1407.7 2018.5h0M1207 2119.9h0M1282.8 2189.6h0M1337.2 1943.1h0M1427.7 2035h0M1386.3 2212.9h0M1286.2 2132.2h0M1239.3 2153.3h0M1295.1 2233.4h0M1396.1 2199.2h0M1286.3 1941.9h0M1225.4 2214.8h0M1254.7 2056.4h0M1391.4 2166.2h0M1326.3 2248.9h0M1360.9 1988.5h0M1306.8 2043.8h0M1279 2214.3h0M1391.2 2204.3h0M1275.5 2112.5h0" stroke="#74a1c8"/>
<path d="M1417.4 2027.7h0M1443.2 2066.2h0M1275.2 2015.2h0M1287.5 2129h0M1298.7 2001.5h0M1253.3 2216.5h0M1351.5 1951.5h0M1450.4 2160.5h0M1029.3 2271.2h0" stroke="#49b392"/>
<path d="M1421.8 2115.6h0M1393.1 2005.5h0M1312.8 2291.8h0M1193.9 2186.7h0M1290.9 1989.9h0M1324.1 2231.3h0M1093.7 2215.8h0M1415.1 2081.1h0M1292.2 2093.7h0M1437.1 2121.6h0M1414.5 2176.8h0M1291.9 1879.1h0M1291.8 1961.8h0M1219 2131.8h0" stroke="#7ba694"/>
<path d="M1295.1 2244.8h0M1332.1 2246.8h0M1446.5 2068.1h0M1445.3 2063.4h0M1404.8 2037.6h0M1264 2042.2h0M1391 2189h0M1446.8 2064.4h0M1410.1 2060.7h0M1299.7 2064.2h0M1349.2 1990h0M1301.1 2042.5h0M1441.6 2120.4h0M1340.3 1999.1h0M1255.3 2210.3h0M1298.4 2061.5h0M1314.5 2259.3h0M1271.6 2188.5h0M1433.2 2070.2h0M1410.8 2040.2h0M1309.1 2033.7h0M1240.7 2211.6h0M1416.9 2105.6h0M1398.4 2172.9h0M1295.9 2074.1h0M1421.7 2125.1h0M1391 2003.1h0M1407.6 2007.9h0M1299 2189.8h0M1422.7 2101.3h0M1257.2 2143.4h0M1434.1 2077.1h0M1396.3 2184.9h0M1256.4 2041.7h0M1292.2 2017.1h0M1292.6 2225.8h0M1428.9 2205.9h0M1291.3 2266.5h0M1275.9 2186.1h0M1410.1 2041.8h0M1329.7 1982.2h0M1410.3 2146.3h0" stroke="#55a7bb"/>
<path d="M1404 2033.1h0M1275.4 2213.4h0M1267.2 2145.2h0M1388.4 1998.2h0M1412.4 2011.6h0M1426.2 2129h0M1357.9 1863.3h0M1383.1 2182.2h0M1361 2245.2h0M1322 1879.6h0M1262.9 2211.1h0M1260.9 2200.5h0M1446.4 2103.3h0M1435.9 2159.5h0M1400.4 1944.3h0M1283.3 2207h0M1288.9 2185.6h0M1379 1994.5h0M1419.9 2145.2h0M1257.2 2103.1h0M1324.5 2003h0M1356.8 1996.2h0M1480.4 2055.4h0M1286.5 2253.2h0M1445.4 2070.1h0M1338.6 2231.8h0M1396 2003.4h0M1295.3 2063.4h0" stroke="#74a1c8"/>
<path d="M1407.1 1959.9h0M1301.5 2118.9h0M1268.8 2137h0M1272 2300.1h0M1407.2 2026.5h0M1407.6 2060h0M1281 2127.7h0M1320.6 1827h0M992.5 2117.4h0M1305.4 2266.8h0M1428.6 2151.2h0" stroke="#49b392"/>
<path d="M1435.1 2208.2h0M1363.4 2258.4h0M1284.6 2024.2h0M1251.3 2191.9h0M1380.3 1901.6h0M1244 2283h0M1244 2244h0M1359.9 2253.7h0M1467.3 2127h0M1338.7 1929.3h0M1324.4 1907.8h0" stroke="#7ba694"/>
</g>
<path d="M977.7 1776.4V2316.1H1530.7" stroke="#111" stroke-width="4.8" fill="none"/>
<path d="M977.7 1886.3h-15M977.7 2013.3h-15M977.7 2139.4h-15M977.7 2266.4h-15M1097.1 2316.1v17M1268.5 2316.1v17M1439 2316.1v17" stroke="#111" stroke-width="3.8" fill="none"/>
<text x="902.2" y="1898.9" font-size="36.3" textLength="49.6" lengthAdjust="spacingAndGlyphs">0.4</text>
<text x="902.2" y="2025.9" font-size="36.3" textLength="49.6" lengthAdjust="spacingAndGlyphs">0.3</text>
<text x="902.2" y="2152" font-size="36.3" textLength="49.6" lengthAdjust="spacingAndGlyphs">0.2</text>
<text x="902.2" y="2279" font-size="36.3" textLength="49.6" lengthAdjust="spacingAndGlyphs">0.1</text>
<text x="1088.6" y="2374.4" font-size="36.3" textLength="19.9" lengthAdjust="spacingAndGlyphs">2</text>
<text x="1260.1" y="2374.4" font-size="36.3" textLength="19.9" lengthAdjust="spacingAndGlyphs">4</text>
<text x="1430.6" y="2374.4" font-size="36.3" textLength="19.9" lengthAdjust="spacingAndGlyphs">6</text>
<text x="1041" y="2423.2" font-size="38.5" textLength="427.9" lengthAdjust="spacingAndGlyphs">The expression of NFKBIE</text>
<g transform="translate(1254.9 2473.3)"><text x="-121.3" y="0" font-size="38.5" textLength="59.1" lengthAdjust="spacingAndGlyphs">Log</text><text x="-62.2" y="12.5" font-size="19.3" stroke="none" textLength="10.6" lengthAdjust="spacingAndGlyphs">2</text><text x="-42.2" y="0" font-size="38.5" textLength="163.4" lengthAdjust="spacingAndGlyphs">(TPM + 1)</text></g>
<text x="-177.4" y="0" font-size="38.5" transform="translate(883 2045.8) rotate(-90)" textLength="354.7" lengthAdjust="spacingAndGlyphs">Enrichment of B cells</text>
<text x="992" y="1826.6" font-size="50.1" textLength="34.2" lengthAdjust="spacingAndGlyphs">G</text>
<text x="1031.6" y="2011.4" font-size="38.5" textLength="171.4" lengthAdjust="spacingAndGlyphs">Spearman</text>
<g transform="translate(1031.6 2061.6)"><text x="0" y="0" font-size="38.5" font-style="italic" textLength="22.6" lengthAdjust="spacingAndGlyphs">R</text><text x="32" y="0" font-size="38.5" textLength="125.2" lengthAdjust="spacingAndGlyphs">= 0.202</text></g>
<g transform="translate(1031.6 2110.7)"><text x="0" y="0" font-size="38.5" font-style="italic" textLength="21.5" lengthAdjust="spacingAndGlyphs">P</text><text x="30.9" y="0" font-size="38.5" textLength="125.2" lengthAdjust="spacingAndGlyphs">&lt; 0.001</text></g>
</g>
<g id="pH">
<path d="M1803 2112.8L1826 2105.6L1849 2098.3L1871.9 2091.1L1894.9 2083.8L1917.9 2076.6L1940.9 2069.4L1963.9 2062.1L1986.9 2054.9L2009.9 2047.6L2032.8 2040.3L2055.8 2033.1L2078.8 2025.8L2101.8 2018.5L2124.8 2011.2L2147.8 2003.7L2170.7 1995.5L2193.7 1985.5L2216.7 1974.8L2239.7 1964.1L2262.7 1953.2L2285.7 1942.4L2308.7 1931.6L2331.6 1920.7L2354.6 1909.8L2354.6 1939.1L2331.6 1946.4L2308.7 1953.6L2285.7 1960.9L2262.7 1968.1L2239.7 1975.4L2216.7 1982.8L2193.7 1990.2L2170.7 1998.3L2147.8 2008.2L2124.8 2018.9L2101.8 2029.6L2078.8 2040.5L2055.8 2051.3L2032.8 2062.1L2009.9 2073L1986.9 2083.9L1963.9 2094.7L1940.9 2105.6L1917.9 2116.4L1894.9 2127.3L1871.9 2138.2L1849 2149L1826 2159.9L1803 2170.8" fill="#e4e4e4"/>
<path d="M1803 2141.8L2354.6 1924.5" stroke="#707070" stroke-width="3" fill="none"/>
<path d="M2104.8 2040.6L2109.9 2039.3L2115.1 2040L2119.6 2042.6L2122.9 2046.8L2132.1 2079.1L2131.3 2081.8L2127 2085.6L2131.5 2084L2161.9 2095L2182.1 2084.9L2185.1 2078.4L2190.8 2074.5L2195 2056.1L2199.3 2055.5L2202.2 2051.7L2220.6 2050.3L2230.4 2044.9L2234 2036.9L2234 2027.3L2239.7 2020.4L2240.2 2002.3L2243.5 2000.2L2257 2000.8L2258.6 1989.1L2251.1 1982.4L2246.7 1974.5L2251.7 1966.8L2252.5 1933.4L2238.4 1930.3L2228.1 1923.7L2227.9 1919L2236.9 1909.9L2228.9 1901.8L2220.7 1897.8L2215 1887.9L2208.5 1881.4L2178.6 1888.5L2169.9 1892.1L2164.2 1898.2L2152.6 1902.4L2148.4 1909.4L2143.6 1927.7L2126.1 1961.5L2124.9 1966.8L2122.7 1968.3L2106.4 1971.1L2105.3 1976.1L2097.4 1992.1L2100.9 2004.9L2100.6 2011L2091.4 2024.1L2090.3 2034.6Z" fill="#4b9db2" stroke="#4b9db2" stroke-width="8" stroke-linejoin="round"/>
<g stroke-width="17.2" stroke-linecap="round" fill="none" opacity="0.95">
<path d="M2128.7 2098.5h0M2233.8 2031.6h0M2269.9 1935.9h0M2260.2 2008h0M2147.7 1922.9h0M2265.1 2002.8h0M2234.4 2021.4h0M2264.9 1961.2h0M2238.6 2033.4h0M2243.2 1923.7h0M2237.3 2079.3h0M2106.2 1958.4h0M2217 2076.7h0M2125.6 1962.3h0M2249.1 1954.1h0M2025.8 2074.6h0M2088 2031.1h0M2108 2109.6h0M2259.7 1999.8h0M2109 2126.9h0M2081.7 2048.3h0M2248.2 1933h0M2117.5 2116.4h0M2255.9 1955.7h0M2166.7 1897.2h0M2247.4 2003.9h0M2267 1934.6h0M2173.1 2081.5h0M2096.8 2022.2h0M2139.2 2083h0M2098.1 2110.7h0M2121.5 2043.6h0M2128.7 2127.9h0M2123.4 2117.5h0M2258.2 1945.5h0M2252.6 1997h0M2246.6 1910h0" stroke="#55a7bb"/>
<path d="M2074.5 2051.3h0M2124.1 2080.4h0M2130.4 2104.9h0M2127.6 2044.8h0M2107.3 2006.5h0M2262 1969.8h0M2256.1 2010.7h0M2123.7 2169h0M2101.3 1978.7h0M2128.7 2135.3h0M2223.5 1897.3h0M2268.1 1964h0M2143.9 2086.3h0M2101.1 1966.6h0M2258.8 1958.5h0M2197.8 1890.7h0M2259.4 2025.7h0M2179 1894.9h0" stroke="#74a1c8"/>
<path d="M2161.7 1896.2h0M1974.9 2112.2h0M2114.3 2037.1h0" stroke="#49b392"/>
<path d="M2113.8 1974.3h0M2099.8 1988.2h0M2076 1973.1h0M2258.4 1929.8h0M2062.8 1988.7h0M2193 1843h0M2215 1895.1h0M2126.5 2040.6h0M2252.6 1961.5h0M2087.9 2049.8h0M1938.1 2117.9h0" stroke="#7ba694"/>
<path d="M1982.1 2191.9h0M2208.5 2161.1h0" stroke="#929898"/>
<path d="M2256.2 1943.3h0M2232.7 2077h0M2096 2121.3h0M2098.5 2005.9h0M2099.4 2100.2h0M2148.1 1914.9h0M2230.6 1910.7h0M2277.1 2015.5h0M2263.6 1932.2h0M2253.2 1975.1h0M2095.3 2105.8h0M2096.6 2124h0M2255 1913.2h0M2112.8 1948.1h0M2116.1 2098.7h0M2125 2050.5h0M2200.3 1881.4h0M2131.5 1930.4h0M2229.9 1896.9h0M2281.8 1992.2h0M2225.7 2039.4h0M2263.7 2025.2h0M2062.5 2056.5h0M2128.9 2080.7h0M2122.7 2104.4h0M2283.6 2019.6h0M2239.6 1898.1h0M2211.4 2073.9h0M2228.4 2074.7h0M2153.9 2096.1h0M2234.1 2073.8h0M2096.7 1986.9h0M2191.9 1882.3h0M2238.1 1932.4h0M2219.7 2064.6h0M2102.1 1982.6h0M2148.8 2196.4h0M2099.3 2047.5h0" stroke="#55a7bb"/>
<path d="M2066.4 2007.8h0M2265.8 2103.8h0M2226.3 2068.5h0M2114 1951.5h0M2226 1896.3h0M2262.1 2013.4h0M2100.1 2073.5h0M2098.5 2045.3h0M2053.3 2072.2h0M2142.3 1938.9h0M2268.6 2018.8h0M2101.1 2079.3h0M2264.6 1861.6h0M2120.1 2109.6h0" stroke="#74a1c8"/>
<path d="M2247 2008h0M2119 1932.5h0M2230 1929.9h0M2259.7 1983.2h0M2129.9 1966h0M2145.5 1917.9h0M2280.1 1872.8h0M1838.8 2073h0M1801.6 1794.1h0M2173.7 1897h0" stroke="#49b392"/>
<path d="M2273.1 1947.5h0M2304 2035.2h0M2220.4 1906.5h0M2236 1852.5h0M2124.9 2189.7h0M2268.2 2041.2h0M2101.6 2072.3h0M2216.9 1835.3h0M2239.6 1875.2h0" stroke="#7ba694"/>
<path d="M2281.5 2017.6h0M2123.5 2075.2h0M2128.6 1951.4h0M2166.6 1893.1h0M2224.9 2052h0M2103 1966.8h0M2268.9 1964.4h0M2121.6 1961.3h0M2147.9 1920.8h0M2184.6 2085.9h0M2228.3 1905.6h0M2104.9 2014h0M2150.3 2099h0M2276.8 1935h0M2240.1 2044.9h0M2120.2 1947h0M2100.9 2041.1h0M2145.3 1931.5h0M2196.8 2048h0M2254 1972.6h0M2134.8 2122.5h0M2106.3 1959.6h0M2141.6 2084.4h0M2099.7 2121.8h0M2262 2009.3h0M2226.6 1894.9h0M2283.5 1988.9h0M2258.2 1922.2h0M2234.4 1906.8h0M2108.6 1958.2h0M2111.1 2072.2h0M2092.6 1994.2h0M2128.1 2078.4h0M2088.2 2030.1h0M2255 2074.3h0M2105.6 1971.5h0M2101.7 1964.3h0M2252 1998.3h0M2222.6 2065h0M2172.6 2084.4h0" stroke="#55a7bb"/>
<path d="M2106 1950.4h0M2277.8 1980.7h0M2180.6 2082.1h0M2096.1 2033.1h0M2251.1 1925h0M2184.6 2153h0M2114.8 2088.4h0M2173 2085h0M2111.3 2033h0M2098.5 1987.7h0" stroke="#74a1c8"/>
<path d="M2185.8 2129.6h0M2183.9 1856.1h0M2235.5 1935.7h0M2210.8 1881.6h0M2240.7 1831.5h0M2274.8 1979.5h0M2052.8 2238.3h0" stroke="#49b392"/>
<path d="M1908.1 1903.9h0M2276.1 1823.9h0M2116 2122.2h0M2355.4 1909.4h0M2067.1 2299.9h0M2131.4 1875.2h0M2111.8 2165.4h0M2046.6 2042.9h0M1961.6 2052h0M2227 2075.6h0M2219.3 1865.7h0M2012.7 2075.8h0" stroke="#7ba694"/>
<path d="M2223.6 2110.9h0M2319.6 1968.4h0" stroke="#929898"/>
</g>
<path d="M1786.3 1778.8V2316.1H2369.9" stroke="#111" stroke-width="4.8" fill="none"/>
<path d="M1786.3 1892h-15M1786.3 2042.9h-15M1786.3 2193.4h-15M1911.4 2316.1v17M2092.9 2316.1v17M2273.9 2316.1v17" stroke="#111" stroke-width="3.8" fill="none"/>
<text x="1689.1" y="1904.6" font-size="36.3" textLength="69.5" lengthAdjust="spacingAndGlyphs">0.50</text>
<text x="1689.1" y="2055.5" font-size="36.3" textLength="69.5" lengthAdjust="spacingAndGlyphs">0.25</text>
<text x="1738.7" y="2206" font-size="36.3" textLength="19.9" lengthAdjust="spacingAndGlyphs">0</text>
<text x="1903" y="2374.4" font-size="36.3" textLength="19.9" lengthAdjust="spacingAndGlyphs">2</text>
<text x="2084.5" y="2374.4" font-size="36.3" textLength="19.9" lengthAdjust="spacingAndGlyphs">4</text>
<text x="2265.5" y="2374.4" font-size="36.3" textLength="19.9" lengthAdjust="spacingAndGlyphs">6</text>
<text x="1865.8" y="2423.2" font-size="38.5" textLength="427.9" lengthAdjust="spacingAndGlyphs">The expression of NFKBIE</text>
<g transform="translate(2079.7 2473.3)"><text x="-121.3" y="0" font-size="38.5" textLength="59.1" lengthAdjust="spacingAndGlyphs">Log</text><text x="-62.2" y="12.5" font-size="19.3" stroke="none" textLength="10.6" lengthAdjust="spacingAndGlyphs">2</text><text x="-42.2" y="0" font-size="38.5" textLength="163.4" lengthAdjust="spacingAndGlyphs">(TPM + 1)</text></g>
<text x="-165.7" y="0" font-size="38.5" transform="translate(1667.7 2044.4) rotate(-90)" textLength="331.4" lengthAdjust="spacingAndGlyphs">Enrichment of TReg</text>
<text x="1820.7" y="1826.6" font-size="50.1" textLength="33.8" lengthAdjust="spacingAndGlyphs">H</text>
<text x="2200.4" y="2199.1" font-size="38.5" textLength="171.4" lengthAdjust="spacingAndGlyphs">Spearman</text>
<g transform="translate(2200.4 2248.3)"><text x="0" y="0" font-size="38.5" font-style="italic" textLength="22.6" lengthAdjust="spacingAndGlyphs">R</text><text x="32" y="0" font-size="38.5" textLength="125.2" lengthAdjust="spacingAndGlyphs">= 0.389</text></g>
<g transform="translate(2200.4 2298.4)"><text x="0" y="0" font-size="38.5" font-style="italic" textLength="21.5" lengthAdjust="spacingAndGlyphs">P</text><text x="30.9" y="0" font-size="38.5" textLength="125.2" lengthAdjust="spacingAndGlyphs">&lt; 0.001</text></g>
</g>
<g id="pI">
<path d="M2574.5 2175.4L2597 2168.3L2619.6 2161.3L2642.1 2154.2L2664.7 2147.2L2687.2 2140.2L2709.8 2133.1L2732.3 2126.1L2754.9 2119L2777.4 2112L2800 2104.9L2822.5 2097.9L2845 2090.8L2867.6 2083.8L2890.1 2076.7L2912.7 2069.5L2935.2 2061.4L2957.8 2049.1L2980.3 2035.8L3002.9 2022.4L3025.4 2009L3048 1995.5L3070.5 1982.1L3093.1 1968.6L3115.6 1955.2L3115.6 2006.5L3093.1 2013.5L3070.5 2020.6L3048 2027.6L3025.4 2034.7L3002.9 2041.8L2980.3 2048.8L2957.8 2056L2935.2 2064.3L2912.7 2076.7L2890.1 2090L2867.6 2103.4L2845 2116.8L2822.5 2130.3L2800 2143.7L2777.4 2157.2L2754.9 2170.6L2732.3 2184.1L2709.8 2197.5L2687.2 2211L2664.7 2224.4L2642.1 2237.9L2619.6 2251.3L2597 2264.8L2574.5 2278.3" fill="#e4e4e4"/>
<path d="M2574.5 2226.8L3115.6 1980.8" stroke="#707070" stroke-width="3" fill="none"/>
<path d="M2874.7 2106.2L2887.2 2109.4L2891.3 2112.6L2890.6 2116.9L2882 2123.6L2885.7 2132.2L2887.3 2143.8L2904.6 2156.7L2907.3 2174.3L2917.6 2178.8L2918.6 2188.3L2916.8 2202.4L2922 2208.6L2926.3 2198.8L2937.1 2184.5L2951.7 2173.9L2953 2160.4L2958.1 2157.8L2963.7 2146.7L2963.7 2142L2970.9 2136.4L2975.3 2108L2973 2098L2973.4 2091.1L2975.9 2089.4L2996.9 2086.4L2993.4 2054.8L2987.6 2041.1L2990.6 2037.7L2997.5 2034L3009.3 2031.1L3011.1 2024L3001.9 2005.9L2999.6 1994L3001 1982L3004.8 1972.8L3004.6 1964L3006.8 1954.1L2996.6 1951.2L2994.1 1945.7L2986 1944.1L2983.2 1942L2976.5 1932.4L2972.7 1920.8L2968.7 1921.5L2966.3 1918.7L2951.5 1918.7L2942.9 1933L2947.2 1941.7L2947.1 1944.8L2940.1 1948.7L2929.5 1950.3L2928.2 1952.7L2928.6 1962.5L2927.1 1970.6L2924.1 1978L2917.9 1986.7L2916.9 1992.6L2914.1 1993.7L2893.9 1991.5L2906.5 2008.4L2908 2013L2906.5 2019.1L2893.7 2036.2L2893.7 2058.7L2902.2 2073.2L2901.9 2092.5L2899.9 2095.4Z" fill="#4b9db2" stroke="#4b9db2" stroke-width="8" stroke-linejoin="round"/>
<g stroke-width="17.2" stroke-linecap="round" fill="none" opacity="0.95">
<path d="M2913.7 2168.4h0M3015.8 1959.5h0M3003.2 2145.3h0M2845.8 2116.2h0M2903 2154.4h0M3020 1978.9h0M2975.8 2124.6h0M2885.9 2195.2h0M2998.4 1947.6h0M2999.7 2156.3h0M2907.7 1952.7h0M3032.6 2007.8h0M2951.2 2161.2h0M2902.1 2003.2h0M2859.4 2132.2h0M2909.9 2194.4h0M2894.2 1944.6h0M2963.7 2194h0M2920.5 2259.4h0M2949.4 1923.1h0M2990.3 1935.4h0M2894.9 2167.3h0M2905 1965.2h0M2918.3 1957.2h0M2898.2 2150.2h0M2861.9 2107.9h0M2907.4 1925.7h0M2894.7 1967.3h0M2918.6 1991.8h0M2888 1946.9h0M2996.2 2010.7h0M2921.9 2178h0M2946.4 2236.7h0M3028.5 2014.6h0M2860.4 2131h0M2983.4 1939.5h0M2985.1 1925.2h0M2904.9 2262.8h0M2945.9 2217.8h0M2989.3 1914h0M2896.3 2073.3h0M3003.5 1920.4h0M2911.4 2164.3h0M2905.1 2016.8h0M3043.7 2054.5h0M2886.4 2021.3h0M2882.7 2215.6h0M2903.9 2017.6h0M3005.1 1918.8h0M2925.5 1958.4h0M2889.1 2033.9h0M2980.8 2164.8h0M2862.5 2113.7h0M2884.8 2060h0M2948.5 2186.2h0M2916.6 2190.1h0M2999.8 1939.9h0M2939.4 2234h0M2992.7 2096.2h0M3037.5 2052h0M2905.6 2205.2h0M2888.4 2012.6h0M3007 2031.6h0" stroke="#55a7bb"/>
<path d="M2989.5 2040.3h0M2980.3 1926.9h0M2892.5 2166.3h0M2909.1 2198.9h0M2744 1976.1h0M2901.3 2041.9h0M3024.1 1944h0M2908.1 1983.2h0M2946.8 1929.4h0M2952.6 2186.1h0M2862.9 2145.2h0M2902.3 2033h0M2874.9 2075h0M2893.1 2167.8h0M3007.3 2044.3h0M2881.1 2155h0M2871.8 1896.2h0M3035.4 1864.8h0M2944.7 2200.8h0M2876.5 2128.9h0M3028.2 1881.5h0M3007.3 2004.9h0M2947.5 1940.9h0" stroke="#74a1c8"/>
<path d="M2890.4 2000.1h0M2937.6 1946.2h0M2928.9 1931.6h0M3029.4 2126h0M3033.4 1942.1h0M2919.8 1946.6h0M2949.3 1936.8h0M2975.8 2125.2h0M2892.9 2158.7h0" stroke="#49b392"/>
<path d="M2864.6 2252.5h0M3037.8 1818.4h0M2935.9 1930.1h0M2901.7 2213.1h0M3009.1 1888.7h0M2819.7 2258.5h0M2852.4 2117.2h0M2902.8 2194.9h0M3115.4 2171.3h0M2868.2 2227.8h0M2843.1 2056.7h0M2976.4 1892.3h0M2987.6 1833.7h0" stroke="#7ba694"/>
<path d="M2782.2 2017.3h0" stroke="#929898"/>
<path d="M2909.5 1931.2h0M2905.3 2151h0M2975.6 1930h0M2907.1 2020.1h0M2986.8 2165.3h0M3016.3 1959.2h0M2900.3 2065.6h0M2887.6 1970.8h0M2983.5 2145.9h0M2904.5 1921.5h0M3019.1 1949.8h0M2929.7 1919.7h0M2875.9 2154.6h0M3037.6 1943.7h0M3001.1 2078.5h0M2990.1 1922.7h0M2987.3 1904.5h0M2905.1 2098.5h0M2970 2116h0M2882.2 2076.9h0M2966.8 2101.6h0M2871.8 2154.8h0M2864.3 2157.7h0M3022.5 1935h0M3002.3 1974.1h0M2928.8 1973h0M2921.9 2267.4h0M2948.9 2176.7h0M2902.4 2145.3h0M2965.9 1910.3h0M2969.9 1916.6h0M2881.9 2064.6h0M2988.1 2162.5h0M3019.8 1977.3h0M2972 2183.4h0M2901.7 1944.1h0M2959.3 2199.8h0M2878.1 2091.3h0M2947.2 2176.6h0M2870.4 2079.4h0M3001.4 2115h0M3040.7 1937.7h0M2911.3 1929.8h0M2946.8 2202.8h0M2981.4 2041.9h0M3015.7 2059.9h0M2893.2 2208h0M2931.6 1929.9h0M2913.3 2197.5h0M2967 2099.9h0M3023.6 1959.5h0M2987.7 2047.9h0M2917.5 2216.8h0" stroke="#55a7bb"/>
<path d="M2918.7 1997.9h0M2855.1 2198.8h0M2897.2 2098.4h0M3000.5 1862.4h0M2928.6 1961.7h0M2918 1949.8h0M2864.8 2128.5h0M2906.6 1959.5h0M2911.3 1963.1h0M2971.8 2180h0M3047.9 1949.3h0M2932.3 2208.5h0M2977.5 1891.4h0M2917.4 2278.9h0M2992.5 2084h0M2893.8 2103.7h0M3024.8 1960.6h0M2729.7 1991.3h0M2916 1828h0M3035.4 1838.5h0M3019.1 1926.9h0M2896.2 2030.3h0M2944.4 2182.5h0M3005.1 2061.1h0M2956.8 2156.2h0M2918.6 2203.4h0M2919.6 1977.4h0" stroke="#74a1c8"/>
<path d="M2856.3 2000.6h0M3065.2 2145.6h0M2793.7 2225.6h0M2865.2 2111.1h0M3027.3 1921.7h0M3007 1935.2h0M2986.7 2096h0M3031.8 2171.3h0M2814.5 2055.5h0" stroke="#49b392"/>
<path d="M2820 2075.3h0M3018.3 1980.7h0M2859.9 1890.7h0M3033 2078.2h0M3019.9 1931.3h0M2881.4 2213.2h0M2903.1 2214.4h0M3034.8 1973h0M2572.1 2015.2h0M2990 2227.5h0M2985.3 2096.1h0M2951.8 1881.5h0M2834.8 1893.1h0M2906.3 2089.9h0M2867.9 2104.2h0M2970.9 1867.2h0M2873.6 2144.7h0" stroke="#7ba694"/>
<path d="M2883.7 1933.7h0M2849.1 2300.4h0M2751.2 2159.9h0" stroke="#929898"/>
<path d="M2905.1 1950.5h0M2903 1913.7h0M2976.3 1906.5h0M3029.3 2001.7h0M3040.1 2046.3h0M2905.9 2197.1h0M2944.3 1908.7h0M2879.6 2139.2h0M3003.2 2104.6h0M2863.8 2156.1h0M2885.5 2067.9h0M2997.7 2080.5h0M2994.4 2130.8h0M2914.8 1987.1h0M2972.8 2175.3h0M2987.9 1932.8h0M2929.6 1949.9h0M3038.3 1954h0M2962.6 1894.1h0M2968.9 2138.8h0M2871.6 2094.8h0M2963.5 2160.1h0M2907.1 2072.7h0M2886.2 2145.1h0M2887.7 2159.7h0M3001.7 1944.1h0M3007.4 1971.5h0M2907.5 2200h0M2915.7 1972.5h0M3006.9 1920.1h0M2873.9 2215.8h0M2906.9 2162.3h0M2976.4 2086.6h0M2875 2077.4h0M2877.6 2122.2h0M2937.5 2174.5h0M3007.6 1949.8h0M2947.3 1914h0M2899.4 2062.1h0M2961.8 2178.4h0M2995.7 2106.3h0M2974.2 2126.6h0M2876.2 2039h0M3017.6 1996.1h0M2955.7 2144.7h0M3001.2 2111.8h0M2939.2 1919.4h0M2899.9 2094.8h0M2862.3 2143.7h0M2996.9 2137.3h0M2977.2 1935.1h0M2881.7 2065.2h0M3007.6 1978.2h0M2956.2 2170.5h0M2861 2102h0" stroke="#55a7bb"/>
<path d="M3029.4 2091.3h0M2870.6 2213.9h0M2965 1921.8h0M3012.7 2198.8h0M2926.6 2204.7h0M3025.2 2060h0M3037.2 1956.3h0M2863 2120.6h0M2901.1 2056.5h0M2884.5 2206.6h0M2959.3 1910.4h0M2999.6 1828h0M2923.1 1815.6h0M3013.5 2033.7h0M2895.1 2102.3h0M2878.4 2052.9h0M3040.8 2033.1h0M2976.8 1897.4h0M2885.9 2201.5h0M3036 1978.1h0M2892.1 2108.6h0M2988 2041h0M2994.8 1922.6h0" stroke="#74a1c8"/>
<path d="M2951.8 2258.5h0M2901.8 2239.5h0M3081.9 1994.6h0M3018.8 2062.2h0M3035.4 1915.8h0M2905 1840.9h0M2678.6 1952.7h0M3006.8 2034.6h0M2903.6 2018.9h0M2893.3 2032.5h0M2996.1 1950.7h0M2875.4 2003h0M2846.7 2183.3h0M2973.6 1935.2h0M3029.2 2007.8h0M2932.7 1886.3h0" stroke="#49b392"/>
<path d="M2830 2164.2h0M2709.2 1861.4h0M2850.8 1956.4h0M2984.3 1794.6h0M2871.8 2189.3h0M2806.1 1860h0M2990.2 1901h0M2946.1 1837.6h0M2611.7 2230.1h0M3042.5 2182.8h0M2932.7 2216.6h0M2833.6 2213.1h0M2870.6 1968.4h0M2898.9 2020.2h0M2994.3 1897.6h0" stroke="#7ba694"/>
</g>
<path d="M2557.3 1780.2V2316.1H3131.9" stroke="#111" stroke-width="4.8" fill="none"/>
<path d="M2557.3 1834.7h-15M2557.3 1978h-15M2557.3 2121.7h-15M2557.3 2264.5h-15M2681.9 2316.1v17M2860.1 2316.1v17M3037.8 2316.1v17" stroke="#111" stroke-width="3.8" fill="none"/>
<text x="2486.6" y="1847.3" font-size="36.3" textLength="49.6" lengthAdjust="spacingAndGlyphs">0.6</text>
<text x="2486.6" y="1990.6" font-size="36.3" textLength="49.6" lengthAdjust="spacingAndGlyphs">0.5</text>
<text x="2486.6" y="2134.3" font-size="36.3" textLength="49.6" lengthAdjust="spacingAndGlyphs">0.4</text>
<text x="2486.6" y="2277.1" font-size="36.3" textLength="49.6" lengthAdjust="spacingAndGlyphs">0.3</text>
<text x="2673.5" y="2374.4" font-size="36.3" textLength="19.9" lengthAdjust="spacingAndGlyphs">2</text>
<text x="2851.7" y="2374.4" font-size="36.3" textLength="19.9" lengthAdjust="spacingAndGlyphs">4</text>
<text x="3029.3" y="2374.4" font-size="36.3" textLength="19.9" lengthAdjust="spacingAndGlyphs">6</text>
<text x="2634" y="2423.2" font-size="38.5" textLength="427.9" lengthAdjust="spacingAndGlyphs">The expression of NFKBIE</text>
<g transform="translate(2847.9 2473.3)"><text x="-121.3" y="0" font-size="38.5" textLength="59.1" lengthAdjust="spacingAndGlyphs">Log</text><text x="-62.2" y="12.5" font-size="19.3" stroke="none" textLength="10.6" lengthAdjust="spacingAndGlyphs">2</text><text x="-42.2" y="0" font-size="38.5" textLength="163.4" lengthAdjust="spacingAndGlyphs">(TPM + 1)</text></g>
<text x="-239" y="0" font-size="38.5" transform="translate(2447.3 2045.8) rotate(-90)" textLength="477.9" lengthAdjust="spacingAndGlyphs">Enrichment of Macrophages</text>
<text x="2596" y="1826.6" font-size="50.1" textLength="13.6" lengthAdjust="spacingAndGlyphs">I</text>
<text x="2597.4" y="2027.2" font-size="38.5" textLength="171.4" lengthAdjust="spacingAndGlyphs">Spearman</text>
<g transform="translate(2597.4 2076.4)"><text x="0" y="0" font-size="38.5" font-style="italic" textLength="22.6" lengthAdjust="spacingAndGlyphs">R</text><text x="32" y="0" font-size="38.5" textLength="125.2" lengthAdjust="spacingAndGlyphs">= 0.315</text></g>
<g transform="translate(2597.4 2126)"><text x="0" y="0" font-size="38.5" font-style="italic" textLength="21.5" lengthAdjust="spacingAndGlyphs">P</text><text x="30.9" y="0" font-size="38.5" textLength="125.2" lengthAdjust="spacingAndGlyphs">&lt; 0.001</text></g>
</g>
<g id="pJ">
<path d="M183.9 3010.9L206.9 3004.6L229.9 2998.3L253 2992L276 2985.7L299 2979.4L322 2973L345.1 2966.7L368.1 2960.4L391.1 2954.1L414.1 2947.8L437.2 2941.5L460.2 2935.1L483.2 2928.8L506.2 2922.4L529.3 2915.9L552.3 2908.6L575.3 2899.1L598.3 2888.8L621.4 2878.3L644.4 2867.9L667.4 2857.4L690.4 2846.9L713.5 2836.5L736.5 2826L736.5 2859.7L713.5 2866L690.4 2872.3L667.4 2878.6L644.4 2885L621.4 2891.3L598.3 2897.7L575.3 2904.2L552.3 2911.5L529.3 2920.9L506.2 2931.2L483.2 2941.6L460.2 2952.1L437.2 2962.5L414.1 2973L391.1 2983.5L368.1 2994L345.1 3004.5L322 3015L299 3025.4L276 3035.9L253 3046.4L229.9 3056.9L206.9 3067.4L183.9 3077.9" fill="#e4e4e4"/>
<path d="M183.9 3044.4L736.5 2842.8" stroke="#707070" stroke-width="3" fill="none"/>
<path d="M483.2 2881.8L483.2 2890.8L488 2900.8L504.6 2906L508.5 2910.5L510.1 2916.7L509.8 2927.8L506.7 2934.3L483.2 2946.4L483.2 2962.2L491.1 2969.2L494.7 2982.5L485.7 2996.4L490.1 3004.4L489.4 3013L496.9 3014.2L501.5 3016.6L517.3 3016.6L525.3 3014L549.9 3016.6L567.8 3016.6L572.6 3014.6L574.4 3005.1L575.1 2982.1L577.7 2980.4L603.2 2976.1L608 2952.7L622.1 2938.4L622.2 2883.7L627.9 2876.3L629.8 2865.5L634.9 2856.4L636.9 2829.8L623.3 2828.6L622.1 2811L614.5 2806.1L589.7 2805.1L584.9 2782.6L580.3 2778L562 2778.1L561.3 2805.5L533 2820.2L499.8 2853.5Z" fill="#4b9db2" stroke="#4b9db2" stroke-width="8" stroke-linejoin="round"/>
<g stroke-width="17.2" stroke-linecap="round" fill="none" opacity="0.95">
<path d="M499.9 3020h0M656.7 2855h0M596.9 2994.6h0M573.8 2783.6h0M639.5 2938.6h0M545.5 2804h0M602.1 2993.7h0M540.6 2820.3h0M641.8 2918.1h0M613.8 2988.5h0M649.2 2881.9h0M618 2891.6h0M615.8 2795.2h0M657.4 2851.6h0M496.2 2823.4h0M544.4 2810.9h0M475.4 2961.2h0M511.7 2835.7h0M494.4 3006.3h0M494.2 2864.9h0M495.3 2853.9h0M630.2 2891.6h0M596 2983h0M508.4 3018h0M530.3 2816.1h0M534.8 2818.2h0M489 2861.1h0M559.8 2797.8h0M495.2 3017.2h0M480.1 2974.7h0M628 2885.4h0M613.9 2998h0M480.8 2943.1h0M522 3011h0" stroke="#55a7bb"/>
<path d="M631.3 2913.9h0M497.7 2843.9h0M543.4 2774.9h0M491.7 2974.7h0M599.3 2760.9h0M639.3 2857.9h0M651.8 2759.7h0M502.5 3058.2h0M512.4 2913.3h0M481.2 2972.8h0M609.2 2961.3h0M608.6 2966.8h0M613.6 2791.9h0M570.7 2783.9h0M457.2 2903.5h0M510.9 2840.8h0M637.8 2829.6h0M586.1 2790.4h0M488.6 2977.1h0M506.1 3048.7h0" stroke="#74a1c8"/>
<path d="M649.4 2719.1h0M532.8 2823.5h0M602.8 2732.2h0M614 2964h0M657.8 2777.6h0M616.4 2894.2h0M515.7 3065.4h0M463.6 3064.2h0M456 3027.2h0" stroke="#49b392"/>
<path d="M450 2707.2h0M631.3 2873.5h0M396.3 2872.4h0M600.6 2981.8h0M607.6 2739.4h0M656.6 2799.1h0M420.3 2631.7h0M539.7 2594.5h0M434.5 2984.2h0" stroke="#7ba694"/>
<path d="M321 2831.9h0" stroke="#929898"/>
<path d="M537.7 2817h0M536.6 2806.5h0M476 2887.3h0M550.6 2775.6h0M514 2844.2h0M506.5 3020.2h0M502.9 3024.7h0M628.1 2920.6h0M477.3 2954.3h0M614.5 2952.8h0M489.7 2996.6h0M624.6 2889.8h0M582.3 2996.3h0M578.7 3008h0M526.5 3012.6h0M467.8 2973.8h0M560.8 2799h0M623 2825.7h0M493.3 2850.4h0M494.8 3013.8h0M635.5 2935.2h0M573.2 2974.2h0M492.2 2828.5h0M534.2 3014.6h0M635 2848.5h0M629.1 2900.2h0M471.3 2977.3h0M543.1 2798.7h0M470.4 2946h0M637.5 2827.2h0M598 2966h0M505.9 2918h0M518.1 2827.4h0M626.9 2906.9h0" stroke="#55a7bb"/>
<path d="M571.9 2997h0M488.3 2861.1h0M537.7 2807.1h0M638.6 2907.3h0M408.9 2999.2h0M612.3 2959.1h0M650 2923.4h0M666.1 2728.7h0M510.8 2921.4h0M612.7 2978.9h0M625.4 2883.1h0M520.6 2831.8h0M552.8 2817.8h0M500.4 2863.2h0M502.2 2898.6h0M566.6 2783.6h0M623.9 2833.7h0M520.3 2841.4h0M620.7 2746.6h0M483.4 2996.8h0M493.7 2836.7h0" stroke="#74a1c8"/>
<path d="M575.4 3028.4h0M567.9 3014.1h0M492 3017.3h0M616 2768.1h0M627.9 2953h0M663.3 2974.6h0" stroke="#49b392"/>
<path d="M635.6 2915.2h0M529.7 2826h0M591.6 2978h0M661 2829.5h0M485.7 2878.1h0M684.7 3025.5h0M289.9 2849h0M461.9 3075.4h0M545.5 3033.1h0M643.9 2857.3h0M183.9 2843.8h0M221.1 3083.6h0" stroke="#7ba694"/>
<path d="M625.9 2821h0M636.4 2857.5h0M504.9 2924.5h0M481.7 2951h0M497.5 3014.3h0M582.5 2772.5h0M626.5 2896h0M477.5 2875h0M550.1 2794.1h0M622.7 2903.6h0M637.4 2832.1h0M489.8 2903.8h0M483.6 3004.2h0M618.7 2932.5h0M653.3 2827.3h0M538 2809.6h0M510.6 2930.1h0M494.9 2825.6h0M553.1 2800.5h0M651.9 2879.2h0M491.7 2979.3h0M502.8 2823.4h0M628.3 2844.3h0M516.6 2927.8h0M511.8 3012.9h0M618.5 2946.7h0M511.6 3020.2h0" stroke="#55a7bb"/>
<path d="M607.8 2960.7h0M539.7 2822.5h0M658.9 2890.7h0M492.5 2972.7h0M594 2805.2h0M642.1 2877.7h0M521 2839.6h0M628.1 2600.2h0M469.2 2979.4h0M509.1 2901.1h0M626.9 2862.2h0M497.1 2971h0M613.2 2949.8h0M503.2 2826.9h0M497.7 2973h0M508.1 2920.5h0M652 2875.5h0" stroke="#74a1c8"/>
<path d="M482.3 2888.1h0M626.9 2903.4h0M475.3 2977.4h0M642 2855.3h0M507.5 2827.1h0M487.5 2945.8h0M605.5 2805h0M358.2 3005.2h0M487.6 2977h0M630.4 2814.2h0" stroke="#49b392"/>
<path d="M639 2914h0M654.2 2746.6h0M703.1 2858.8h0M546.7 3043.9h0M530.1 2660.9h0M445.2 2929.3h0M428.5 2913.7h0M592.2 3005.2h0M601.2 2988.4h0M617.8 2938.3h0M604.2 2635.1h0M343.9 2993.3h0M575.5 2766.4h0M364.4 3106.5h0M487.2 2865.6h0M491.8 2812.2h0M475.1 2837.3h0" stroke="#7ba694"/>
<path d="M513.3 3072.5h0M737.8 2880.8h0" stroke="#929898"/>
</g>
<path d="M167.2 2580.1V3122.2H753.2" stroke="#111" stroke-width="4.8" fill="none"/>
<path d="M167.2 2638.4h-15M167.2 2734.9h-15M167.2 2831.4h-15M167.2 2927.9h-15M167.2 3024.3h-15M293.3 3122.2v17M474.7 3122.2v17M656.2 3122.2v17" stroke="#111" stroke-width="3.8" fill="none"/>
<text x="92.2" y="2651" font-size="36.3" textLength="49.6" lengthAdjust="spacingAndGlyphs">0.6</text>
<text x="92.2" y="2747.5" font-size="36.3" textLength="49.6" lengthAdjust="spacingAndGlyphs">0.5</text>
<text x="92.2" y="2844" font-size="36.3" textLength="49.6" lengthAdjust="spacingAndGlyphs">0.4</text>
<text x="92.2" y="2940.5" font-size="36.3" textLength="49.6" lengthAdjust="spacingAndGlyphs">0.3</text>
<text x="92.2" y="3036.9" font-size="36.3" textLength="49.6" lengthAdjust="spacingAndGlyphs">0.2</text>
<text x="284.8" y="3182.9" font-size="36.3" textLength="19.9" lengthAdjust="spacingAndGlyphs">2</text>
<text x="466.3" y="3182.9" font-size="36.3" textLength="19.9" lengthAdjust="spacingAndGlyphs">4</text>
<text x="647.8" y="3182.9" font-size="36.3" textLength="19.9" lengthAdjust="spacingAndGlyphs">6</text>
<text x="255.8" y="3231.7" font-size="38.5" textLength="427.9" lengthAdjust="spacingAndGlyphs">The expression of NFKBIE</text>
<g transform="translate(469.7 3281.9)"><text x="-121.3" y="0" font-size="38.5" textLength="59.1" lengthAdjust="spacingAndGlyphs">Log</text><text x="-62.2" y="12.5" font-size="19.3" stroke="none" textLength="10.6" lengthAdjust="spacingAndGlyphs">2</text><text x="-42.2" y="0" font-size="38.5" textLength="163.4" lengthAdjust="spacingAndGlyphs">(TPM + 1)</text></g>
<text x="-223.7" y="0" font-size="38.5" transform="translate(71.1 2845.2) rotate(-90)" textLength="447.4" lengthAdjust="spacingAndGlyphs">Enrichment of Neutrophils</text>
<text x="187.2" y="2636" font-size="50.1" textLength="17.3" lengthAdjust="spacingAndGlyphs">J</text>
<text x="240.2" y="2702.9" font-size="38.5" textLength="171.4" lengthAdjust="spacingAndGlyphs">Spearman</text>
<g transform="translate(240.2 2753)"><text x="0" y="0" font-size="38.5" font-style="italic" textLength="22.6" lengthAdjust="spacingAndGlyphs">R</text><text x="32" y="0" font-size="38.5" textLength="125.2" lengthAdjust="spacingAndGlyphs">= 0.326</text></g>
<g transform="translate(240.2 2803.2)"><text x="0" y="0" font-size="38.5" font-style="italic" textLength="21.5" lengthAdjust="spacingAndGlyphs">P</text><text x="30.9" y="0" font-size="38.5" textLength="125.2" lengthAdjust="spacingAndGlyphs">&lt; 0.001</text></g>
</g>
<g id="pK">
<path d="M992.5 3038.9L1014.2 3030.6L1035.9 3022.2L1057.7 3013.8L1079.4 3005.5L1101.1 2997.1L1122.9 2988.7L1144.6 2980.4L1166.3 2972L1188.1 2963.6L1209.8 2955.2L1231.5 2946.9L1253.3 2938.5L1275 2930.1L1296.7 2921.6L1318.4 2913.1L1340.2 2903.8L1361.9 2892.3L1383.6 2879.9L1405.4 2867.3L1427.1 2854.8L1448.8 2842.2L1470.6 2829.6L1492.3 2817L1514 2804.4L1514 2838.3L1492.3 2846.7L1470.6 2855L1448.8 2863.4L1427.1 2871.8L1405.4 2880.2L1383.6 2888.7L1361.9 2897.2L1340.2 2906.7L1318.4 2918.4L1296.7 2930.8L1275 2943.3L1253.3 2955.9L1231.5 2968.5L1209.8 2981.1L1188.1 2993.7L1166.3 3006.3L1144.6 3018.9L1122.9 3031.5L1101.1 3044.1L1079.4 3056.7L1057.7 3069.3L1035.9 3081.9L1014.2 3094.5L992.5 3107.2" fill="#e4e4e4"/>
<path d="M992.5 3073L1514 2821.3" stroke="#707070" stroke-width="3" fill="none"/>
<path d="M1252.2 2950.4L1252.2 2966.3L1266.1 2989.4L1284.9 2990.1L1288.3 2994.4L1293.2 2995.9L1299.6 3008.6L1303.2 3008.6L1307.9 3002.5L1314.4 3000.1L1320.5 3000.8L1329.8 3005.4L1354.3 3003.5L1361 2994.4L1384.6 2989.5L1403.1 2980.2L1407.7 2933.7L1396.2 2926.7L1394.6 2923.2L1402.2 2910.2L1418.4 2899.5L1419.1 2893.2L1415.7 2878L1417.2 2868.9L1422.7 2858.7L1418.9 2850.5L1417.6 2841.6L1418.5 2832L1422.1 2827.6L1422.1 2805.2L1408.3 2804.7L1400.9 2795.9L1394.6 2794.2L1389.8 2789.5L1386.1 2772.9L1386.8 2767.6L1389.7 2762.9L1390.2 2755.1L1387.5 2746L1377.1 2745L1370.3 2739L1367.1 2742.8L1362 2745.4L1361.9 2761.4L1359.5 2763.9L1355.2 2764.1L1351.9 2771L1353.5 2780.7L1347.6 2785.7L1338 2818.7L1314 2833.6L1300 2852.3L1299.5 2910L1285.1 2928.9L1271.5 2930.3L1267.5 2933.6L1259.9 2936.4L1258.3 2944.5Z" fill="#4b9db2" stroke="#4b9db2" stroke-width="8" stroke-linejoin="round"/>
<g stroke-width="17.2" stroke-linecap="round" fill="none" opacity="0.95">
<path d="M1327.7 2796.7h0M1402.5 2757.1h0M1295 2873h0M1352.6 2741.9h0M1426.6 2890.2h0M1369.1 3004.8h0M1416.5 2824h0M1327.8 2815.7h0M1424.7 2885.8h0M1435.3 2911.1h0M1377.5 3002.5h0M1423.8 2986.2h0M1342.6 2818h0M1305.8 2852.8h0M1437.8 2875.2h0M1270.9 2920.7h0M1393.3 3001.5h0M1281.8 2912.8h0M1400.9 2921.8h0M1404.1 2929.5h0M1430.5 2906.5h0M1408.6 2953.4h0M1384.3 2755.4h0M1277.9 3006.4h0M1385.4 2743.6h0M1297.6 2912.8h0M1332.9 3004.9h0M1341.6 2762.4h0M1403.9 2913.9h0M1333.3 2773.4h0" stroke="#55a7bb"/>
<path d="M1438.4 2907.5h0M1339.3 3003.1h0M1290.3 2847.5h0M1093.7 2983.7h0M1302.2 3008.6h0M1296.1 2916.1h0M1445.6 2855.3h0M1285.8 2810.1h0M1292 2837.7h0M1289 2929.6h0M1347.6 2793.3h0M1322.1 2998.9h0M1411.6 2799.9h0M1272.7 2873h0M1427.9 2985.5h0M1397.9 2994.7h0M1275.2 2931.9h0M1281.4 2997.6h0M1430.9 2952.7h0M1435.1 2707.5h0M1380.6 2751.6h0" stroke="#74a1c8"/>
<path d="M1435 2836.2h0M1293.2 3008.6h0M1230.3 2968.6h0M1371.7 2739h0M1291 2868.8h0M1331.4 2999.5h0" stroke="#49b392"/>
<path d="M1205.3 2996.4h0M1163.9 2955.1h0M1276.3 3028.7h0M1303.7 2899.5h0M1444.6 2947.5h0M1420.7 2715.8h0M1390.3 2756.4h0M1239.7 2972.3h0M1338.7 2605.5h0M1402.7 2974.3h0M1349.3 2660.4h0M1439.1 2826h0M1327.1 2807h0M1335.2 2746.8h0M1028.3 3029.1h0M1193.9 2963h0" stroke="#7ba694"/>
<path d="M1375.4 3026.3h0M992.5 3006.7h0" stroke="#929898"/>
<path d="M1327.8 2817.9h0M1296.6 3016.5h0M1435.2 2841.7h0M1245.1 2967.5h0M1340.2 2753.3h0M1302.6 2859h0M1290.4 2901.1h0M1355 2769.5h0M1302.7 2839h0M1332.6 2773.6h0M1400.4 2908.5h0M1303.4 2898.4h0M1410.7 2920.4h0M1415.6 2948.8h0M1336.8 2797.6h0M1349.9 2756.9h0M1429.5 2952.9h0M1304.9 2914.5h0M1406.5 2959.3h0M1350.9 2795.3h0M1445.6 2847.5h0M1406.7 2966.9h0M1291.5 2849.4h0M1400.9 2932.4h0M1341.2 2771.5h0M1305.2 3011.9h0M1268.6 2998.4h0M1400.1 2996.6h0M1367.2 2727.7h0M1418.5 2981h0M1339.3 2783.3h0M1410.5 2792.4h0M1276.5 3014.7h0M1404.4 2929.8h0M1443 2897h0M1424.1 2915h0M1296.3 2924.8h0M1335.5 3005.2h0M1422.1 2923.6h0M1414.6 2798.1h0" stroke="#55a7bb"/>
<path d="M1392.5 2773.5h0M1426.3 2887h0M1419.9 2806.9h0M1303.4 2899h0M1433.4 2978.8h0M1438.2 2913h0M1294 2858.8h0M1280.9 2926.6h0M1255.5 2953h0M1448.2 2709.9h0M1419.7 2853.6h0M1412.1 2958.4h0M1272.4 3001.6h0M1325.8 2998.9h0M1339.6 2762.3h0M1249.2 2968.3h0M1421 2870.3h0M1283.8 3002.3h0M1157.3 3001.9h0M1427.5 2897.2h0M1290.7 2919.9h0M1246.2 2974h0M1331.1 2790.9h0M1404.2 2920.4h0M1318.5 2799.8h0M1330.3 2802.4h0" stroke="#74a1c8"/>
<path d="M1317.1 2995h0" stroke="#49b392"/>
<path d="M1122.4 2931.2h0M1435.2 2594.5h0M1224.9 2851.9h0M1250.2 2980.4h0M1305.9 3006.8h0M1387.3 2717.7h0M1229.7 3019.1h0M1438.7 2755.2h0" stroke="#7ba694"/>
<path d="M1364.6 2742.6h0M1433.1 2880.5h0M1291.8 2991.4h0M1403.6 2938.1h0M1295.5 2994.1h0M1272.9 2999.7h0M1404.6 2976.3h0M1408.7 2969.8h0M1261.1 2944.3h0M1378.1 2750.4h0M1414.5 2974h0M1334.4 2830.1h0M1283 2935.2h0M1391.6 2913.5h0M1355.8 2741.4h0M1422 2888h0M1239.4 2975.4h0M1274.9 2919.1h0M1439.1 2837.1h0M1336.7 2827.1h0M1322.8 3005.8h0M1316 2836.3h0M1415.2 2887.1h0M1303.8 2882.9h0M1392.9 2764.6h0M1337.4 2752.8h0M1420.7 2803.8h0M1438.3 2830h0M1372.9 2997.6h0M1299.3 2875.1h0M1236.4 2966.1h0M1275.6 2998h0M1428 2878.9h0M1429.8 2985.5h0" stroke="#55a7bb"/>
<path d="M1289 2882.2h0M1382.5 2690.7h0M1355.4 2783.1h0M1416.3 2856.6h0M1377 3005h0M1439.1 2887.5h0M1294.8 2903.1h0M1256.9 2962.5h0M1389.7 2980.7h0M1480.4 2869.9h0M1302.4 3017.3h0M1272 3007.8h0M1430.2 2817.7h0M1422.8 2829.1h0" stroke="#74a1c8"/>
<path d="M1409.3 2903.2h0M1425.4 2874.9h0M1335.8 2742.8h0M1275.2 3016.3h0M1420 2812.5h0M1345.7 2790.2h0M1396.4 2756h0M1433.6 2838.9h0M1278.7 2805.4h0M1377.4 2984.6h0M1305.4 2842h0M1403.5 2803.8h0" stroke="#49b392"/>
<path d="M1381.8 2750.3h0M1342.9 2810h0M1143.9 2989.9h0M1466.1 2948.7h0M1405.2 3011.5h0M1336.1 3001.8h0M1308.5 3023.9h0M1513.9 2795.8h0M1442.4 2816.6h0M1242.3 2959.2h0M1317.9 3000.2h0M1361 2707.5h0M1258.4 3025.1h0M1293.8 2842.6h0" stroke="#7ba694"/>
<path d="M1214.2 2957h0" stroke="#929898"/>
</g>
<path d="M977.7 2580.1V3122.2H1529.8" stroke="#111" stroke-width="4.8" fill="none"/>
<path d="M977.7 2725.8h-15M977.7 2877.2h-15M977.7 3028.1h-15M1097.1 3122.2v17M1268.5 3122.2v17M1439 3122.2v17" stroke="#111" stroke-width="3.8" fill="none"/>
<text x="933" y="2738.4" font-size="36.3" textLength="19.9" lengthAdjust="spacingAndGlyphs">4</text>
<text x="933" y="2889.8" font-size="36.3" textLength="19.9" lengthAdjust="spacingAndGlyphs">2</text>
<text x="933" y="3040.7" font-size="36.3" textLength="19.9" lengthAdjust="spacingAndGlyphs">0</text>
<text x="1088.6" y="3182.9" font-size="36.3" textLength="19.9" lengthAdjust="spacingAndGlyphs">2</text>
<text x="1260.1" y="3182.9" font-size="36.3" textLength="19.9" lengthAdjust="spacingAndGlyphs">4</text>
<text x="1430.6" y="3182.9" font-size="36.3" textLength="19.9" lengthAdjust="spacingAndGlyphs">6</text>
<text x="1041" y="3231.7" font-size="38.5" textLength="427.9" lengthAdjust="spacingAndGlyphs">The expression of NFKBIE</text>
<g transform="translate(1254.9 3281.9)"><text x="-121.3" y="0" font-size="38.5" textLength="59.1" lengthAdjust="spacingAndGlyphs">Log</text><text x="-62.2" y="12.5" font-size="19.3" stroke="none" textLength="10.6" lengthAdjust="spacingAndGlyphs">2</text><text x="-42.2" y="0" font-size="38.5" textLength="163.4" lengthAdjust="spacingAndGlyphs">(TPM + 1)</text></g>
<text x="-211.4" y="0" font-size="38.5" transform="translate(858.2 2861.9) rotate(-90)" textLength="422.8" lengthAdjust="spacingAndGlyphs">The expression of PDCD1</text>
<g transform="translate(907.9 2860.5) rotate(-90)"><text x="-121.3" y="0" font-size="38.5" textLength="59.1" lengthAdjust="spacingAndGlyphs">Log</text><text x="-62.2" y="12.5" font-size="19.3" stroke="none" textLength="10.6" lengthAdjust="spacingAndGlyphs">2</text><text x="-42.2" y="0" font-size="38.5" textLength="163.4" lengthAdjust="spacingAndGlyphs">(TPM + 1)</text></g>
<text x="996.8" y="2637.5" font-size="50.1" textLength="28.1" lengthAdjust="spacingAndGlyphs">K</text>
<text x="1006.8" y="2798.4" font-size="38.5" textLength="171.4" lengthAdjust="spacingAndGlyphs">Spearman</text>
<g transform="translate(1006.8 2848.6)"><text x="0" y="0" font-size="38.5" font-style="italic" textLength="22.6" lengthAdjust="spacingAndGlyphs">R</text><text x="32" y="0" font-size="38.5" textLength="125.2" lengthAdjust="spacingAndGlyphs">= 0.371</text></g>
<g transform="translate(1006.8 2898.7)"><text x="0" y="0" font-size="38.5" font-style="italic" textLength="21.5" lengthAdjust="spacingAndGlyphs">P</text><text x="30.9" y="0" font-size="38.5" textLength="125.2" lengthAdjust="spacingAndGlyphs">&lt; 0.001</text></g>
</g>
<g id="pL">
<path d="M1808.7 2973.2L1831.6 2972.5L1854.4 2971.8L1877.3 2971.2L1900.1 2970.5L1922.9 2969.8L1945.8 2969.1L1968.6 2968.5L1991.5 2967.8L2014.3 2967.1L2037.2 2966.4L2060 2965.7L2082.9 2965L2105.7 2964.3L2128.6 2963.6L2151.4 2962.7L2174.2 2961L2197.1 2956.3L2219.9 2950.7L2242.8 2945.1L2265.6 2939.5L2288.5 2933.8L2311.3 2928.1L2334.2 2922.4L2357 2916.7L2357 2957.1L2334.2 2957.8L2311.3 2958.5L2288.5 2959.2L2265.6 2959.9L2242.8 2960.6L2219.9 2961.3L2197.1 2962.2L2174.2 2963.8L2151.4 2968.4L2128.6 2973.9L2105.7 2979.6L2082.9 2985.2L2060 2990.9L2037.2 2996.6L2014.3 3002.3L1991.5 3008L1968.6 3013.6L1945.8 3019.3L1922.9 3025L1900.1 3030.7L1877.3 3036.4L1854.4 3042.1L1831.6 3047.8L1808.7 3053.5" fill="#e4e4e4"/>
<path d="M1808.7 3013.3L2357 2936.9" stroke="#707070" stroke-width="3" fill="none"/>
<path d="M2122.8 3035.3L2127.9 3073.4L2159.5 3073.4L2162.7 3064.3L2167 3060.2L2187.1 3054.9L2214.4 3041.2L2239.5 3026.4L2264.2 3021.8L2249.3 3021.2L2237.8 3014.5L2236.3 3012.2L2237.3 3008.5L2244.7 3004L2246.1 2996L2240.1 2975.1L2240.1 2960L2231.1 2949.7L2225.7 2934.9L2225.7 2923L2229.1 2909.3L2233.9 2900.1L2233 2888.6L2236.4 2875.1L2228.8 2867.4L2218 2876.4L2157.6 2878.2L2156.3 2892.5L2143.3 2902.5L2142.6 2939.1L2138.8 2943.7L2124.2 2951.1L2123.5 2986.7L2120.1 2991.2L2107.5 2998.5L2107.5 3017.6ZM2205.4 2817.7L2218 2821L2222.1 2823.8L2224.4 2831.3L2219.7 2844.2L2228.4 2844.2L2228.4 2811.6L2205.4 2811.6Z" fill="#4b9db2" stroke="#4b9db2" stroke-width="8" stroke-linejoin="round"/>
<g stroke-width="17.2" stroke-linecap="round" fill="none" opacity="0.95">
<path d="M2262.3 2856h0M2185.8 3066.7h0M2272.1 2969.6h0M2099.3 3056.9h0M2118.9 3029.6h0M2238.2 2942.6h0M2105.4 3021.1h0M2176.7 3061.8h0M2123.1 2985h0M2146.3 2936.7h0M2155 2877.1h0M2248.1 2995.4h0M2210.3 2835.1h0M2135 2903.1h0M2130.2 2959.8h0M2231.4 2834.4h0M2209.8 3075.4h0M2156.7 2848.5h0M2242.7 2832.9h0M2234.1 2820.2h0M2240 2836.6h0M2116.1 3020.1h0M2256.1 2972.8h0M2178.9 2874.4h0M2265.5 2955.5h0M2186.9 2864.8h0M2205 3077.4h0M2200.5 3064.5h0M2109.3 3042.1h0M2133.7 2953.9h0M2250.4 2868.8h0M2204.4 2846.3h0M2247.7 2940h0M2156.6 3079.1h0M2279.9 3013.6h0M2129.9 2945h0M2232.2 3004.1h0M2218.8 3048.9h0M2279.3 2945.7h0M2157 2888.5h0" stroke="#55a7bb"/>
<path d="M2041.8 2711.5h0M2141.2 2883h0M2200.2 3059.5h0M2255.3 2854.2h0M2199.4 2710.1h0M2223.2 2834.6h0M1943.9 2725.8h0M2116.2 2975.8h0M2238.3 2843.1h0M2257.7 2946.8h0M2278.7 2986.5h0M2217.7 2825.3h0M2266 2880.6h0M2166.7 2776.6h0M2208.9 2815.9h0M2226.8 2910h0" stroke="#74a1c8"/>
<path d="M2105.8 2861.3h0M2242.9 2890.8h0M2248.9 2950h0M2171.5 2737.2h0M2282.1 3019.1h0M2057.3 2831.5h0M2238.5 2829.7h0M2247 2878.8h0M2244.7 2858.1h0M2099.5 3021.2h0M2097 2808.8h0" stroke="#49b392"/>
<path d="M2255.1 2922.2h0M2188.2 2796.9h0M2355.4 3048.3h0M2274.9 2690h0M2105.8 2944.9h0M2220.7 2925.4h0M2237.2 2883.2h0M2268.6 2825.3h0M2101 2921.8h0M2163.1 2737.2h0M2174 3077h0M2323.1 2964h0M1846 3025.3h0M2282.5 3042.8h0M1966.8 2754.5h0M2256.3 3010.7h0M2163.1 2756.3h0M2244.3 2774.9h0M2270.6 3069.8h0" stroke="#7ba694"/>
<path d="M1808.7 2944.1h0" stroke="#929898"/>
<path d="M2207.1 3066.7h0M2274.9 3023.6h0M2264.3 2980.7h0M2193.9 2850.4h0M2176.1 2872h0M2096.4 2997.6h0M2253.4 2991.3h0M2124.3 3037.1h0M2239.3 2920.5h0M2103.4 2980.9h0M2258.5 2950.9h0M2167.4 3053.3h0M2158.7 2865.8h0M2147.5 2876h0M2212 2841.2h0M2227.4 2894.2h0M2226.6 2913.8h0M2204.9 2870.1h0M2204.6 3045.7h0M2260.9 3017.3h0M2246.9 3033.4h0M2220.2 2841.7h0M2272.7 3024.3h0M2135.5 2948.9h0M2248.7 2900.3h0M2228.2 2942.1h0M2224.1 2836.4h0M2163.7 2861.2h0M2145.6 2889.9h0M2251.1 3005.3h0M2171.1 2855.1h0M2217.6 2869.6h0M2148.8 2897.9h0M2152.1 3083.4h0M2162.5 2880.8h0M2274 2869.1h0M2217.4 3082.4h0M2125.6 2944.7h0M2136.2 3075.9h0M2195.7 2856.4h0" stroke="#55a7bb"/>
<path d="M2145 2887.7h0M2131.1 2949.6h0M2252.2 2879.4h0M2219.3 2759.9h0M2143.1 2931.7h0M2112.2 3049.5h0M2165.5 2793.3h0M2269.1 2941.2h0M2261.4 2916.5h0M2140.5 2949.6h0M2268.4 2941.7h0M2178.7 3059.1h0M2275 2878.3h0M1912.8 2776h0M2226.8 2954h0M2102.2 2885.2h0M2271.2 3024.4h0M2187.4 2863.8h0M2142.1 2905.1h0M2199.8 3068.9h0M2267.2 3012.7h0M2095.9 3005.9h0M2101.3 3012.9h0" stroke="#74a1c8"/>
<path d="M2115.4 2870.9h0M2227.6 2761h0M2030.6 3048.3h0M2273 2906.7h0M2200.7 2856.6h0M2108.4 3052.6h0M2056.9 3007.7h0M2119 2797.6h0M2195.3 3055.9h0M2275.4 2902.4h0M2130.8 3074.9h0" stroke="#49b392"/>
<path d="M2130.9 2840.3h0M2131.7 2902.8h0M2207.3 2755.1h0M2229.4 3034.6h0M2306.4 3041.2h0M2067.6 3027.3h0M2220 2869.8h0M2286.1 2747.2h0M2239.6 3066.7h0M2219 2825.2h0M1991.2 2922.2h0M2157.2 2780.1h0" stroke="#7ba694"/>
<path d="M2195 2850.2h0M2097.9 3024h0M2094.3 3065.3h0M2238.8 2892.8h0M2266.5 3001.1h0M2247.7 2865.7h0M2128.5 2905.2h0M2201.8 3052.7h0M2244.1 2848.1h0M2276.6 2877.1h0M2258.6 2994.9h0M2253.5 2887.9h0M2203.6 2879.7h0M2251.7 2812.2h0M2239.4 2880.3h0M2230.3 2883.3h0M2234.1 2906.3h0M2168.2 2850.2h0M2216.7 3069h0M2143 2884.1h0M2097.4 3022.8h0M2221.2 2848.3h0M2203.8 3057.5h0M2239.2 2835.9h0M2138.3 2940.3h0M2108.2 3001.5h0M2244.9 3000.9h0M2185.3 2845.3h0M2146.9 2881.6h0M2195.6 3063.3h0M2242.3 2885.8h0M2114.6 3004.7h0M2206.8 2829.9h0M2254 2926.6h0M2161.5 3078h0M2264.7 2961.3h0" stroke="#55a7bb"/>
<path d="M2200.5 2807.2h0M2244.6 2827.7h0M2120.1 3021.6h0M2178.9 2841.7h0M2122.2 2974.6h0M2119.4 2948.6h0M2216.1 2697.2h0M2237.1 2911.2h0M2265.6 2815h0M2117.2 3023.5h0M2245.7 2833.5h0M2257.1 2877.6h0M2267.7 2905.4h0M2087.9 2921h0M2103.4 2870.9h0M2225.9 2950.8h0M2100.3 3031.5h0M2230 3012.2h0M2068.8 3064.3h0M2205.2 3047h0M2096.3 3066.9h0M2245.8 2902.3h0M2115.9 2983h0M2081.7 3057.3h0M2071.2 3082.2h0M2273.4 3003.8h0" stroke="#74a1c8"/>
<path d="M2222.1 2810.1h0M2214.1 3048.6h0M2249.1 2798.1h0M2198.1 3055.8h0M2161.5 2859h0M2184.6 3105.6h0M2267.2 2982.9h0M2071.9 2706.7h0" stroke="#49b392"/>
<path d="M2215 2811.4h0M2210.6 3044.1h0M2092.7 2860.1h0M2152.4 2827.9h0M2219.9 2594.5h0M2206.1 2783.7h0M2242.3 2893.3h0M2074.8 3014.2h0M2157.2 2806.4h0M2115.6 2997.4h0M2087.9 3091.8h0M1979.7 2839.5h0M2137.9 2925.8h0M2019.1 2883.3h0M2051.6 2870.4h0M2232.2 2871.9h0" stroke="#7ba694"/>
</g>
<path d="M1792 2580.1V3122.2H2372.8" stroke="#111" stroke-width="4.8" fill="none"/>
<path d="M1792 2634.1h-15M1792 2791.3h-15M1792 2948.4h-15M1792 3106.5h-15M1917.1 3122.2v17M2097.2 3122.2v17M2277.3 3122.2v17" stroke="#111" stroke-width="3.8" fill="none"/>
<text x="1744.9" y="2646.7" font-size="36.3" textLength="19.9" lengthAdjust="spacingAndGlyphs">6</text>
<text x="1744.9" y="2803.9" font-size="36.3" textLength="19.9" lengthAdjust="spacingAndGlyphs">4</text>
<text x="1744.9" y="2961" font-size="36.3" textLength="19.9" lengthAdjust="spacingAndGlyphs">2</text>
<text x="1744.9" y="3119.1" font-size="36.3" textLength="19.9" lengthAdjust="spacingAndGlyphs">0</text>
<text x="1908.7" y="3182.9" font-size="36.3" textLength="19.9" lengthAdjust="spacingAndGlyphs">2</text>
<text x="2088.8" y="3182.9" font-size="36.3" textLength="19.9" lengthAdjust="spacingAndGlyphs">4</text>
<text x="2268.8" y="3182.9" font-size="36.3" textLength="19.9" lengthAdjust="spacingAndGlyphs">6</text>
<text x="1865.8" y="3231.7" font-size="38.5" textLength="427.9" lengthAdjust="spacingAndGlyphs">The expression of NFKBIE</text>
<g transform="translate(2079.7 3281.9)"><text x="-121.3" y="0" font-size="38.5" textLength="59.1" lengthAdjust="spacingAndGlyphs">Log</text><text x="-62.2" y="12.5" font-size="19.3" stroke="none" textLength="10.6" lengthAdjust="spacingAndGlyphs">2</text><text x="-42.2" y="0" font-size="38.5" textLength="163.4" lengthAdjust="spacingAndGlyphs">(TPM + 1)</text></g>
<text x="-208.9" y="0" font-size="38.5" transform="translate(1668.7 2862.4) rotate(-90)" textLength="417.9" lengthAdjust="spacingAndGlyphs">The expression of CD274</text>
<g transform="translate(1718.8 2860.5) rotate(-90)"><text x="-121.3" y="0" font-size="38.5" textLength="59.1" lengthAdjust="spacingAndGlyphs">Log</text><text x="-62.2" y="12.5" font-size="19.3" stroke="none" textLength="10.6" lengthAdjust="spacingAndGlyphs">2</text><text x="-42.2" y="0" font-size="38.5" textLength="163.4" lengthAdjust="spacingAndGlyphs">(TPM + 1)</text></g>
<text x="1827.8" y="2638.9" font-size="50.1" textLength="22.8" lengthAdjust="spacingAndGlyphs">L</text>
<text x="1818.3" y="2825.2" font-size="38.5" textLength="171.4" lengthAdjust="spacingAndGlyphs">Spearman</text>
<g transform="translate(1818.3 2874.8)"><text x="0" y="0" font-size="38.5" font-style="italic" textLength="22.6" lengthAdjust="spacingAndGlyphs">R</text><text x="32" y="0" font-size="38.5" textLength="125.2" lengthAdjust="spacingAndGlyphs">= 0.197</text></g>
<g transform="translate(1818.3 2925)"><text x="0" y="0" font-size="38.5" font-style="italic" textLength="21.5" lengthAdjust="spacingAndGlyphs">P</text><text x="30.9" y="0" font-size="38.5" textLength="125.2" lengthAdjust="spacingAndGlyphs">&lt; 0.001</text></g>
</g>
<g id="pM">
<path d="M2573.5 2984.3L2596.1 2981.8L2618.7 2979.3L2641.3 2976.8L2663.9 2974.3L2686.5 2971.8L2709 2969.3L2731.6 2966.8L2754.2 2964.3L2776.8 2961.8L2799.4 2959.3L2822 2956.8L2844.6 2954.3L2867.2 2951.8L2889.7 2949.2L2912.3 2946.6L2934.9 2943L2957.5 2936.4L2980.1 2928.9L3002.7 2921.4L3025.3 2913.8L3047.9 2906.2L3070.4 2898.6L3093 2891L3115.6 2883.4L3115.6 2924.6L3093 2927.1L3070.4 2929.6L3047.9 2932.1L3025.3 2934.6L3002.7 2937.1L2980.1 2939.7L2957.5 2942.3L2934.9 2945.8L2912.3 2952.4L2889.7 2959.8L2867.2 2967.3L2844.6 2974.9L2822 2982.5L2799.4 2990.1L2776.8 2997.7L2754.2 3005.3L2731.6 3013L2709 3020.6L2686.5 3028.2L2663.9 3035.8L2641.3 3043.4L2618.7 3051L2596.1 3058.6L2573.5 3066.2" fill="#e4e4e4"/>
<path d="M2573.5 3025.3L3115.6 2904" stroke="#707070" stroke-width="3" fill="none"/>
<path d="M2858.7 3017.4L2863.7 3025.2L2866 3048.1L2873.3 3075.9L2884 3077.6L2892.6 3082.4L2897.4 3069.2L2903.7 3068.1L2911.6 3063.1L2941.9 3062.9L2954.7 3068.1L2964.3 3045.1L2982.7 3041L2989.7 3035.9L2989.1 3029.7L2985.6 3024.7L2984.5 3019.5L2985.6 3014.2L2988.9 3009.5L3003.3 3001.3L3029.9 2997.4L3032.6 2978.1L3018.2 2973.3L3015.9 2970.3L3018.8 2960.8L3014.5 2935.5L3017.3 2921.1L3011.6 2909.6L3010.8 2897.4L3007.1 2894.3L3005.8 2876L3000 2869.5L2997.2 2857.4L2989.2 2837.2L2978.3 2820.9L2973.6 2788.3L2959.8 2788.3L2956.4 2790.9L2954.4 2829.6L2950 2838.3L2943 2841.6L2909.2 2845.3L2909.1 2865L2906.6 2884.5L2903.9 2890L2899.7 2893.5L2898.7 2902.5L2890.4 2911L2889 2917.7L2884.7 2923L2883.9 2949.7L2878.1 2963.4L2878.5 2970L2884.7 2978L2884.6 3010.5L2881.8 3013.1Z" fill="#4b9db2" stroke="#4b9db2" stroke-width="8" stroke-linejoin="round"/>
<g stroke-width="17.2" stroke-linecap="round" fill="none" opacity="0.95">
<path d="M3023.6 2966.9h0M3019.7 2894.2h0M2983.9 3023h0M3038 2895h0M2863.1 2975.4h0M2901 3080.7h0M2875.5 2988.9h0M2959.9 3056h0M2969.3 3093.6h0M2969.6 3096.3h0M2867.8 3074.1h0M2859 2950.9h0M2906 2860h0M2854.9 2981h0M3035.2 2789.3h0M2981.3 3023.4h0M3032.7 2913.7h0M2875.4 3005.3h0M2860.7 2981.4h0M2960.7 3040.6h0M2952.1 3056.7h0M2875.7 2957.1h0M2858.1 2935.8h0M2985.1 3026.9h0M2866.7 3006.9h0M3031.4 2945.7h0M2960.4 3052.3h0M2989.1 3089.7h0M2942.5 3061.9h0M2983.7 2804.2h0M2899.3 2901.5h0M2999.5 3066.2h0M2890.4 2998h0M2879.2 2982.2h0M2997.7 2789.3h0M3010.4 2995.4h0M2879.4 2927.3h0M2980.9 3095.6h0M2996.1 2859.2h0" stroke="#55a7bb"/>
<path d="M3001.5 2858.1h0M2677.2 2824.7h0M2864.3 3039.7h0M2954.9 2769.8h0M3033.9 2694.3h0M2946.4 3066.1h0M2966.1 3038.4h0M2898.6 3064.7h0M2988 3025.1h0M2805.4 2758.7h0M2976.6 2764.6h0M2983.6 3025h0M2887.3 2907.3h0M2905.6 3079.4h0M2986.2 2775.5h0M2940.3 2839.3h0M2916.7 2851.5h0M3031.7 2914h0M2981.8 2804.9h0M2884.5 2997.4h0M2933.4 2848.7h0" stroke="#74a1c8"/>
<path d="M3064.7 2976.4h0M3080.7 2861.3h0M2931.5 2768.2h0M2996 3095.4h0M2917.2 2765.8h0M2955.1 2831.4h0M2991.8 2840.9h0M2956.8 2772.8h0M2867.1 3042h0" stroke="#49b392"/>
<path d="M2707.3 2807h0M3022.1 2920.1h0M2882.5 2818.4h0M2729.7 2844.3h0M2986.7 2814.2h0M2924.3 3093h0M3003.6 2861.5h0M3040.1 2850.6h0M3012.7 3061.9h0M2752.4 2907.9h0M2907.6 2774.2h0M2841.9 2932.5h0" stroke="#7ba694"/>
<path d="M2961 2831.2h0M2862 2931.7h0M2889.2 3006.8h0M2985.5 2816.5h0M2851.5 3090.6h0M2882 2925.2h0M3013.7 2961.3h0M2889 2919.5h0M3034.4 2881h0M2907.9 2871.7h0M2975 2785.4h0M2959.2 3065.3h0M2903.4 2886.4h0M3039.4 2939.5h0M2864.2 2972.3h0M3034.2 2934.9h0M2900 3078.6h0M2999.7 2868.8h0M2859.7 2935.3h0M3030.8 2877.8h0M3020.9 2800.5h0M2887.8 3074.7h0M2927.2 2846.5h0M2867 2925h0M3033.2 3004.5h0M3022.1 2933.8h0M2990.7 3015.2h0M3036.1 2961.4h0M2969.1 2779.2h0M3034.7 2957.6h0M2900.2 2909.6h0M3034.5 2800.4h0M2983.1 2776h0M2993.3 3004.6h0M2853 3015.1h0M2971.8 3055.6h0M2884.4 2945.2h0M2896.3 3082.7h0M3023.2 2928.3h0M2869.5 2980.5h0M3029.4 2925.7h0M3017.7 2942.4h0" stroke="#55a7bb"/>
<path d="M2935.1 2744.3h0M2984 2746.2h0M2918.9 2844.6h0M2917.2 2790.9h0M2983.9 3035.6h0M2982 2802.5h0M2888.3 3008h0M2953.3 3063.3h0M2936.3 3093.5h0M2744 2761.2h0M2904.2 2857.9h0M2963.3 3075.9h0M2988.8 3095.4h0M2869.4 2860.1h0M2902.8 2757.5h0M2981 2772.2h0M2952 2834.8h0M2846.9 3015h0M2905.5 2854h0M2876.9 3009.4h0M2900.9 2897.1h0M3026.3 2926.7h0M2874.4 3050.7h0" stroke="#74a1c8"/>
<path d="M2976.8 2770.9h0M3000.7 3032.5h0M2832.4 3050h0M2987.1 3075.3h0" stroke="#49b392"/>
<path d="M2610.3 3019.6h0M2819.3 2979.6h0M2877.8 3106.1h0M3037.8 2785.5h0M2856.4 2976.9h0M2813.3 2789.7h0M2781 2893.1h0M2916 2805.2h0M2936.3 2737.2h0M3033.2 2928.9h0M2820.4 2884h0M3036.6 2746.2h0" stroke="#7ba694"/>
<path d="M2981.5 3017h0M2905.4 2873h0M2875 2968.5h0M2881 2921.5h0M2993.4 2858.5h0M3020.8 2884.5h0M3033 2944.7h0M2975 3093.3h0M3017.7 2804.3h0M2908.1 3065.1h0M2959.9 2800.6h0M3012.5 2872.5h0M3029.8 2999.6h0M3026.1 2897.3h0M2982.7 3006.9h0M3022.5 2919.4h0M2983.5 3090.5h0M2993.9 3070.6h0M3029.1 2896.1h0M2895.4 3077.1h0M2961.8 2814.5h0M2951.2 2832.2h0M3032.6 2904.7h0M2905.9 2891.9h0M2963 3055.3h0M2957.7 2768.1h0M2881 2969.9h0M3019.1 2899.5h0M2952.8 2830.6h0M2887.8 2923.2h0M2984.4 3054.9h0M2986 3014.6h0M2980.6 2792.7h0M2967.2 2782.1h0M2978.9 3011.4h0M2963.2 3055.7h0M2904.8 2886.1h0M3039.4 2890.2h0" stroke="#55a7bb"/>
<path d="M2888.1 2897.6h0M3024.3 2944.1h0M2889.3 3083.1h0M3027.5 2885.4h0M2871.8 2839.9h0M3048.8 2923.8h0M2858.7 2906.7h0M2981.4 3040.7h0M2969 3081.3h0M3010.1 2965.9h0M3024.6 2905.2h0M2793 3062.4h0M2909.4 2845.5h0M2964.5 2776.5h0M2917.2 2826.7h0M3038 2942.8h0M3043.8 2962.2h0M3034.2 2842.2h0M2969.7 3097.8h0M2902.6 3097.4h0M3001.9 2744.8h0" stroke="#74a1c8"/>
<path d="M2905.4 3064.7h0M2833.6 2872.1h0M3030.2 2903.4h0M3014 2960.2h0M2955.9 2787.7h0M2897.6 3062.3h0M2901.8 2873.2h0M2866.2 2969.1h0M2857.5 2831.5h0M2986.7 2791.7h0M2950.9 2826h0" stroke="#49b392"/>
<path d="M2875.4 2595.4h0M2828.8 3035.7h0M3030.8 2994.2h0M2873.1 2962.8h0M2864.5 3036.3h0M3114.2 2956.9h0M3017 3005.3h0M2571.1 2975.1h0" stroke="#7ba694"/>
<path d="M2851.5 2898.4h0M2827.6 3007h0" stroke="#929898"/>
</g>
<path d="M2556.3 2580.1V3122.2H3130.9" stroke="#111" stroke-width="4.8" fill="none"/>
<path d="M2556.3 2585.9h-15M2556.3 2758.8h-15M2556.3 2932.1h-15M2556.3 3105.5h-15M2681.5 3122.2v17M2859.1 3122.2v17M3036.3 3122.2v17" stroke="#111" stroke-width="3.8" fill="none"/>
<text x="2518.8" y="2598.5" font-size="36.3" textLength="19.9" lengthAdjust="spacingAndGlyphs">6</text>
<text x="2518.8" y="2771.4" font-size="36.3" textLength="19.9" lengthAdjust="spacingAndGlyphs">4</text>
<text x="2518.8" y="2944.7" font-size="36.3" textLength="19.9" lengthAdjust="spacingAndGlyphs">2</text>
<text x="2518.8" y="3118.1" font-size="36.3" textLength="19.9" lengthAdjust="spacingAndGlyphs">0</text>
<text x="2673" y="3182.9" font-size="36.3" textLength="19.9" lengthAdjust="spacingAndGlyphs">2</text>
<text x="2850.7" y="3182.9" font-size="36.3" textLength="19.9" lengthAdjust="spacingAndGlyphs">4</text>
<text x="3027.9" y="3182.9" font-size="36.3" textLength="19.9" lengthAdjust="spacingAndGlyphs">6</text>
<text x="2634" y="3231.7" font-size="38.5" textLength="427.9" lengthAdjust="spacingAndGlyphs">The expression of NFKBIE</text>
<g transform="translate(2847.9 3281.9)"><text x="-121.3" y="0" font-size="38.5" textLength="59.1" lengthAdjust="spacingAndGlyphs">Log</text><text x="-62.2" y="12.5" font-size="19.3" stroke="none" textLength="10.6" lengthAdjust="spacingAndGlyphs">2</text><text x="-42.2" y="0" font-size="38.5" textLength="163.4" lengthAdjust="spacingAndGlyphs">(TPM + 1)</text></g>
<text x="-206.1" y="0" font-size="38.5" transform="translate(2440.2 2861.9) rotate(-90)" textLength="412.1" lengthAdjust="spacingAndGlyphs">The expression of CTLA4</text>
<g transform="translate(2490.3 2860.5) rotate(-90)"><text x="-121.3" y="0" font-size="38.5" textLength="59.1" lengthAdjust="spacingAndGlyphs">Log</text><text x="-62.2" y="12.5" font-size="19.3" stroke="none" textLength="10.6" lengthAdjust="spacingAndGlyphs">2</text><text x="-42.2" y="0" font-size="38.5" textLength="163.4" lengthAdjust="spacingAndGlyphs">(TPM + 1)</text></g>
<text x="2578.3" y="2638.9" font-size="50.1" textLength="46.3" lengthAdjust="spacingAndGlyphs">M</text>
<text x="2593.6" y="2877.7" font-size="38.5" textLength="171.4" lengthAdjust="spacingAndGlyphs">Spearman</text>
<g transform="translate(2593.6 2927.9)"><text x="0" y="0" font-size="38.5" font-style="italic" textLength="22.6" lengthAdjust="spacingAndGlyphs">R</text><text x="32" y="0" font-size="38.5" textLength="125.2" lengthAdjust="spacingAndGlyphs">= 0.229</text></g>
<g transform="translate(2593.6 2978)"><text x="0" y="0" font-size="38.5" font-style="italic" textLength="21.5" lengthAdjust="spacingAndGlyphs">P</text><text x="30.9" y="0" font-size="38.5" textLength="125.2" lengthAdjust="spacingAndGlyphs">&lt; 0.001</text></g>
</g>
<g id="pN">
<path d="M183.9 3854.9L206.9 3844.7L229.9 3834.5L252.8 3824.2L275.8 3814L298.8 3803.8L321.8 3793.6L344.8 3783.4L367.8 3773.2L390.7 3763L413.7 3752.8L436.7 3742.6L459.7 3732.4L482.7 3722.1L505.7 3711.9L528.7 3701.5L551.6 3690.1L574.6 3674.6L597.6 3658.2L620.6 3641.7L643.6 3625.1L666.6 3608.6L689.6 3592.1L712.5 3575.6L735.5 3559L735.5 3610L712.5 3620.2L689.6 3630.5L666.6 3640.7L643.6 3650.9L620.6 3661.1L597.6 3671.4L574.6 3681.7L551.6 3692.9L528.7 3708.3L505.7 3724.6L482.7 3741.1L459.7 3757.6L436.7 3774.2L413.7 3790.7L390.7 3807.2L367.8 3823.8L344.8 3840.3L321.8 3856.9L298.8 3873.4L275.8 3889.9L252.8 3906.5L229.9 3923L206.9 3939.6L183.9 3956.1" fill="#e4e4e4"/>
<path d="M183.9 3905.5L735.5 3584.5" stroke="#707070" stroke-width="3" fill="none"/>
<path d="M512.5 3844.3L518.9 3862.5L517.2 3844.1L520.4 3842L534 3841.9L538.2 3821.4L542.3 3816.1L547.5 3814.5L596.4 3814.5L597.4 3808.6L595.7 3761.9L597.8 3757.6L614.3 3738.7L612.1 3712.4L599 3689.9L604.7 3679.9L610 3674L624.1 3665.7L628.6 3653.5L614.1 3633.8L610.1 3618.7L613.4 3600.3L624.6 3583.6L623.5 3581.3L615.7 3580.7L613.2 3578.9L606.8 3558.2L598.2 3523.7L596 3485.7L587.4 3485.7L585.1 3523.8L581.8 3529.9L576 3532.4L541.3 3532.4L541.1 3557L529.9 3596.5L508.3 3624.8L508.1 3661.7L491.8 3695L491.8 3729.8L500.4 3733.3L503.9 3736.5L513.7 3762.8L508.3 3797.8L508.3 3817.7L514 3820.5L515.4 3825.7L515.2 3834.2Z" fill="#4b9db2" stroke="#4b9db2" stroke-width="8" stroke-linejoin="round"/>
<g stroke-width="17.2" stroke-linecap="round" fill="none" opacity="0.95">
<path d="M595.9 3505.4h0M619.2 3499.4h0M518.1 3774.5h0M608.5 3773.5h0M534.8 3837.7h0M551.5 3521.6h0M624.5 3686.7h0M552.3 3871.4h0M607 3692.1h0M619.3 3775.9h0M584.5 3503.9h0M537.7 3557.6h0M593.2 3504.5h0M606.7 3495.1h0M476.5 3692.4h0M519 3510.4h0M505.9 3855.6h0M479.4 3877.7h0M579 3503.8h0M608.4 3573.4h0M624.1 3572h0M613.4 3465.1h0M650.9 3690.9h0M452.1 3816.1h0M609.8 3481.9h0M654.2 3603.5h0M513.5 3820.1h0M499 3667.2h0M471.3 3725h0M592.2 3493.7h0M515.9 3872h0M648.3 3629.9h0M481.3 3886h0M641 3560.9h0M473.9 3721.1h0M518.1 3857.1h0M514.9 3777h0M584.2 3496.7h0M501.1 3632.7h0M615.8 3782.2h0M649.6 3589.2h0M594.7 3781.3h0M606.2 3746.3h0M585.7 3523.1h0M490.2 3880.5h0M567.3 3523.2h0M550.2 3821.1h0M614.2 3473.4h0M629.9 3633.1h0" stroke="#55a7bb"/>
<path d="M533.7 3577.9h0M183.9 3705.8h0M521.4 3826.6h0M594.5 3796.7h0M597.7 3778.4h0M647.9 3498.7h0M559.5 3512.3h0M582.8 3482.5h0M574.8 3809h0M608.4 3614.5h0M660.9 3751.7h0M450.9 3816h0M499.4 3823.7h0M596.7 3486.6h0M602.3 3566.5h0M619.8 3560h0M559.4 3525.7h0M480.6 3761.3h0M573.7 3821.3h0M535.4 3558.5h0M491.5 3891.7h0M521.9 3583.5h0M656.8 3690.4h0M585.3 3524.7h0M604.2 3683.4h0M572.8 3877.7h0M547.7 3557.1h0M616.4 3893.1h0M473 3482.6h0M657.2 3475.1h0M536.3 3527.4h0" stroke="#74a1c8"/>
<path d="M630.1 3873.4h0M601.6 3535.6h0M493.1 3797.6h0M648.7 3697.5h0M609.3 3732.8h0M633.4 3695.3h0M516.2 3786.9h0M433.8 3624h0M589 3523.8h0M505.5 3807.1h0M289 3686.7h0" stroke="#49b392"/>
<path d="M619.1 3723.6h0M221.1 3876.8h0M433.8 3860.2h0M539.5 3458.7h0M629.9 3569.1h0M515.8 3932.7h0M604 3485.5h0M477.6 3676.2h0M556.5 3531.4h0M604.4 3805.5h0M595.9 3814h0M661.6 3688.1h0" stroke="#7ba694"/>
<path d="M607.2 3611.9h0M643.2 3650.5h0M546.4 3851.5h0M506.8 3816.8h0M505.6 3882.8h0M654.1 3599.2h0M488.6 3676.7h0M621.6 3668.5h0M507.9 3743.7h0M608.2 3610.1h0M652.9 3668.2h0M619.2 3783.5h0M632.5 3547.5h0M595.9 3484.2h0M501.3 3624.6h0M659.5 3654.2h0M616.1 3797.6h0M613.4 3753.8h0M488 3894.8h0M618.6 3676.5h0M537.1 3859h0M618.1 3716.2h0M513.3 3630.3h0M604.5 3802.6h0M455.8 3816.2h0M508.1 3814.7h0M535.4 3842.4h0M532.8 3892.5h0M628.9 3560.6h0M483.8 3843h0M508.3 3639h0M614.7 3767h0M659.2 3580.3h0M612.8 3692.4h0M633.7 3612.5h0M529.5 3599.8h0M635 3487.4h0M611.7 3736.6h0M491.2 3891.1h0M503.7 3786.6h0M476.6 3701.5h0M549.2 3827.3h0M606.6 3531.6h0M629.8 3650.4h0M536.8 3888.9h0M532.7 3869.8h0M649.5 3479.7h0M499.1 3801.1h0M545.4 3850.6h0M452.6 3804.1h0M495.1 3811h0M586 3815.5h0" stroke="#55a7bb"/>
<path d="M395.3 3639.1h0M488.8 3697.6h0M489.5 3675.1h0M609.7 3801.4h0M525.5 3553h0M501.2 3765.2h0M477.6 3805.4h0M528.2 3607.3h0M611.7 3749h0M611.3 3608.3h0M647.9 3627.2h0M647.4 3582.3h0M514.7 3798.6h0M610.7 3491.5h0M496.7 3590.3h0M499.5 3857.5h0M605.1 3702.9h0M608 3634.9h0M609.7 3682.4h0M646.6 3736h0M527.9 3866.3h0M599.8 3497.2h0M645.2 3529.3h0M342.9 3653.3h0M626.8 3475.5h0M625.4 3480.9h0M527 3576h0M613.1 3542.1h0" stroke="#74a1c8"/>
<path d="M642.9 3467.7h0M407.7 3898.6h0M543.8 3572.4h0M494.7 3838.3h0M616.2 3794.8h0M590.6 3784.9h0M550.4 3516.4h0M607.5 3582.5h0M503.8 3686.1h0M319 3589.8h0" stroke="#49b392"/>
<path d="M448.3 3579.2h0M427.7 3578.7h0M496.3 3894h0M471.7 3650.9h0M362.9 3667.9h0M488.4 3869h0M523 3900.7h0M735.3 3773.1h0M457.1 3714.6h0M536.3 3825.8h0M651.9 3437.4h0M357.7 3603.4h0M628.1 3450.3h0" stroke="#7ba694"/>
<path d="M521.2 3516.3h0M545.1 3861.7h0M547.9 3553.3h0M445.9 3813.3h0M633 3583.6h0M639.1 3487.3h0M540.3 3812.6h0M649.6 3593.6h0M608.4 3635.8h0M636.5 3674.4h0M491.5 3691.7h0M515.2 3782.2h0M478.3 3718.5h0M623.7 3614.2h0M505 3819.6h0M523.5 3522.1h0M491 3715.5h0M485.4 3850.1h0M628.3 3621.5h0M508.7 3853.5h0M485.5 3801.8h0M607.8 3781.1h0M641.3 3575.5h0M553.1 3824.6h0M601.5 3554.2h0M629.5 3684.9h0M641.4 3654.2h0M619.1 3549.8h0M649 3501.2h0M654.4 3578.5h0M528.1 3604.9h0M633.7 3658h0M523 3512.2h0M522 3852.6h0M579.6 3533.9h0M479.1 3736.7h0M520.8 3761.6h0M640.2 3499.9h0M598.1 3829h0M593.8 3487.7h0M620.4 3710h0M579.9 3475.3h0M616.9 3704.5h0M608.9 3724.5h0M512.3 3584.8h0M490.1 3697h0M641.8 3663.9h0M620.5 3695.7h0M627.9 3633.8h0M475.8 3695.8h0M601.5 3547.1h0M613.1 3624.8h0M521.3 3580.3h0" stroke="#55a7bb"/>
<path d="M537.2 3856.8h0M592.1 3506.7h0M644.5 3476.2h0M521.5 3550.6h0M568.4 3915h0M490.2 3694h0M485.1 3578.7h0M601.8 3434.1h0M523.2 3536.2h0M626.7 3728.2h0M465.1 3796.9h0M649.3 3877.5h0M615.5 3780.2h0M520.9 3572.2h0M601.9 3793.5h0M536.3 3881.9h0M629.7 3553.7h0M593.6 3821.6h0M494.7 3695.8h0M591.1 3830.9h0M551.6 3899.3h0M661 3657.7h0M630.5 3470.2h0M523.3 3612.4h0M522.7 3604.3h0" stroke="#74a1c8"/>
<path d="M641.9 3641.7h0M558.6 3869.9h0M502.1 3870.7h0M465.3 3608.1h0M526 3850h0M530.6 3601.2h0M485.9 3552.6h0M481.5 3683h0M653.7 3568.7h0" stroke="#49b392"/>
<path d="M479 3899.3h0M701 3587.7h0M585.2 3478.9h0M624.4 3636.2h0M598.8 3762.9h0M484 3500.4h0M615.5 3741.9h0M608.1 3882.1h0M532.5 3408.8h0M610.4 3766.5h0M618.5 3796.3h0M683.7 3795.6h0M418.7 3542.2h0M611.1 3688.6h0M619.1 3788h0" stroke="#7ba694"/>
</g>
<path d="M167.2 3392V3973.3H752.2" stroke="#111" stroke-width="4.8" fill="none"/>
<path d="M167.2 3404.9h-15M167.2 3590.3h-15M167.2 3774.6h-15M167.2 3959.9h-15M292.8 3973.3v17M473.8 3973.3v17M655.3 3973.3v17" stroke="#111" stroke-width="3.8" fill="none"/>
<text x="122.5" y="3417.5" font-size="36.3" textLength="19.9" lengthAdjust="spacingAndGlyphs">6</text>
<text x="122.5" y="3602.9" font-size="36.3" textLength="19.9" lengthAdjust="spacingAndGlyphs">4</text>
<text x="122.5" y="3787.2" font-size="36.3" textLength="19.9" lengthAdjust="spacingAndGlyphs">2</text>
<text x="122.5" y="3972.5" font-size="36.3" textLength="19.9" lengthAdjust="spacingAndGlyphs">0</text>
<text x="284.3" y="4035.4" font-size="36.3" textLength="19.9" lengthAdjust="spacingAndGlyphs">2</text>
<text x="465.4" y="4035.4" font-size="36.3" textLength="19.9" lengthAdjust="spacingAndGlyphs">4</text>
<text x="646.8" y="4035.4" font-size="36.3" textLength="19.9" lengthAdjust="spacingAndGlyphs">6</text>
<text x="255.8" y="4084.2" font-size="38.5" textLength="427.9" lengthAdjust="spacingAndGlyphs">The expression of NFKBIE</text>
<g transform="translate(469.7 4134.3)"><text x="-121.3" y="0" font-size="38.5" textLength="59.1" lengthAdjust="spacingAndGlyphs">Log</text><text x="-62.2" y="12.5" font-size="19.3" stroke="none" textLength="10.6" lengthAdjust="spacingAndGlyphs">2</text><text x="-42.2" y="0" font-size="38.5" textLength="163.4" lengthAdjust="spacingAndGlyphs">(TPM + 1)</text></g>
<text x="-222.1" y="0" font-size="38.5" transform="translate(53.4 3675.3) rotate(-90)" textLength="444.2" lengthAdjust="spacingAndGlyphs">The expression of HAVCR2</text>
<g transform="translate(103.1 3673.8) rotate(-90)"><text x="-121.3" y="0" font-size="38.5" textLength="59.1" lengthAdjust="spacingAndGlyphs">Log</text><text x="-62.2" y="12.5" font-size="19.3" stroke="none" textLength="10.6" lengthAdjust="spacingAndGlyphs">2</text><text x="-42.2" y="0" font-size="38.5" textLength="163.4" lengthAdjust="spacingAndGlyphs">(TPM + 1)</text></g>
<text x="190.1" y="3447" font-size="50.1" textLength="35" lengthAdjust="spacingAndGlyphs">N</text>
<text x="223.5" y="3467" font-size="38.5" textLength="171.4" lengthAdjust="spacingAndGlyphs">Spearman</text>
<g transform="translate(223.5 3516.2)"><text x="0" y="0" font-size="38.5" font-style="italic" textLength="22.6" lengthAdjust="spacingAndGlyphs">R</text><text x="32" y="0" font-size="38.5" textLength="125.2" lengthAdjust="spacingAndGlyphs">= 0.360</text></g>
<g transform="translate(223.5 3566.4)"><text x="0" y="0" font-size="38.5" font-style="italic" textLength="21.5" lengthAdjust="spacingAndGlyphs">P</text><text x="30.9" y="0" font-size="38.5" textLength="125.2" lengthAdjust="spacingAndGlyphs">&lt; 0.001</text></g>
</g>
<g id="pO">
<path d="M992.5 3877.6L1014.2 3871.1L1035.9 3864.6L1057.7 3858.2L1079.4 3851.7L1101.1 3845.3L1122.9 3838.8L1144.6 3832.4L1166.3 3825.9L1188.1 3819.5L1209.8 3813L1231.5 3806.5L1253.3 3800.1L1275 3793.6L1296.7 3787.1L1318.4 3780.4L1340.2 3773L1361.9 3762.6L1383.6 3751.3L1405.4 3739.8L1427.1 3728.3L1448.8 3716.8L1470.6 3705.3L1492.3 3693.7L1514 3682.2L1514 3722.8L1492.3 3729.2L1470.6 3735.7L1448.8 3742.2L1427.1 3748.6L1405.4 3755.1L1383.6 3761.6L1361.9 3768.3L1340.2 3775.9L1318.4 3786.5L1296.7 3797.8L1275 3809.3L1253.3 3820.8L1231.5 3832.3L1209.8 3843.9L1188.1 3855.4L1166.3 3866.9L1144.6 3878.4L1122.9 3890L1101.1 3901.5L1079.4 3913L1057.7 3924.6L1035.9 3936.1L1014.2 3947.7L992.5 3959.2" fill="#e4e4e4"/>
<path d="M992.5 3918.4L1514 3702.5" stroke="#707070" stroke-width="3" fill="none"/>
<path d="M1267.7 3877.9L1283.9 3873L1290.8 3872.9L1304 3883.3L1325.7 3875.9L1337 3878.4L1352.2 3867L1382.5 3876.3L1397.1 3874.2L1399 3868.1L1403.3 3863.4L1408.1 3861.3L1421.2 3859.7L1422.1 3858.1L1422.1 3856.3L1406.6 3850L1404.8 3846.8L1407.4 3842.9L1411.6 3827.9L1408.1 3806L1412 3788.1L1411.2 3771.7L1414.9 3761.8L1411.5 3748.8L1412.5 3739.8L1415.4 3732.3L1413.2 3716L1417.3 3702.5L1412.4 3693.5L1410.6 3681.6L1398.4 3680L1375.9 3666.1L1374.4 3663.4L1374.8 3645.8L1384.4 3641.5L1388.7 3633.5L1387.3 3617.9L1347.7 3617.9L1347.7 3635.2L1352.5 3637L1354.2 3640.1L1349.5 3648.4L1354.7 3656.2L1355 3660.2L1338.9 3673.1L1335.7 3679L1322.8 3690.2L1316.1 3706.1L1313.8 3718.1L1283.2 3755.7L1283.2 3807.4L1266.5 3825L1266.5 3855.3L1270.3 3864.8L1266.5 3874.1Z" fill="#4b9db2" stroke="#4b9db2" stroke-width="8" stroke-linejoin="round"/>
<g stroke-width="17.2" stroke-linecap="round" fill="none" opacity="0.95">
<path d="M1349 3669.1h0M1425 3833.4h0M1369.1 3877.3h0M1274.6 3881.8h0M1428.5 3748h0M1401.6 3685.6h0M1426.8 3851.4h0M1402.7 3819.6h0M1442.2 3765.1h0M1343.9 3887h0M1417 3738h0M1272 3868h0M1274.9 3862.7h0M1260 3855.8h0M1301.8 3879.7h0M1419.6 3692.2h0M1302 3725.6h0M1391.5 3648.5h0M1298.7 3747.8h0M1433 3738.6h0M1287.7 3883.3h0M1328 3879.5h0M1406.3 3850.8h0M1320.2 3715.4h0M1317.2 3870.8h0M1278.4 3899.9h0M1366.8 3886.6h0M1424.3 3864.7h0M1413.2 3659h0M1337.9 3657.7h0M1352 3605.8h0M1424.8 3597.3h0M1317.9 3884.7h0M1438.9 3594.7h0M1273.2 3874.9h0M1268.8 3799.9h0M1322.6 3700h0M1405.2 3690.5h0M1342.9 3654.3h0" stroke="#55a7bb"/>
<path d="M1513.9 3720.3h0M1231.3 3816.9h0M1396 3624h0M1343 3638.9h0M1277.8 3883.3h0M1355 3883.7h0M1285.2 3765.6h0M1157.3 3818.1h0M1327.1 3635.3h0M1425.9 3662.9h0M1412.8 3696.6h0M1417.5 3851.4h0M1224.9 3735.8h0M1402.9 3815.2h0M1287.9 3868.8h0M1282.4 3716.8h0M1275.8 3802.8h0M1404.5 3796h0M1215.5 3817.1h0" stroke="#74a1c8"/>
<path d="M1409.6 3835.5h0M1284.2 3895h0M1289 3796.2h0M1373 3878.6h0M1143.9 3793.2h0M1423.2 3711h0M1411.8 3769.4h0M1283.1 3762.8h0M1380.1 3554.8h0M1327.4 3645.9h0M1353.8 3605.3h0M1415.1 3841.2h0M1286 3748.5h0" stroke="#49b392"/>
<path d="M1422.8 3670.6h0M1416.3 3836.2h0M1229.7 3860.4h0M1392.9 3638.4h0M1435.2 3524.3h0M1256 3706.9h0M1242.8 3876h0M1122.4 3826.7h0" stroke="#7ba694"/>
<path d="M1278.7 3680.6h0" stroke="#929898"/>
<path d="M1305.9 3725h0M1290.2 3806.1h0M1414.2 3854.3h0M1361.7 3594.6h0M1412.7 3724.5h0M1334.5 3675.3h0M1266.5 3808h0M1276.3 3877.8h0M1411.9 3805.4h0M1424.6 3748h0M1431.1 3846.6h0M1258.4 3875h0M1271.8 3882.1h0M1394.6 3604.6h0M1282.7 3901h0M1429.4 3602.6h0M1328.9 3648.2h0M1266 3854.7h0M1262 3877h0M1414.7 3769.3h0M1411.7 3747.7h0M1336.1 3639.2h0M1370.5 3651.9h0M1405.7 3716h0M1298.7 3734.5h0M1444.1 3593.2h0M1426.5 3797.4h0M1409.2 3707h0M1434.2 3752.1h0M1352.1 3664.9h0M1432.3 3753.3h0M1408.5 3745.2h0M1430.6 3784.1h0M1338.6 3665.1h0M1377.8 3895.1h0M1412.6 3659h0M1356.9 3594.7h0M1284.9 3810.4h0M1304.4 3887.3h0" stroke="#55a7bb"/>
<path d="M1264.7 3822.5h0M1402.8 3849.5h0M1433.4 3690.1h0M1355.2 3879.4h0M1337.3 3624.4h0M1406.6 3805.8h0M1416.9 3748.6h0M1395.9 3878.3h0M1419.4 3602.2h0M1406.1 3846.7h0M1376.5 3866.6h0M1388.7 3653.9h0M1369.2 3891.7h0M1239.7 3719.1h0M1337.4 3884.1h0M1436.4 3693.6h0M1335.3 3680.8h0M1423.2 3809.4h0M1273.5 3765h0M1405.9 3792.3h0M1332.9 3662.9h0M1305.6 3714.6h0" stroke="#74a1c8"/>
<path d="M1393.9 3658.9h0M1407.1 3814.1h0M1352.7 3890.3h0M1383.7 3631.7h0M1335.2 3685.9h0M1480.4 3758.5h0M1263.9 3813.3h0M1351.7 3604.9h0M1323.8 3646.9h0M1341.1 3640.9h0" stroke="#49b392"/>
<path d="M1260.7 3901h0M1193.9 3812h0M992.5 3842h0M1395.8 3661.6h0M1361 3564.3h0M1300.1 3659.1h0M1436.3 3557.6h0M1332.4 3557.6h0" stroke="#7ba694"/>
<path d="M1299 3907h0" stroke="#929898"/>
<path d="M1389.2 3655h0M1412.5 3689.7h0M1261.6 3825.3h0M1303.6 3739.3h0M1426.2 3812.1h0M1273.5 3870h0M1383.8 3678.1h0M1287 3731.9h0M1371 3666.7h0M1347.4 3675.8h0M1339.3 3672.4h0M1400.5 3869.9h0M1399 3687.1h0M1367.2 3612.8h0M1263.9 3814.5h0M1419.3 3761.9h0M1431 3828.7h0M1403.4 3811.6h0M1383.2 3662.2h0M1383.9 3625h0M1287.3 3724.6h0M1426.9 3744.4h0M1357.7 3638.8h0M1275.9 3883.6h0M1336.2 3609.4h0M1266.2 3817.2h0M1264.7 3863.3h0M1402.3 3860h0M1349 3593.1h0M1431 3849.9h0M1436.5 3771.6h0M1427.4 3758.3h0M1433.8 3712.3h0M1418.1 3763.5h0M1431.3 3694.3h0M1279.1 3780h0M1371 3870.4h0" stroke="#55a7bb"/>
<path d="M1379.8 3888.5h0M1335.9 3627h0M1261.7 3850.2h0M1426.6 3679.9h0M1426 3811h0M1423.7 3862.4h0M1267.1 3899h0M1093.7 3797.5h0M1292.8 3894.2h0M1371.1 3606.4h0M1430 3828.1h0M1313 3699.5h0M1288.7 3777.5h0M1433.8 3728h0M1287 3760.6h0M1310 3731.1h0M1415.4 3677.8h0M1419.3 3728.3h0M1423.9 3839.1h0M1350.4 3864.2h0M1411.9 3765h0M1446.8 3758.4h0M1259.2 3832.7h0" stroke="#74a1c8"/>
<path d="M1405.1 3870.3h0M1287.1 3875.6h0M1418.3 3761.9h0M1406.4 3823h0M1277.1 3788.9h0M1412 3703.7h0M1428.5 3799.3h0M1368.4 3866.9h0M1416.9 3859.9h0" stroke="#49b392"/>
<path d="M1323.9 3408.8h0M1426.7 3647.9h0M1413.2 3711.2h0M1028.3 3911.2h0M1163.9 3874.4h0M1205.1 3772.1h0M1415.9 3665h0M1431.7 3813h0M1466.1 3780.4h0M1265 3824.4h0M1252.4 3780.4h0" stroke="#7ba694"/>
</g>
<path d="M977.2 3392V3970H1529.3" stroke="#111" stroke-width="4.8" fill="none"/>
<path d="M977.2 3495.7h-15M977.2 3635.1h-15M977.2 3775.1h-15M977.2 3916h-15M1097.1 3970v17M1268.5 3970v17M1438.6 3970v17" stroke="#111" stroke-width="3.8" fill="none"/>
<text x="933" y="3508.3" font-size="36.3" textLength="19.9" lengthAdjust="spacingAndGlyphs">6</text>
<text x="933" y="3647.7" font-size="36.3" textLength="19.9" lengthAdjust="spacingAndGlyphs">4</text>
<text x="933" y="3787.7" font-size="36.3" textLength="19.9" lengthAdjust="spacingAndGlyphs">2</text>
<text x="933" y="3928.6" font-size="36.3" textLength="19.9" lengthAdjust="spacingAndGlyphs">0</text>
<text x="1088.6" y="4035.4" font-size="36.3" textLength="19.9" lengthAdjust="spacingAndGlyphs">2</text>
<text x="1260.1" y="4035.4" font-size="36.3" textLength="19.9" lengthAdjust="spacingAndGlyphs">4</text>
<text x="1430.1" y="4035.4" font-size="36.3" textLength="19.9" lengthAdjust="spacingAndGlyphs">6</text>
<text x="1041" y="4084.2" font-size="38.5" textLength="427.9" lengthAdjust="spacingAndGlyphs">The expression of NFKBIE</text>
<g transform="translate(1254.9 4134.3)"><text x="-121.3" y="0" font-size="38.5" textLength="59.1" lengthAdjust="spacingAndGlyphs">Log</text><text x="-62.2" y="12.5" font-size="19.3" stroke="none" textLength="10.6" lengthAdjust="spacingAndGlyphs">2</text><text x="-42.2" y="0" font-size="38.5" textLength="163.4" lengthAdjust="spacingAndGlyphs">(TPM + 1)</text></g>
<text x="-197.7" y="0" font-size="38.5" transform="translate(858.2 3674.8) rotate(-90)" textLength="395.4" lengthAdjust="spacingAndGlyphs">The expression of LAG3</text>
<g transform="translate(907.9 3673.8) rotate(-90)"><text x="-121.3" y="0" font-size="38.5" textLength="59.1" lengthAdjust="spacingAndGlyphs">Log</text><text x="-62.2" y="12.5" font-size="19.3" stroke="none" textLength="10.6" lengthAdjust="spacingAndGlyphs">2</text><text x="-42.2" y="0" font-size="38.5" textLength="163.4" lengthAdjust="spacingAndGlyphs">(TPM + 1)</text></g>
<text x="991" y="3451.7" font-size="50.1" textLength="35.9" lengthAdjust="spacingAndGlyphs">O</text>
<text x="1023.5" y="3650" font-size="38.5" textLength="171.4" lengthAdjust="spacingAndGlyphs">Spearman</text>
<g transform="translate(1023.5 3700.1)"><text x="0" y="0" font-size="38.5" font-style="italic" textLength="22.6" lengthAdjust="spacingAndGlyphs">R</text><text x="32" y="0" font-size="38.5" textLength="125.2" lengthAdjust="spacingAndGlyphs">= 0.326</text></g>
<g transform="translate(1023.5 3749.3)"><text x="0" y="0" font-size="38.5" font-style="italic" textLength="21.5" lengthAdjust="spacingAndGlyphs">P</text><text x="30.9" y="0" font-size="38.5" textLength="125.2" lengthAdjust="spacingAndGlyphs">&lt; 0.001</text></g>
</g>
<g id="pP">
<path d="M1801.6 3855.8L1824.6 3852.1L1847.6 3848.5L1870.7 3844.8L1893.7 3841.1L1916.8 3837.4L1939.8 3833.7L1962.9 3830L1985.9 3826.3L2009 3822.5L2032 3818.7L2055 3814.8L2078.1 3810.8L2101.1 3806.6L2124.2 3802L2147.2 3797L2170.3 3791L2193.3 3784L2216.4 3776.2L2239.4 3767.8L2262.4 3759.1L2285.5 3750.2L2308.5 3741.2L2331.6 3732.1L2354.6 3723L2354.6 3770.8L2331.6 3774.6L2308.5 3778.4L2285.5 3782.3L2262.4 3786.3L2239.4 3790.5L2216.4 3795L2193.3 3800L2170.3 3806L2147.2 3812.9L2124.2 3820.7L2101.1 3829.1L2078.1 3837.8L2055 3846.7L2032 3855.7L2009 3864.8L1985.9 3873.9L1962.9 3883L1939.8 3892.2L1916.8 3901.4L1893.7 3910.6L1870.7 3919.8L1847.6 3929L1824.6 3938.3L1801.6 3947.5" fill="#e4e4e4"/>
<path d="M1801.6 3901.7L2354.6 3746.9" stroke="#707070" stroke-width="3" fill="none"/>
<path d="M2102.5 3932.3L2136.7 3932.3L2169.8 3922.9L2229.2 3914.4L2234.3 3870.8L2239.7 3866L2257.1 3863L2247.6 3860.2L2243.4 3855.3L2233.3 3805.6L2233.1 3718.5L2229.5 3693.2L2201.8 3689.1L2197.6 3686.5L2195.2 3681.7L2195.7 3675.9L2204.3 3658.5L2200.4 3608.4L2171.9 3608.4L2171.9 3618.7L2170.2 3623.1L2166.7 3626.3L2157.6 3629.5L2157.6 3658.2L2166.4 3675.9L2167.1 3680.8L2165.7 3684.9L2162.2 3688.3L2147.3 3692.4L2143.3 3732.7L2142.8 3759.2L2139.3 3764L2119.8 3774L2107.5 3784.5L2107.5 3824.5L2123.6 3848.2L2128.9 3885.3L2127.7 3889.9L2124.4 3893.4L2090.7 3910.3L2090.7 3926.6Z" fill="#4b9db2" stroke="#4b9db2" stroke-width="8" stroke-linejoin="round"/>
<g stroke-width="17.2" stroke-linecap="round" fill="none" opacity="0.95">
<path d="M2226.6 3706.3h0M2088 3918.2h0M2235.9 3798.4h0M2232.2 3929h0M2103.3 3810.9h0M2220.1 3689.1h0M2243.7 3832.2h0M2138.3 3755.3h0M2240.9 3924.4h0M2143.8 3754.2h0M2161.7 3626.4h0M2125.7 3769.6h0M2196.4 3577.1h0M2101 3817.8h0M2227.2 3781.5h0M2254.1 3846.1h0M2117.1 3902.3h0M2131.5 3861.2h0M2224 3648h0M2221.5 3601.9h0M2109.1 3791.9h0M2283.7 3624.7h0M2193.6 3685h0M2113.8 3935h0M2111.5 3739.8h0M2203.7 3623.8h0M2149.7 3627.6h0M2109.6 3932.4h0M2178.9 3615.3h0M2120.7 3757.9h0M2238.6 3923.6h0M2127.1 3769.4h0M2127 3733.3h0M2236.4 3819.5h0M2164.1 3689.3h0M2231.7 3754h0M2265.6 3747.9h0M2270.6 3843.6h0M2223.3 3634.7h0M2153 3666h0M2143.6 3934.1h0M2230.3 3748.4h0M2277.4 3860.1h0M2270.4 3754.5h0M2100.1 3879.3h0M2141.8 3705.9h0" stroke="#55a7bb"/>
<path d="M2113.6 3928.2h0M2134.9 3741.7h0M2239.6 3807.8h0M2095.8 3902.7h0M2144.1 3690.9h0M2271.8 3764.6h0M2109.1 3797.2h0M2226.9 3912.1h0M2183.5 3917.8h0M2213.5 3921.7h0M2192.1 3615.9h0M2220 3607.4h0M2265.8 3796.6h0M2222.3 3926.8h0M2245.7 3741.3h0M2276.6 3576.9h0M2159 3918.7h0M2231.2 3653.4h0M2265.8 3931.6h0M2234.9 3709.2h0M2213 3581.1h0" stroke="#74a1c8"/>
<path d="M2153.3 3937.7h0M1938.1 3657.1h0M2119.3 3781.2h0M2229.8 3742h0M2264.6 3582.9h0M2155.3 3652.4h0M2189.7 3917.4h0M2119 3775.1h0" stroke="#49b392"/>
<path d="M2103.2 3809h0M2276.6 3795.4h0M2092.7 3628.3h0M1982.1 3757.4h0M2038.4 3523.4h0M2217.6 3618.1h0M2105.7 3829.9h0M2245.6 3688.1h0M2110.7 3826.5h0M2204.2 3555.9h0M2076 3769.9h0" stroke="#7ba694"/>
<path d="M2047.3 3680.8h0" stroke="#929898"/>
<path d="M2210.5 3574.1h0M2231.4 3743.6h0M2267.2 3760.2h0M2160.3 3943.4h0M2246.8 3769.8h0M2260.1 3869.7h0M2168.6 3688.6h0M2137.4 3745.1h0M2203.2 3661.5h0M2222.9 3931.6h0M2250.4 3717.9h0M2246.7 3818.7h0M2086.6 3921.9h0M2228.7 3810.1h0M2198.4 3587h0M2211.5 3698h0M2202.1 3917.8h0M2191.7 3572.3h0M2230.4 3759.8h0M2198.2 3931.1h0M2083.7 3933.2h0M2194.9 3585.5h0M2241.8 3779.5h0M2124.8 3777.2h0M2280 3865.6h0M2102.2 3799.6h0M2158.7 3673.2h0M2275.7 3762.7h0M2164.1 3926.2h0M2133.5 3744.6h0M2251.9 3834.8h0M2237.5 3778.1h0M2252.2 3806.6h0M2090.2 3884.5h0M2247.9 3726.6h0M2230.8 3581.3h0M2241.7 3691.3h0M2068.7 3922.1h0M2270.2 3854.6h0M2185.9 3611.6h0M2255 3772.4h0M2180.2 3608h0M2159 3682.7h0M2209.4 3925.9h0M2209.2 3658.1h0M2142.8 3751h0M2126.9 3766.9h0M2245.7 3742h0M2133.3 3750.6h0M2200.5 3631.5h0" stroke="#55a7bb"/>
<path d="M2252.4 3839.9h0M2134 3731h0M2233.4 3898.3h0M2234.9 3693.1h0M2113.5 3808.2h0M2209.3 3630.5h0M2160.9 3653.4h0M2101.9 3746.5h0M2138.1 3687h0M2217.6 3581.8h0M2146.8 3757.4h0M2148.5 3626.9h0M2216.3 3613.4h0M2168.7 3628.9h0M2278.4 3756.2h0M2228 3913.2h0M2211.1 3629.7h0M2144.1 3690.3h0M2201.5 3678.7h0M2217.4 3620.8h0M2231.8 3764h0M2242.7 3868.8h0M2099.2 3886.6h0" stroke="#74a1c8"/>
<path d="M2263.4 3692.8h0M2306.4 3895h0M2229.8 3763.3h0M2234.2 3581h0M2084.3 3877.5h0M2222.4 3591.3h0" stroke="#49b392"/>
<path d="M2090.7 3908.5h0M2356.6 3856.3h0M2073.7 3931.8h0M2276.6 3904.1h0M2136.8 3938.2h0M2275.8 3466.1h0M2089.6 3793.2h0M2182.8 3572.2h0" stroke="#7ba694"/>
<path d="M2102 3904.7h0M2268.8 3774.3h0M2105.8 3935.1h0M2078 3903.6h0M2172.1 3919.6h0M2217.1 3917.9h0M2242.6 3770.3h0M2111.3 3878.1h0M2171.5 3930.5h0M2176.3 3624.6h0M2082.3 3898.8h0M2271.5 3856.2h0M2251 3817.7h0M2169.6 3609h0M2225.9 3885.9h0M2211.2 3910h0M2199.5 3623h0M2167.8 3941h0M2229.1 3713.4h0M2065.1 3932.8h0M2075 3933.5h0M2195.3 3594.5h0M2089.7 3927.4h0M2234.1 3724.9h0M2247.5 3835.4h0M2237.5 3731.5h0M2236.7 3901.9h0M2247.4 3792.1h0M2208.9 3604h0M2154.3 3957.9h0M2249.9 3710.4h0M2240.4 3720.3h0M2126 3862.7h0M2231.3 3574.7h0M2272.9 3864.8h0M2103.8 3790.8h0M2095.6 3933.7h0M2235.9 3776h0M2082.7 3915.6h0M2226.1 3726.3h0M2205.8 3924.6h0M2097 3822.1h0M2106.5 3818.2h0" stroke="#55a7bb"/>
<path d="M2156 3935.5h0M2064.5 3907.7h0M2194.6 3598.4h0M2228.9 3798.6h0M2100.8 3936.9h0M2092.9 3931.8h0M2166 3922.1h0M2053.3 3625.9h0M2212.7 3687.9h0M2264.6 3610.4h0M2224.2 3897h0M2136.3 3712.8h0M1801.6 3769.4h0M2220.1 3594.1h0M2267 3896.9h0M2116.6 3703h0M2095.6 3891.3h0M2169.5 3627h0" stroke="#74a1c8"/>
<path d="M1961.6 3693.9h0M2271.8 3636.6h0M2102.1 3924.2h0M2212.1 3625.1h0M2273.4 3416.4h0M2111.4 3805.5h0M2181 3576.8h0" stroke="#49b392"/>
<path d="M2267 3714.7h0M2089.6 3855.3h0M2067.7 3908.2h0M2208.5 3954.3h0M1908.1 3609.4h0M2025.3 3907.2h0M2067.6 3731.4h0M2233.6 3626.6h0M2157 3938.7h0M2211.3 3477.1h0M2067.9 3909.9h0M2013.9 3770.4h0M1974.9 3587.9h0M2085.5 3953.1h0M2179.3 3407.3h0M2125 3884.3h0" stroke="#7ba694"/>
<path d="M2287.8 3742.1h0M1837.4 3885.4h0M2320.7 3729.1h0" stroke="#929898"/>
</g>
<path d="M1785.3 3392V3972.3H2370.4" stroke="#111" stroke-width="4.8" fill="none"/>
<path d="M1785.3 3479.9h-15M1785.3 3598.9h-15M1785.3 3717.8h-15M1785.3 3837.2h-15M1785.3 3956.6h-15M1911.4 3972.3v17M2092.9 3972.3v17M2273.9 3972.3v17" stroke="#111" stroke-width="3.8" fill="none"/>
<text x="1742.5" y="3492.5" font-size="36.3" textLength="19.9" lengthAdjust="spacingAndGlyphs">4</text>
<text x="1742.5" y="3611.5" font-size="36.3" textLength="19.9" lengthAdjust="spacingAndGlyphs">3</text>
<text x="1742.5" y="3730.4" font-size="36.3" textLength="19.9" lengthAdjust="spacingAndGlyphs">2</text>
<text x="1742.5" y="3849.8" font-size="36.3" textLength="19.9" lengthAdjust="spacingAndGlyphs">1</text>
<text x="1742.5" y="3969.2" font-size="36.3" textLength="19.9" lengthAdjust="spacingAndGlyphs">0</text>
<text x="1903" y="4035.4" font-size="36.3" textLength="19.9" lengthAdjust="spacingAndGlyphs">2</text>
<text x="2084.5" y="4035.4" font-size="36.3" textLength="19.9" lengthAdjust="spacingAndGlyphs">4</text>
<text x="2265.5" y="4035.4" font-size="36.3" textLength="19.9" lengthAdjust="spacingAndGlyphs">6</text>
<text x="1865.8" y="4084.2" font-size="38.5" textLength="427.9" lengthAdjust="spacingAndGlyphs">The expression of NFKBIE</text>
<g transform="translate(2079.7 4134.3)"><text x="-121.3" y="0" font-size="38.5" textLength="59.1" lengthAdjust="spacingAndGlyphs">Log</text><text x="-62.2" y="12.5" font-size="19.3" stroke="none" textLength="10.6" lengthAdjust="spacingAndGlyphs">2</text><text x="-42.2" y="0" font-size="38.5" textLength="163.4" lengthAdjust="spacingAndGlyphs">(TPM + 1)</text></g>
<text x="-197.3" y="0" font-size="38.5" transform="translate(1661.5 3675.7) rotate(-90)" textLength="394.6" lengthAdjust="spacingAndGlyphs">The expression of TIGIT</text>
<g transform="translate(1711.7 3673.8) rotate(-90)"><text x="-121.3" y="0" font-size="38.5" textLength="59.1" lengthAdjust="spacingAndGlyphs">Log</text><text x="-62.2" y="12.5" font-size="19.3" stroke="none" textLength="10.6" lengthAdjust="spacingAndGlyphs">2</text><text x="-42.2" y="0" font-size="38.5" textLength="163.4" lengthAdjust="spacingAndGlyphs">(TPM + 1)</text></g>
<text x="1820.7" y="3446" font-size="50.1" textLength="28" lengthAdjust="spacingAndGlyphs">P</text>
<text x="1818.3" y="3738.3" font-size="38.5" textLength="171.4" lengthAdjust="spacingAndGlyphs">Spearman</text>
<g transform="translate(1818.3 3787.5)"><text x="0" y="0" font-size="38.5" font-style="italic" textLength="22.6" lengthAdjust="spacingAndGlyphs">R</text><text x="32" y="0" font-size="38.5" textLength="125.2" lengthAdjust="spacingAndGlyphs">= 0.228</text></g>
<g transform="translate(1818.3 3837.7)"><text x="0" y="0" font-size="38.5" font-style="italic" textLength="21.5" lengthAdjust="spacingAndGlyphs">P</text><text x="30.9" y="0" font-size="38.5" textLength="125.2" lengthAdjust="spacingAndGlyphs">&lt; 0.001</text></g>
</g>
</svg></body></html>
